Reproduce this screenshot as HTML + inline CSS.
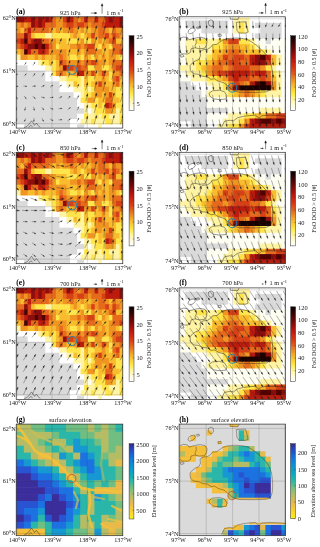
<!DOCTYPE html>
<html lang="en">
<head>
<meta charset="utf-8">
<title>FoO DOD and wind fields</title>
<style>html,body{margin:0;padding:0;background:#fff}body{width:320px;height:547px;overflow:hidden}svg{display:block}</style>
</head>
<body>
<svg width="320" height="547" viewBox="0 0 320 547" font-family="Liberation Serif, serif" fill="#1a1a1a">
<defs>
<filter id="bl" x="-5%" y="-5%" width="110%" height="110%"><feGaussianBlur stdDeviation="0.75"/></filter>
<linearGradient id="gh" x1="0" y1="0" x2="0" y2="1"><stop offset="0.000" stop-color="#080000"/><stop offset="0.042" stop-color="#1e0202"/><stop offset="0.083" stop-color="#330404"/><stop offset="0.125" stop-color="#4b0605"/><stop offset="0.167" stop-color="#630706"/><stop offset="0.208" stop-color="#7d0a07"/><stop offset="0.250" stop-color="#960d09"/><stop offset="0.292" stop-color="#ae120c"/><stop offset="0.333" stop-color="#c5180f"/><stop offset="0.375" stop-color="#d12311"/><stop offset="0.417" stop-color="#d72f13"/><stop offset="0.458" stop-color="#dc4216"/><stop offset="0.500" stop-color="#e0571a"/><stop offset="0.542" stop-color="#e66f1f"/><stop offset="0.583" stop-color="#ed8925"/><stop offset="0.625" stop-color="#f2a129"/><stop offset="0.667" stop-color="#f7b92b"/><stop offset="0.708" stop-color="#fbcd2f"/><stop offset="0.750" stop-color="#fedf35"/><stop offset="0.792" stop-color="#ffeb51"/><stop offset="0.833" stop-color="#fff184"/><stop offset="0.875" stop-color="#fff6ae"/><stop offset="0.917" stop-color="#ffface"/><stop offset="0.958" stop-color="#fffde8"/><stop offset="1.000" stop-color="#ffffff"/></linearGradient>
<linearGradient id="gp" x1="0" y1="0" x2="0" y2="1"><stop offset="0.000" stop-color="#352a87"/><stop offset="0.042" stop-color="#2c3ba7"/><stop offset="0.083" stop-color="#234cc7"/><stop offset="0.125" stop-color="#1c5cd6"/><stop offset="0.167" stop-color="#156cd8"/><stop offset="0.208" stop-color="#107bd9"/><stop offset="0.250" stop-color="#0e86d6"/><stop offset="0.292" stop-color="#0c91d3"/><stop offset="0.333" stop-color="#0a9acd"/><stop offset="0.375" stop-color="#08a4c6"/><stop offset="0.417" stop-color="#0eabbd"/><stop offset="0.458" stop-color="#1eb1b1"/><stop offset="0.500" stop-color="#2eb7a4"/><stop offset="0.542" stop-color="#4eba93"/><stop offset="0.583" stop-color="#6fbe82"/><stop offset="0.625" stop-color="#8bbe75"/><stop offset="0.667" stop-color="#a3be6c"/><stop offset="0.708" stop-color="#bbbd62"/><stop offset="0.750" stop-color="#d0bb59"/><stop offset="0.792" stop-color="#e5b950"/><stop offset="0.833" stop-color="#efc242"/><stop offset="0.875" stop-color="#f6cc33"/><stop offset="0.917" stop-color="#fad728"/><stop offset="0.958" stop-color="#f9e324"/><stop offset="1.000" stop-color="#f9ee20"/></linearGradient>
</defs>
<rect width="320" height="547" fill="#ffffff"/>
<clipPath id="c1"><rect x="16.2" y="16.8" width="106.6" height="111.3"/></clipPath>
<g clip-path="url(#c1)">
<g filter="url(#bl)"><rect x="16.2" y="16.8" width="106.6" height="111.3" fill="#fff"/><rect x="14" y="14" width="10.8" height="9.1" fill="#8c0c08"/><rect x="24.1" y="14" width="7.8" height="9.1" fill="#bc1a0e"/><rect x="31.1" y="14" width="4.2" height="9.1" fill="#8c0c08"/><rect x="34.7" y="14" width="4.2" height="9.1" fill="#bc1a0e"/><rect x="38.2" y="14" width="4.2" height="9.1" fill="#8c0c08"/><rect x="41.7" y="14" width="4.2" height="9.1" fill="#bc1a0e"/><rect x="45.3" y="14" width="4.2" height="9.1" fill="#8c0c08"/><rect x="48.8" y="14" width="4.2" height="9.1" fill="#bc1a0e"/><rect x="52.3" y="14" width="4.2" height="9.1" fill="#e66a1c"/><rect x="55.9" y="14" width="7.8" height="9.1" fill="#f09424"/><rect x="62.9" y="14" width="4.2" height="9.1" fill="#d64014"/><rect x="66.5" y="14" width="4.2" height="9.1" fill="#8c0c08"/><rect x="70" y="14" width="4.2" height="9.1" fill="#bc1a0e"/><rect x="73.5" y="14" width="4.2" height="9.1" fill="#e66a1c"/><rect x="77.1" y="14" width="4.2" height="9.1" fill="#f09424"/><rect x="80.6" y="14" width="4.2" height="9.1" fill="#e66a1c"/><rect x="84.1" y="14" width="4.2" height="9.1" fill="#bc1a0e"/><rect x="87.7" y="14" width="7.8" height="9.1" fill="#e66a1c"/><rect x="94.7" y="14" width="4.2" height="9.1" fill="#bc1a0e"/><rect x="98.3" y="14" width="7.8" height="9.1" fill="#e66a1c"/><rect x="105.3" y="14" width="4.2" height="9.1" fill="#bc1a0e"/><rect x="108.9" y="14" width="4.2" height="9.1" fill="#8c0c08"/><rect x="112.4" y="14" width="7.8" height="9.1" fill="#bc1a0e"/><rect x="119.5" y="14" width="7.2" height="9.1" fill="#8c0c08"/><rect x="14" y="22.4" width="7.2" height="6.1" fill="#f09424"/><rect x="20.5" y="22.4" width="4.2" height="6.1" fill="#e66a1c"/><rect x="24.1" y="22.4" width="4.2" height="6.1" fill="#f09424"/><rect x="27.6" y="22.4" width="4.2" height="6.1" fill="#e66a1c"/><rect x="31.1" y="22.4" width="4.2" height="6.1" fill="#8c0c08"/><rect x="34.7" y="22.4" width="4.2" height="6.1" fill="#bc1a0e"/><rect x="38.2" y="22.4" width="4.2" height="6.1" fill="#8c0c08"/><rect x="41.7" y="22.4" width="4.2" height="6.1" fill="#bc1a0e"/><rect x="45.3" y="22.4" width="11.3" height="6.1" fill="#e66a1c"/><rect x="55.9" y="22.4" width="7.8" height="6.1" fill="#f09424"/><rect x="62.9" y="22.4" width="4.2" height="6.1" fill="#e66a1c"/><rect x="66.5" y="22.4" width="7.8" height="6.1" fill="#d64014"/><rect x="73.5" y="22.4" width="4.2" height="6.1" fill="#e66a1c"/><rect x="77.1" y="22.4" width="7.8" height="6.1" fill="#d64014"/><rect x="84.1" y="22.4" width="4.2" height="6.1" fill="#e66a1c"/><rect x="87.7" y="22.4" width="4.2" height="6.1" fill="#f09424"/><rect x="91.2" y="22.4" width="11.3" height="6.1" fill="#e66a1c"/><rect x="101.8" y="22.4" width="4.2" height="6.1" fill="#d64014"/><rect x="105.3" y="22.4" width="14.8" height="6.1" fill="#bc1a0e"/><rect x="119.5" y="22.4" width="7.2" height="6.1" fill="#8c0c08"/><rect x="14" y="27.7" width="7.2" height="6.1" fill="#f09424"/><rect x="20.5" y="27.7" width="4.2" height="6.1" fill="#f9bc2e"/><rect x="24.1" y="27.7" width="4.2" height="6.1" fill="#e66a1c"/><rect x="27.6" y="27.7" width="4.2" height="6.1" fill="#bc1a0e"/><rect x="31.1" y="27.7" width="18.4" height="6.1" fill="#e66a1c"/><rect x="48.8" y="27.7" width="4.2" height="6.1" fill="#f09424"/><rect x="52.3" y="27.7" width="4.2" height="6.1" fill="#f9bc2e"/><rect x="55.9" y="27.7" width="4.2" height="6.1" fill="#f09424"/><rect x="59.4" y="27.7" width="4.2" height="6.1" fill="#f9bc2e"/><rect x="62.9" y="27.7" width="7.8" height="6.1" fill="#f09424"/><rect x="70" y="27.7" width="4.2" height="6.1" fill="#e66a1c"/><rect x="73.5" y="27.7" width="4.2" height="6.1" fill="#f09424"/><rect x="77.1" y="27.7" width="4.2" height="6.1" fill="#f9bc2e"/><rect x="80.6" y="27.7" width="4.2" height="6.1" fill="#f09424"/><rect x="84.1" y="27.7" width="7.8" height="6.1" fill="#f9bc2e"/><rect x="91.2" y="27.7" width="7.8" height="6.1" fill="#f09424"/><rect x="98.3" y="27.7" width="7.8" height="6.1" fill="#e66a1c"/><rect x="105.3" y="27.7" width="4.2" height="6.1" fill="#f09424"/><rect x="108.9" y="27.7" width="4.2" height="6.1" fill="#f9bc2e"/><rect x="112.4" y="27.7" width="4.2" height="6.1" fill="#e66a1c"/><rect x="115.9" y="27.7" width="10.8" height="6.1" fill="#f09424"/><rect x="14" y="33.1" width="10.8" height="6.1" fill="#e66a1c"/><rect x="24.1" y="33.1" width="4.2" height="6.1" fill="#8c0c08"/><rect x="27.6" y="33.1" width="4.2" height="6.1" fill="#d64014"/><rect x="31.1" y="33.1" width="4.2" height="6.1" fill="#f9bc2e"/><rect x="34.7" y="33.1" width="11.3" height="6.1" fill="#ffe44c"/><rect x="45.3" y="33.1" width="7.8" height="6.1" fill="#fff3a4"/><rect x="52.3" y="33.1" width="18.4" height="6.1" fill="#ffe44c"/><rect x="70" y="33.1" width="4.2" height="6.1" fill="#f9bc2e"/><rect x="73.5" y="33.1" width="4.2" height="6.1" fill="#f09424"/><rect x="77.1" y="33.1" width="4.2" height="6.1" fill="#f9bc2e"/><rect x="80.6" y="33.1" width="4.2" height="6.1" fill="#ffe44c"/><rect x="84.1" y="33.1" width="4.2" height="6.1" fill="#f9bc2e"/><rect x="87.7" y="33.1" width="4.2" height="6.1" fill="#f09424"/><rect x="91.2" y="33.1" width="4.2" height="6.1" fill="#d64014"/><rect x="94.7" y="33.1" width="4.2" height="6.1" fill="#f09424"/><rect x="98.3" y="33.1" width="7.8" height="6.1" fill="#e66a1c"/><rect x="105.3" y="33.1" width="4.2" height="6.1" fill="#d64014"/><rect x="108.9" y="33.1" width="4.2" height="6.1" fill="#f09424"/><rect x="112.4" y="33.1" width="4.2" height="6.1" fill="#d64014"/><rect x="115.9" y="33.1" width="4.2" height="6.1" fill="#e66a1c"/><rect x="119.5" y="33.1" width="7.2" height="6.1" fill="#f09424"/><rect x="14" y="38.5" width="7.2" height="6.1" fill="#d64014"/><rect x="20.5" y="38.5" width="4.2" height="6.1" fill="#bc1a0e"/><rect x="24.1" y="38.5" width="4.2" height="6.1" fill="#520505"/><rect x="27.6" y="38.5" width="4.2" height="6.1" fill="#d64014"/><rect x="31.1" y="38.5" width="4.2" height="6.1" fill="#bc1a0e"/><rect x="34.7" y="38.5" width="7.8" height="6.1" fill="#8c0c08"/><rect x="41.7" y="38.5" width="7.8" height="6.1" fill="#e66a1c"/><rect x="48.8" y="38.5" width="7.8" height="6.1" fill="#f09424"/><rect x="55.9" y="38.5" width="11.3" height="6.1" fill="#f9bc2e"/><rect x="66.5" y="38.5" width="11.3" height="6.1" fill="#ffe44c"/><rect x="77.1" y="38.5" width="4.2" height="6.1" fill="#f9bc2e"/><rect x="80.6" y="38.5" width="4.2" height="6.1" fill="#f09424"/><rect x="84.1" y="38.5" width="7.8" height="6.1" fill="#ffe44c"/><rect x="91.2" y="38.5" width="4.2" height="6.1" fill="#f09424"/><rect x="94.7" y="38.5" width="4.2" height="6.1" fill="#f9bc2e"/><rect x="98.3" y="38.5" width="4.2" height="6.1" fill="#f09424"/><rect x="101.8" y="38.5" width="4.2" height="6.1" fill="#f9bc2e"/><rect x="105.3" y="38.5" width="4.2" height="6.1" fill="#f09424"/><rect x="108.9" y="38.5" width="4.2" height="6.1" fill="#e66a1c"/><rect x="112.4" y="38.5" width="4.2" height="6.1" fill="#d64014"/><rect x="115.9" y="38.5" width="10.8" height="6.1" fill="#f9bc2e"/><rect x="14" y="43.8" width="7.2" height="6.1" fill="#e66a1c"/><rect x="20.5" y="43.8" width="4.2" height="6.1" fill="#d64014"/><rect x="24.1" y="43.8" width="4.2" height="6.1" fill="#bc1a0e"/><rect x="27.6" y="43.8" width="7.8" height="6.1" fill="#8c0c08"/><rect x="34.7" y="43.8" width="4.2" height="6.1" fill="#520505"/><rect x="38.2" y="43.8" width="4.2" height="6.1" fill="#8c0c08"/><rect x="41.7" y="43.8" width="4.2" height="6.1" fill="#520505"/><rect x="45.3" y="43.8" width="4.2" height="6.1" fill="#bc1a0e"/><rect x="48.8" y="43.8" width="4.2" height="6.1" fill="#e66a1c"/><rect x="52.3" y="43.8" width="4.2" height="6.1" fill="#f09424"/><rect x="55.9" y="43.8" width="4.2" height="6.1" fill="#ffe44c"/><rect x="59.4" y="43.8" width="11.3" height="6.1" fill="#f9bc2e"/><rect x="70" y="43.8" width="7.8" height="6.1" fill="#f09424"/><rect x="77.1" y="43.8" width="4.2" height="6.1" fill="#e66a1c"/><rect x="80.6" y="43.8" width="4.2" height="6.1" fill="#f09424"/><rect x="84.1" y="43.8" width="4.2" height="6.1" fill="#e66a1c"/><rect x="87.7" y="43.8" width="7.8" height="6.1" fill="#d64014"/><rect x="94.7" y="43.8" width="4.2" height="6.1" fill="#f9bc2e"/><rect x="98.3" y="43.8" width="4.2" height="6.1" fill="#ffe44c"/><rect x="101.8" y="43.8" width="4.2" height="6.1" fill="#f09424"/><rect x="105.3" y="43.8" width="4.2" height="6.1" fill="#f9bc2e"/><rect x="108.9" y="43.8" width="4.2" height="6.1" fill="#ffe44c"/><rect x="112.4" y="43.8" width="14.3" height="6.1" fill="#e66a1c"/><rect x="14" y="49.2" width="7.2" height="6.1" fill="#f9bc2e"/><rect x="20.5" y="49.2" width="4.2" height="6.1" fill="#f09424"/><rect x="24.1" y="49.2" width="4.2" height="6.1" fill="#520505"/><rect x="27.6" y="49.2" width="4.2" height="6.1" fill="#bc1a0e"/><rect x="31.1" y="49.2" width="7.8" height="6.1" fill="#e66a1c"/><rect x="38.2" y="49.2" width="7.8" height="6.1" fill="#bc1a0e"/><rect x="45.3" y="49.2" width="4.2" height="6.1" fill="#d64014"/><rect x="48.8" y="49.2" width="18.4" height="6.1" fill="#f09424"/><rect x="66.5" y="49.2" width="11.3" height="6.1" fill="#f9bc2e"/><rect x="77.1" y="49.2" width="4.2" height="6.1" fill="#f09424"/><rect x="80.6" y="49.2" width="4.2" height="6.1" fill="#f9bc2e"/><rect x="84.1" y="49.2" width="4.2" height="6.1" fill="#f09424"/><rect x="87.7" y="49.2" width="7.8" height="6.1" fill="#e66a1c"/><rect x="94.7" y="49.2" width="7.8" height="6.1" fill="#f09424"/><rect x="101.8" y="49.2" width="7.8" height="6.1" fill="#f9bc2e"/><rect x="108.9" y="49.2" width="4.2" height="6.1" fill="#f09424"/><rect x="112.4" y="49.2" width="7.8" height="6.1" fill="#e66a1c"/><rect x="119.5" y="49.2" width="7.2" height="6.1" fill="#d64014"/><rect x="14" y="54.6" width="7.2" height="6.1" fill="#fff3a4"/><rect x="20.5" y="54.6" width="7.8" height="6.1" fill="#f09424"/><rect x="27.6" y="54.6" width="7.8" height="6.1" fill="#f9bc2e"/><rect x="34.7" y="54.6" width="4.2" height="6.1" fill="#f09424"/><rect x="38.2" y="54.6" width="4.2" height="6.1" fill="#f9bc2e"/><rect x="41.7" y="54.6" width="4.2" height="6.1" fill="#f09424"/><rect x="45.3" y="54.6" width="11.3" height="6.1" fill="#f9bc2e"/><rect x="55.9" y="54.6" width="4.2" height="6.1" fill="#f09424"/><rect x="59.4" y="54.6" width="4.2" height="6.1" fill="#e66a1c"/><rect x="62.9" y="54.6" width="4.2" height="6.1" fill="#f09424"/><rect x="66.5" y="54.6" width="4.2" height="6.1" fill="#f9bc2e"/><rect x="70" y="54.6" width="7.8" height="6.1" fill="#ffe44c"/><rect x="77.1" y="54.6" width="4.2" height="6.1" fill="#f9bc2e"/><rect x="80.6" y="54.6" width="4.2" height="6.1" fill="#ffe44c"/><rect x="84.1" y="54.6" width="4.2" height="6.1" fill="#f09424"/><rect x="87.7" y="54.6" width="4.2" height="6.1" fill="#f9bc2e"/><rect x="91.2" y="54.6" width="4.2" height="6.1" fill="#ffe44c"/><rect x="94.7" y="54.6" width="4.2" height="6.1" fill="#f09424"/><rect x="98.3" y="54.6" width="4.2" height="6.1" fill="#f9bc2e"/><rect x="101.8" y="54.6" width="4.2" height="6.1" fill="#f09424"/><rect x="105.3" y="54.6" width="4.2" height="6.1" fill="#f9bc2e"/><rect x="108.9" y="54.6" width="7.8" height="6.1" fill="#f09424"/><rect x="115.9" y="54.6" width="4.2" height="6.1" fill="#f9bc2e"/><rect x="119.5" y="54.6" width="7.2" height="6.1" fill="#ffe44c"/><rect x="14" y="60" width="24.9" height="6.1" fill="#ffffff"/><rect x="38.2" y="60" width="4.2" height="6.1" fill="#fff3a4"/><rect x="41.7" y="60" width="7.8" height="6.1" fill="#ffe44c"/><rect x="48.8" y="60" width="4.2" height="6.1" fill="#f9bc2e"/><rect x="52.3" y="60" width="4.2" height="6.1" fill="#ffe44c"/><rect x="55.9" y="60" width="4.2" height="6.1" fill="#f9bc2e"/><rect x="59.4" y="60" width="4.2" height="6.1" fill="#d64014"/><rect x="62.9" y="60" width="4.2" height="6.1" fill="#e66a1c"/><rect x="66.5" y="60" width="11.3" height="6.1" fill="#f09424"/><rect x="77.1" y="60" width="4.2" height="6.1" fill="#e66a1c"/><rect x="80.6" y="60" width="4.2" height="6.1" fill="#f09424"/><rect x="84.1" y="60" width="7.8" height="6.1" fill="#e66a1c"/><rect x="91.2" y="60" width="4.2" height="6.1" fill="#d64014"/><rect x="94.7" y="60" width="4.2" height="6.1" fill="#e66a1c"/><rect x="98.3" y="60" width="7.8" height="6.1" fill="#f09424"/><rect x="105.3" y="60" width="4.2" height="6.1" fill="#f9bc2e"/><rect x="108.9" y="60" width="4.2" height="6.1" fill="#f09424"/><rect x="112.4" y="60" width="14.3" height="6.1" fill="#e66a1c"/><rect x="14" y="65.3" width="14.3" height="6.1" fill="#dadada"/><rect x="27.6" y="65.3" width="18.4" height="6.1" fill="#ffffff"/><rect x="45.3" y="65.3" width="7.8" height="6.1" fill="#fff3a4"/><rect x="52.3" y="65.3" width="4.2" height="6.1" fill="#ffe44c"/><rect x="55.9" y="65.3" width="4.2" height="6.1" fill="#f9bc2e"/><rect x="59.4" y="65.3" width="4.2" height="6.1" fill="#f09424"/><rect x="62.9" y="65.3" width="4.2" height="6.1" fill="#8c0c08"/><rect x="66.5" y="65.3" width="7.8" height="6.1" fill="#d64014"/><rect x="73.5" y="65.3" width="4.2" height="6.1" fill="#e66a1c"/><rect x="77.1" y="65.3" width="4.2" height="6.1" fill="#d64014"/><rect x="80.6" y="65.3" width="7.8" height="6.1" fill="#e66a1c"/><rect x="87.7" y="65.3" width="7.8" height="6.1" fill="#ffe44c"/><rect x="94.7" y="65.3" width="7.8" height="6.1" fill="#f09424"/><rect x="101.8" y="65.3" width="7.8" height="6.1" fill="#ffe44c"/><rect x="108.9" y="65.3" width="4.2" height="6.1" fill="#f9bc2e"/><rect x="112.4" y="65.3" width="4.2" height="6.1" fill="#e66a1c"/><rect x="115.9" y="65.3" width="10.8" height="6.1" fill="#d64014"/><rect x="14" y="70.7" width="32" height="6.1" fill="#dadada"/><rect x="45.3" y="70.7" width="7.8" height="6.1" fill="#ffffff"/><rect x="52.3" y="70.7" width="4.2" height="6.1" fill="#ffe44c"/><rect x="55.9" y="70.7" width="4.2" height="6.1" fill="#f09424"/><rect x="59.4" y="70.7" width="4.2" height="6.1" fill="#e66a1c"/><rect x="62.9" y="70.7" width="4.2" height="6.1" fill="#f09424"/><rect x="66.5" y="70.7" width="7.8" height="6.1" fill="#f9bc2e"/><rect x="73.5" y="70.7" width="4.2" height="6.1" fill="#f09424"/><rect x="77.1" y="70.7" width="7.8" height="6.1" fill="#bc1a0e"/><rect x="84.1" y="70.7" width="7.8" height="6.1" fill="#f09424"/><rect x="91.2" y="70.7" width="4.2" height="6.1" fill="#d64014"/><rect x="94.7" y="70.7" width="4.2" height="6.1" fill="#f9bc2e"/><rect x="98.3" y="70.7" width="4.2" height="6.1" fill="#f09424"/><rect x="101.8" y="70.7" width="4.2" height="6.1" fill="#d64014"/><rect x="105.3" y="70.7" width="4.2" height="6.1" fill="#f09424"/><rect x="108.9" y="70.7" width="4.2" height="6.1" fill="#ffe44c"/><rect x="112.4" y="70.7" width="7.8" height="6.1" fill="#f09424"/><rect x="119.5" y="70.7" width="7.2" height="6.1" fill="#e66a1c"/><rect x="14" y="76.1" width="32" height="6.1" fill="#dadada"/><rect x="45.3" y="76.1" width="14.8" height="6.1" fill="#ffffff"/><rect x="59.4" y="76.1" width="7.8" height="6.1" fill="#fff3a4"/><rect x="66.5" y="76.1" width="14.8" height="6.1" fill="#ffe44c"/><rect x="80.6" y="76.1" width="4.2" height="6.1" fill="#fff3a4"/><rect x="84.1" y="76.1" width="4.2" height="6.1" fill="#f9bc2e"/><rect x="87.7" y="76.1" width="7.8" height="6.1" fill="#ffe44c"/><rect x="94.7" y="76.1" width="7.8" height="6.1" fill="#f9bc2e"/><rect x="101.8" y="76.1" width="4.2" height="6.1" fill="#f09424"/><rect x="105.3" y="76.1" width="4.2" height="6.1" fill="#f9bc2e"/><rect x="108.9" y="76.1" width="4.2" height="6.1" fill="#ffe44c"/><rect x="112.4" y="76.1" width="4.2" height="6.1" fill="#e66a1c"/><rect x="115.9" y="76.1" width="4.2" height="6.1" fill="#d64014"/><rect x="119.5" y="76.1" width="7.2" height="6.1" fill="#f9bc2e"/><rect x="14" y="81.4" width="46.1" height="6.1" fill="#dadada"/><rect x="59.4" y="81.4" width="7.8" height="6.1" fill="#ffffff"/><rect x="66.5" y="81.4" width="7.8" height="6.1" fill="#fff3a4"/><rect x="73.5" y="81.4" width="4.2" height="6.1" fill="#f9bc2e"/><rect x="77.1" y="81.4" width="4.2" height="6.1" fill="#ffe44c"/><rect x="80.6" y="81.4" width="4.2" height="6.1" fill="#fff3a4"/><rect x="84.1" y="81.4" width="4.2" height="6.1" fill="#f9bc2e"/><rect x="87.7" y="81.4" width="4.2" height="6.1" fill="#ffe44c"/><rect x="91.2" y="81.4" width="4.2" height="6.1" fill="#f9bc2e"/><rect x="94.7" y="81.4" width="4.2" height="6.1" fill="#f09424"/><rect x="98.3" y="81.4" width="4.2" height="6.1" fill="#d64014"/><rect x="101.8" y="81.4" width="4.2" height="6.1" fill="#f09424"/><rect x="105.3" y="81.4" width="7.8" height="6.1" fill="#f9bc2e"/><rect x="112.4" y="81.4" width="4.2" height="6.1" fill="#f09424"/><rect x="115.9" y="81.4" width="4.2" height="6.1" fill="#e66a1c"/><rect x="119.5" y="81.4" width="7.2" height="6.1" fill="#f9bc2e"/><rect x="14" y="86.8" width="46.1" height="6.1" fill="#dadada"/><rect x="59.4" y="86.8" width="14.8" height="6.1" fill="#ffffff"/><rect x="73.5" y="86.8" width="11.3" height="6.1" fill="#fff3a4"/><rect x="84.1" y="86.8" width="4.2" height="6.1" fill="#ffe44c"/><rect x="87.7" y="86.8" width="4.2" height="6.1" fill="#fff3a4"/><rect x="91.2" y="86.8" width="4.2" height="6.1" fill="#ffe44c"/><rect x="94.7" y="86.8" width="14.8" height="6.1" fill="#f09424"/><rect x="108.9" y="86.8" width="7.8" height="6.1" fill="#f9bc2e"/><rect x="115.9" y="86.8" width="10.8" height="6.1" fill="#ffe44c"/><rect x="14" y="92.2" width="60.2" height="6.1" fill="#dadada"/><rect x="73.5" y="92.2" width="7.8" height="6.1" fill="#ffffff"/><rect x="80.6" y="92.2" width="4.2" height="6.1" fill="#fff3a4"/><rect x="84.1" y="92.2" width="7.8" height="6.1" fill="#ffe44c"/><rect x="91.2" y="92.2" width="4.2" height="6.1" fill="#f9bc2e"/><rect x="94.7" y="92.2" width="7.8" height="6.1" fill="#f09424"/><rect x="101.8" y="92.2" width="4.2" height="6.1" fill="#f9bc2e"/><rect x="105.3" y="92.2" width="4.2" height="6.1" fill="#f09424"/><rect x="108.9" y="92.2" width="4.2" height="6.1" fill="#d64014"/><rect x="112.4" y="92.2" width="4.2" height="6.1" fill="#f9bc2e"/><rect x="115.9" y="92.2" width="10.8" height="6.1" fill="#ffe44c"/><rect x="14" y="97.6" width="63.8" height="6.1" fill="#dadada"/><rect x="77.1" y="97.6" width="4.2" height="6.1" fill="#ffffff"/><rect x="80.6" y="97.6" width="7.8" height="6.1" fill="#ffe44c"/><rect x="87.7" y="97.6" width="7.8" height="6.1" fill="#f09424"/><rect x="94.7" y="97.6" width="4.2" height="6.1" fill="#ffe44c"/><rect x="98.3" y="97.6" width="7.8" height="6.1" fill="#f9bc2e"/><rect x="105.3" y="97.6" width="7.8" height="6.1" fill="#e66a1c"/><rect x="112.4" y="97.6" width="7.8" height="6.1" fill="#f9bc2e"/><rect x="119.5" y="97.6" width="7.2" height="6.1" fill="#ffe44c"/><rect x="14" y="102.9" width="63.8" height="6.1" fill="#dadada"/><rect x="77.1" y="102.9" width="7.8" height="6.1" fill="#ffffff"/><rect x="84.1" y="102.9" width="7.8" height="6.1" fill="#fff3a4"/><rect x="91.2" y="102.9" width="7.8" height="6.1" fill="#ffe44c"/><rect x="98.3" y="102.9" width="4.2" height="6.1" fill="#f9bc2e"/><rect x="101.8" y="102.9" width="4.2" height="6.1" fill="#ffe44c"/><rect x="105.3" y="102.9" width="4.2" height="6.1" fill="#bc1a0e"/><rect x="108.9" y="102.9" width="4.2" height="6.1" fill="#d64014"/><rect x="112.4" y="102.9" width="4.2" height="6.1" fill="#f09424"/><rect x="115.9" y="102.9" width="10.8" height="6.1" fill="#ffe44c"/><rect x="14" y="108.3" width="70.8" height="6.1" fill="#dadada"/><rect x="84.1" y="108.3" width="4.2" height="6.1" fill="#fff3a4"/><rect x="87.7" y="108.3" width="4.2" height="6.1" fill="#fffef2"/><rect x="91.2" y="108.3" width="4.2" height="6.1" fill="#fff3a4"/><rect x="94.7" y="108.3" width="11.3" height="6.1" fill="#ffe44c"/><rect x="105.3" y="108.3" width="7.8" height="6.1" fill="#f09424"/><rect x="112.4" y="108.3" width="4.2" height="6.1" fill="#f9bc2e"/><rect x="115.9" y="108.3" width="4.2" height="6.1" fill="#fff3a4"/><rect x="119.5" y="108.3" width="7.2" height="6.1" fill="#ffe44c"/><rect x="14" y="113.7" width="63.8" height="6.1" fill="#dadada"/><rect x="77.1" y="113.7" width="7.8" height="6.1" fill="#ffffff"/><rect x="84.1" y="113.7" width="4.2" height="6.1" fill="#ffe44c"/><rect x="87.7" y="113.7" width="7.8" height="6.1" fill="#fff3a4"/><rect x="94.7" y="113.7" width="4.2" height="6.1" fill="#ffe44c"/><rect x="98.3" y="113.7" width="4.2" height="6.1" fill="#fff3a4"/><rect x="101.8" y="113.7" width="7.8" height="6.1" fill="#ffe44c"/><rect x="108.9" y="113.7" width="11.3" height="6.1" fill="#fff3a4"/><rect x="119.5" y="113.7" width="7.2" height="6.1" fill="#ffe44c"/><rect x="14" y="119" width="56.7" height="6.1" fill="#dadada"/><rect x="70" y="119" width="11.3" height="6.1" fill="#ffffff"/><rect x="80.6" y="119" width="11.3" height="6.1" fill="#fff3a4"/><rect x="91.2" y="119" width="4.2" height="6.1" fill="#ffe44c"/><rect x="94.7" y="119" width="11.3" height="6.1" fill="#fff3a4"/><rect x="105.3" y="119" width="7.8" height="6.1" fill="#ffe44c"/><rect x="112.4" y="119" width="7.8" height="6.1" fill="#fff3a4"/><rect x="119.5" y="119" width="7.2" height="6.1" fill="#ffe44c"/><rect x="14" y="124.4" width="10.8" height="7.4" fill="#ffffff"/><rect x="24.1" y="124.4" width="46.6" height="7.4" fill="#dadada"/><rect x="70" y="124.4" width="7.8" height="7.4" fill="#ffffff"/><rect x="77.1" y="124.4" width="7.8" height="7.4" fill="#dadada"/><rect x="84.1" y="124.4" width="14.8" height="7.4" fill="#ffffff"/><rect x="98.3" y="124.4" width="4.2" height="7.4" fill="#fff3a4"/><rect x="101.8" y="124.4" width="24.9" height="7.4" fill="#ffffff"/></g>
</g>
<g stroke="#333" stroke-width="0.35" stroke-opacity="0.5"><path d="M16.8 16.8V128.1"/><path d="M52 16.8V128.1"/><path d="M87.3 16.8V128.1"/><path d="M122.4 16.8V128.1"/><path d="M16.2 18.2H122.8"/><path d="M16.2 71.2H122.8"/><path d="M16.2 123.6H122.8"/></g>
<rect x="16.2" y="16.8" width="106.6" height="111.3" fill="none" stroke="#2e2e2e" stroke-width="0.7"/>
<g fill="none" stroke="#1a1a1a" stroke-width="0.5" stroke-opacity="0.9" stroke-linejoin="round" transform="translate(16.2 16.8)">
<path d="M8 110.8L11 109.5L13.5 106.5L15.3 104L17 106.3L18.3 108.5L20.2 106.2L22 108.6L24 110.8"/>
<path d="M12.5 110.8L14.5 108.5L16.5 110"/>
</g>
<path clip-path="url(#c1)" stroke="#1c1c1c" fill="#1c1c1c" stroke-width="0.34" stroke-linejoin="miter" d="M15.5 19.9L16.6 18.8M17.3 18.1L16.8 19L16.4 18.6ZM24.2 20.2L25.4 18.7M26.2 17.8L25.7 18.9L25.2 18.5ZM32.8 20.6L34.2 18.6M35.1 17.4L34.5 18.8L33.9 18.4ZM41.6 21L43 18.5M43.9 17L43.4 18.7L42.6 18.3ZM50.4 21.4L51.8 18.4M52.7 16.6L52.3 18.6L51.3 18.2ZM59.2 21.9L60.6 18.3M61.4 16.1L61.1 18.5L60 18.1ZM68.2 22.3L69.4 18M70 15.7L69.9 18.2L68.8 17.8ZM76.9 22.7L78.2 17.6M78.8 15.3L78.8 17.8L77.6 17.5ZM85.6 23L87.1 17.3M87.7 15L87.7 17.4L86.5 17.1ZM94.2 23.4L96 16.9M96.6 14.6L96.6 17.1L95.4 16.8ZM103 23.5L104.8 16.8M105.4 14.5L105.4 16.9L104.2 16.6ZM111.8 23.5L113.6 16.8M114.2 14.5L114.2 16.9L113 16.6ZM120.5 23.5L122.4 16.8M123 14.5L122.9 16.9L121.8 16.6ZM15.5 31.1L16.6 30M17.3 29.3L16.8 30.2L16.4 29.8ZM24.2 31.4L25.4 29.9M26.2 29L25.7 30.1L25.2 29.7ZM32.8 31.8L34.2 29.8M35.1 28.6L34.5 30L33.9 29.6ZM41.6 32.2L43 29.7M43.9 28.2L43.4 29.9L42.6 29.5ZM50.4 32.6L51.8 29.6M52.7 27.8L52.3 29.8L51.3 29.4ZM59.2 33.1L60.6 29.5M61.4 27.3L61.1 29.7L60 29.3ZM68.2 33.5L69.4 29.2M70 26.9L69.9 29.4L68.8 29ZM76.9 33.9L78.2 28.8M78.8 26.5L78.8 29L77.6 28.7ZM85.6 34.2L87.1 28.5M87.7 26.2L87.7 28.6L86.5 28.3ZM94.2 34.6L96 28.1M96.6 25.8L96.6 28.3L95.4 28ZM103 34.7L104.8 28M105.4 25.7L105.4 28.1L104.2 27.8ZM111.8 34.7L113.6 28M114.2 25.7L114.2 28.1L113 27.8ZM120.5 34.7L122.4 28M123 25.7L122.9 28.1L121.8 27.8ZM15.5 42.3L16.6 41.2M17.3 40.5L16.8 41.4L16.4 41ZM24.2 42.6L25.4 41.1M26.2 40.2L25.7 41.3L25.2 40.9ZM32.8 43L34.2 41M35.1 39.8L34.5 41.2L33.9 40.8ZM41.6 43.4L43 40.9M43.9 39.4L43.4 41.1L42.6 40.7ZM50.4 43.8L51.8 40.8M52.7 39L52.3 41L51.3 40.6ZM59.2 44.3L60.6 40.7M61.4 38.5L61.1 40.9L60 40.5ZM68.2 44.7L69.4 40.4M70 38.1L69.9 40.6L68.8 40.2ZM76.9 45.1L78.2 40M78.8 37.7L78.8 40.2L77.6 39.9ZM85.6 45.4L87.1 39.7M87.7 37.4L87.7 39.8L86.5 39.5ZM94.2 45.8L96 39.3M96.6 37L96.6 39.5L95.4 39.2ZM103 45.9L104.8 39.2M105.4 36.9L105.4 39.3L104.2 39ZM111.8 45.9L113.6 39.2M114.2 36.9L114.2 39.3L113 39ZM120.5 45.9L122.4 39.2M123 36.9L122.9 39.3L121.8 39ZM15.5 53.5L16.6 52.4M17.3 51.7L16.8 52.6L16.4 52.2ZM24.2 53.8L25.4 52.3M26.2 51.4L25.7 52.5L25.2 52.1ZM32.8 54.2L34.2 52.2M35.1 51L34.5 52.4L33.9 52ZM41.6 54.6L43 52.1M43.9 50.6L43.4 52.3L42.6 51.9ZM50.4 55L51.8 52M52.7 50.2L52.3 52.2L51.3 51.8ZM59.2 55.5L60.6 51.9M61.4 49.7L61.1 52.1L60 51.7ZM68.2 55.9L69.4 51.6M70 49.3L69.9 51.8L68.8 51.4ZM76.9 56.3L78.2 51.2M78.8 48.9L78.8 51.4L77.6 51.1ZM85.6 56.6L87.1 50.9M87.7 48.6L87.7 51L86.5 50.7ZM94.2 57L96 50.5M96.6 48.2L96.6 50.7L95.4 50.4ZM103 57.1L104.8 50.4M105.4 48.1L105.4 50.5L104.2 50.2ZM111.8 57.1L113.6 50.4M114.2 48.1L114.2 50.5L113 50.2ZM120.5 57.1L122.4 50.4M123 48.1L122.9 50.5L121.8 50.2ZM15.5 64.7L16.6 63.6M17.3 62.9L16.8 63.8L16.4 63.4ZM24.2 65L25.4 63.5M26.2 62.6L25.7 63.7L25.2 63.3ZM32.8 65.4L34.2 63.4M35.1 62.2L34.5 63.6L33.9 63.2ZM41.6 65.8L43 63.3M43.9 61.8L43.4 63.5L42.6 63.1ZM50.4 66.2L51.8 63.2M52.7 61.4L52.3 63.4L51.3 63ZM59.2 66.7L60.6 63.1M61.4 60.9L61.1 63.3L60 62.9ZM68.2 67.1L69.4 62.8M70 60.5L69.9 63L68.8 62.6ZM76.9 67.5L78.2 62.4M78.8 60.1L78.8 62.6L77.6 62.3ZM85.6 67.8L87.1 62.1M87.7 59.8L87.7 62.2L86.5 61.9ZM94.2 68.2L96 61.7M96.6 59.4L96.6 61.9L95.4 61.6ZM103 68.3L104.8 61.6M105.4 59.3L105.4 61.7L104.2 61.4ZM111.8 68.3L113.6 61.6M114.2 59.3L114.2 61.7L113 61.4ZM120.5 68.3L122.4 61.6M123 59.3L122.9 61.7L121.8 61.4ZM15.3 76.1L16.7 74.7M17.5 73.9L16.9 75L16.5 74.5ZM24 76.3L25.5 74.7M26.3 73.7L25.7 74.9L25.2 74.5ZM32.9 76.5L34.2 74.6M35.1 73.5L34.5 74.8L33.9 74.4ZM41.7 76.7L43 74.6M43.8 73.3L43.3 74.8L42.7 74.4ZM50.6 76.9L51.7 74.5M52.5 73.1L52.1 74.7L51.4 74.4ZM59.5 77.1L60.5 74.5M61.1 72.9L60.9 74.6L60.1 74.3ZM68.4 77.4L69.2 74.4M69.7 72.6L69.7 74.6L68.8 74.3ZM77.1 77.7L78 74.4M78.6 72.3L78.5 74.5L77.5 74.2ZM85.6 78.8L87 73.5M87.7 71.2L87.6 73.7L86.5 73.4ZM94.2 79.4L96 72.9M96.6 70.6L96.6 73.1L95.4 72.8ZM103 79.5L104.8 72.8M105.4 70.5L105.4 72.9L104.2 72.6ZM111.8 79.5L113.6 72.8M114.2 70.5L114.2 72.9L113 72.6ZM120.5 79.5L122.4 72.8M123 70.5L122.9 72.9L121.8 72.6ZM14.6 86L16.8 86.3M18.2 86.4L16.8 86.6L16.9 85.9ZM23.4 86.1L25.6 86.2M27 86.3L25.6 86.6L25.6 85.9ZM32.2 86.5L34.4 86.1M35.7 85.9L34.4 86.5L34.3 85.8ZM41.1 86.9L43.1 86M44.4 85.5L43.3 86.4L43 85.7ZM50 87.2L51.9 86M53 85.2L52.1 86.2L51.7 85.7ZM59.1 87.5L60.6 85.9M61.5 84.9L60.8 86.1L60.3 85.6ZM68.2 87.8L69.3 85.8M69.9 84.6L69.6 86L69 85.7ZM77.2 88.2L78 85.7M78.6 84.2L78.4 85.9L77.6 85.6ZM85.7 89.9L87 84.9M87.6 82.5L87.6 85L86.4 84.7ZM94.2 90.6L96 84.1M96.6 81.8L96.6 84.3L95.4 84ZM103 90.7L104.8 84M105.4 81.7L105.4 84.1L104.2 83.8ZM111.8 90.7L113.6 84M114.2 81.7L114.2 84.1L113 83.8ZM120.5 90.7L122.4 84M123 81.7L122.9 84.1L121.8 83.8ZM15.4 95.9L16.6 97.8M17.4 98.9L16.3 97.9L16.9 97.6ZM24.1 96L25.4 97.7M26.3 98.8L25.2 98L25.7 97.5ZM32.5 96.3L34.3 97.7M35.4 98.5L34.1 97.9L34.5 97.4ZM41 96.9L43.2 97.5M44.5 97.9L43.1 97.8L43.2 97.2ZM49.7 97.6L51.9 97.4M53.3 97.2L52 97.7L51.9 97ZM58.7 98.2L60.7 97.2M61.9 96.6L60.8 97.5L60.5 96.9ZM67.9 98.8L69.4 97.1M70.2 96L69.6 97.3L69.1 96.8ZM77 99.3L78.1 96.9M78.7 95.5L78.4 97.1L77.7 96.8ZM85.7 101.1L87 96.1M87.6 93.7L87.6 96.2L86.4 95.9ZM94.2 101.8L96 95.3M96.6 93L96.6 95.5L95.4 95.2ZM103 101.9L104.8 95.2M105.4 92.9L105.4 95.3L104.2 95ZM111.8 101.9L113.6 95.2M114.2 92.9L114.2 95.3L113 95ZM120.5 101.9L122.4 95.2M123 92.9L122.9 95.3L121.8 95ZM16.9 106.9L16.3 109M15.9 110.3L15.9 108.9L16.6 109.1ZM25.6 106.8L25.1 109M24.8 110.4L24.8 108.9L25.4 109.1ZM33.7 106.8L34 109M34.2 110.4L33.7 109.1L34.4 109ZM41.7 107.2L43 108.9M43.8 110L42.7 109.2L43.3 108.7ZM49.9 107.9L51.9 108.8M53.2 109.3L51.8 109.1L52.1 108.5ZM58.5 108.8L60.7 108.5M62.1 108.4L60.8 108.9L60.7 108.2ZM67.6 109.7L69.4 108.3M70.5 107.5L69.6 108.6L69.2 108.1ZM76.9 110.5L78.1 108.2M78.8 106.7L78.4 108.3L77.7 108ZM85.7 112.3L87 107.3M87.6 104.9L87.6 107.4L86.4 107.1ZM94.2 113L96 106.5M96.6 104.2L96.6 106.7L95.4 106.4ZM103 113.1L104.8 106.4M105.4 104.1L105.4 106.5L104.2 106.2ZM111.8 113.1L113.6 106.4M114.2 104.1L114.2 106.5L113 106.2ZM120.5 113.1L122.4 106.4M123 104.1L122.9 106.5L121.8 106.2ZM17.3 118.2L16.2 120.2M15.5 121.4L15.9 120L16.5 120.3ZM25.9 118.2L25 120.2M24.4 121.4L24.7 120L25.3 120.3ZM34.1 118L33.9 120.2M33.8 121.6L33.6 120.2L34.3 120.3ZM41.9 118.2L42.9 120.2M43.6 121.4L42.6 120.3L43.2 120ZM50 118.9L51.9 120M53.1 120.7L51.7 120.3L52.1 119.7ZM58.5 119.9L60.7 119.8M62.1 119.7L60.7 120.1L60.7 119.4ZM67.6 120.8L69.4 119.6M70.6 118.8L69.6 119.8L69.2 119.3ZM76.8 121.6L78.1 119.4M78.9 118L78.5 119.5L77.8 119.2ZM85.7 123.5L87 118.5M87.6 116.1L87.6 118.6L86.4 118.3ZM94.2 124.2L96 117.7M96.6 115.4L96.6 117.9L95.4 117.6ZM103 124.3L104.8 117.6M105.4 115.3L105.4 117.7L104.2 117.4ZM111.8 124.3L113.6 117.6M114.2 115.3L114.2 117.7L113 117.4ZM120.5 124.3L122.4 117.6M123 115.3L122.9 117.7L121.8 117.4Z"/>
<circle cx="72.3" cy="69.9" r="4.5" fill="none" stroke="#1a84ba" stroke-width="1.0"/>
<text x="16.3" y="14.2" font-size="7.6" text-anchor="start" font-weight="bold" fill="#000">(a)</text>
<text x="15.8" y="20.2" font-size="6.2" text-anchor="end" >62°N</text>
<text x="15.8" y="73.2" font-size="6.2" text-anchor="end" >61°N</text>
<text x="15.8" y="125.6" font-size="6.2" text-anchor="end" >60°N</text>
<text x="17.6" y="134.1" font-size="6.2" text-anchor="middle" >140°W</text>
<text x="52.8" y="134.1" font-size="6.2" text-anchor="middle" >139°W</text>
<text x="87.9" y="134.1" font-size="6.2" text-anchor="middle" >138°W</text>
<text x="123" y="134.1" font-size="6.2" text-anchor="middle" >137°W</text>
<text x="70.3" y="14.6" font-size="6.3" text-anchor="middle" >925 hPa</text>
<path stroke="#111" fill="#111" stroke-width="0.5" d="M90.8 13.1L94.8 13.1M96.8 13.1L94.8 13.9L94.8 12.3ZM102.1 13.7L102.1 5.9M102.1 3.7L102.9 5.9L101.3 5.9Z"/>
<text x="106.2" y="14.6" font-size="6.3">1 m s<tspan dy="-2.4" font-size="4.4">-1</tspan></text>
<rect x="129.1" y="35.7" width="4.9" height="74.7" fill="url(#gh)" stroke="#2e2e2e" stroke-width="0.5"/>
<path d="M132.8 36.6H134" stroke="#2e2e2e" stroke-width="0.45"/>
<text x="136.4" y="38.7" font-size="6.4" text-anchor="start" >25</text>
<path d="M132.8 53.3H134" stroke="#2e2e2e" stroke-width="0.45"/>
<text x="136.4" y="55.4" font-size="6.4" text-anchor="start" >20</text>
<path d="M132.8 70H134" stroke="#2e2e2e" stroke-width="0.45"/>
<text x="136.4" y="72.1" font-size="6.4" text-anchor="start" >15</text>
<path d="M132.8 86.7H134" stroke="#2e2e2e" stroke-width="0.45"/>
<text x="136.4" y="88.8" font-size="6.4" text-anchor="start" >10</text>
<path d="M132.8 103.4H134" stroke="#2e2e2e" stroke-width="0.45"/>
<text x="136.4" y="105.5" font-size="6.4" text-anchor="start" >5</text>
<text transform="translate(151 73) rotate(-90)" font-size="6.1" text-anchor="middle">FoO DOD &gt; 0.5 [#]</text>
<clipPath id="c2"><rect x="179.1" y="16.8" width="106.5" height="111.3"/></clipPath>
<g clip-path="url(#c2)">
<g filter="url(#bl)"><rect x="179.1" y="16.8" width="106.5" height="111.3" fill="#fff"/><rect x="180" y="17.5" width="54.2" height="3.7" fill="#ffffff"/><rect x="233.5" y="17.5" width="16.8" height="3.7" fill="#fff3a4"/><rect x="249.6" y="17.5" width="38.1" height="3.7" fill="#ffffff"/><rect x="180" y="20.5" width="6" height="3" fill="#ffffff"/><rect x="185.3" y="20.5" width="43.5" height="3" fill="#dadada"/><rect x="228.2" y="20.5" width="6" height="3" fill="#ffffff"/><rect x="233.5" y="20.5" width="16.8" height="3" fill="#fff3a4"/><rect x="249.6" y="20.5" width="38.1" height="3" fill="#ffffff"/><rect x="180" y="22.8" width="6" height="6" fill="#ffffff"/><rect x="185.3" y="22.8" width="43.5" height="6" fill="#dadada"/><rect x="228.2" y="22.8" width="6" height="6" fill="#ffffff"/><rect x="233.5" y="22.8" width="6" height="6" fill="#fff3a4"/><rect x="238.8" y="22.8" width="6" height="6" fill="#ffe44c"/><rect x="244.2" y="22.8" width="6.1" height="6" fill="#fff3a4"/><rect x="249.6" y="22.8" width="6" height="6" fill="#ffffff"/><rect x="254.9" y="22.8" width="27.4" height="6" fill="#dadada"/><rect x="281.6" y="22.8" width="6.1" height="6" fill="#ffffff"/><rect x="180" y="28.1" width="22.1" height="6" fill="#ffffff"/><rect x="201.4" y="28.1" width="27.4" height="6" fill="#dadada"/><rect x="228.2" y="28.1" width="6" height="6" fill="#ffffff"/><rect x="233.5" y="28.1" width="6" height="6" fill="#fff3a4"/><rect x="238.8" y="28.1" width="6" height="6" fill="#ffe44c"/><rect x="244.2" y="28.1" width="6.1" height="6" fill="#fff3a4"/><rect x="249.6" y="28.1" width="11.4" height="6" fill="#ffffff"/><rect x="260.2" y="28.1" width="22.1" height="6" fill="#dadada"/><rect x="281.6" y="28.1" width="6.1" height="6" fill="#ffffff"/><rect x="180" y="33.4" width="75.6" height="6" fill="#ffffff"/><rect x="254.9" y="33.4" width="27.4" height="6" fill="#dadada"/><rect x="281.6" y="33.4" width="6.1" height="6" fill="#ffffff"/><rect x="180" y="38.8" width="6" height="6" fill="#fffef2"/><rect x="185.3" y="38.8" width="11.4" height="6" fill="#fff3a4"/><rect x="196.1" y="38.8" width="11.4" height="6" fill="#ffe44c"/><rect x="206.8" y="38.8" width="11.4" height="6" fill="#fff3a4"/><rect x="217.4" y="38.8" width="6.1" height="6" fill="#ffe44c"/><rect x="222.8" y="38.8" width="6" height="6" fill="#f09424"/><rect x="228.2" y="38.8" width="11.4" height="6" fill="#d64014"/><rect x="238.8" y="38.8" width="11.4" height="6" fill="#ffe44c"/><rect x="249.6" y="38.8" width="6" height="6" fill="#fff3a4"/><rect x="254.9" y="38.8" width="11.4" height="6" fill="#fffef2"/><rect x="265.6" y="38.8" width="6" height="6" fill="#dadada"/><rect x="270.9" y="38.8" width="16.8" height="6" fill="#fffef2"/><rect x="180" y="44.1" width="6" height="6" fill="#fffef2"/><rect x="185.3" y="44.1" width="27.4" height="6" fill="#fff3a4"/><rect x="212.1" y="44.1" width="11.4" height="6" fill="#ffe44c"/><rect x="222.8" y="44.1" width="6" height="6" fill="#f9bc2e"/><rect x="228.2" y="44.1" width="11.4" height="6" fill="#f09424"/><rect x="238.8" y="44.1" width="11.4" height="6" fill="#f9bc2e"/><rect x="249.6" y="44.1" width="6" height="6" fill="#ffe44c"/><rect x="254.9" y="44.1" width="6.1" height="6" fill="#fff3a4"/><rect x="260.2" y="44.1" width="27.4" height="6" fill="#fffef2"/><rect x="180" y="49.4" width="6" height="6" fill="#fffef2"/><rect x="185.3" y="49.4" width="27.4" height="6" fill="#fff3a4"/><rect x="212.1" y="49.4" width="11.4" height="6" fill="#f9bc2e"/><rect x="222.8" y="49.4" width="6" height="6" fill="#f09424"/><rect x="228.2" y="49.4" width="11.4" height="6" fill="#e66a1c"/><rect x="238.8" y="49.4" width="6" height="6" fill="#f09424"/><rect x="244.2" y="49.4" width="16.8" height="6" fill="#f9bc2e"/><rect x="260.2" y="49.4" width="6.1" height="6" fill="#ffe44c"/><rect x="265.6" y="49.4" width="6" height="6" fill="#fff3a4"/><rect x="270.9" y="49.4" width="16.8" height="6" fill="#fffef2"/><rect x="180" y="54.7" width="6" height="6" fill="#fffef2"/><rect x="185.3" y="54.7" width="22.1" height="6" fill="#fff3a4"/><rect x="206.8" y="54.7" width="6" height="6" fill="#ffe44c"/><rect x="212.1" y="54.7" width="6" height="6" fill="#f9bc2e"/><rect x="217.4" y="54.7" width="6.1" height="6" fill="#f09424"/><rect x="222.8" y="54.7" width="6" height="6" fill="#d64014"/><rect x="228.2" y="54.7" width="6" height="6" fill="#e66a1c"/><rect x="233.5" y="54.7" width="11.4" height="6" fill="#d64014"/><rect x="244.2" y="54.7" width="6.1" height="6" fill="#e66a1c"/><rect x="249.6" y="54.7" width="6" height="6" fill="#bc1a0e"/><rect x="254.9" y="54.7" width="6.1" height="6" fill="#8c0c08"/><rect x="260.2" y="54.7" width="6.1" height="6" fill="#520505"/><rect x="265.6" y="54.7" width="6" height="6" fill="#bc1a0e"/><rect x="270.9" y="54.7" width="6.1" height="6" fill="#f9bc2e"/><rect x="276.3" y="54.7" width="6" height="6" fill="#fff3a4"/><rect x="281.6" y="54.7" width="6.1" height="6" fill="#fffef2"/><rect x="180" y="60" width="6" height="6" fill="#fffef2"/><rect x="185.3" y="60" width="11.4" height="6" fill="#fff3a4"/><rect x="196.1" y="60" width="11.4" height="6" fill="#ffe44c"/><rect x="206.8" y="60" width="6" height="6" fill="#f9bc2e"/><rect x="212.1" y="60" width="6" height="6" fill="#f09424"/><rect x="217.4" y="60" width="11.4" height="6" fill="#e66a1c"/><rect x="228.2" y="60" width="11.4" height="6" fill="#d64014"/><rect x="238.8" y="60" width="11.4" height="6" fill="#e66a1c"/><rect x="249.6" y="60" width="6" height="6" fill="#bc1a0e"/><rect x="254.9" y="60" width="11.4" height="6" fill="#8c0c08"/><rect x="265.6" y="60" width="6" height="6" fill="#d64014"/><rect x="270.9" y="60" width="6.1" height="6" fill="#f9bc2e"/><rect x="276.3" y="60" width="6" height="6" fill="#fff3a4"/><rect x="281.6" y="60" width="6.1" height="6" fill="#fffef2"/><rect x="180" y="65.3" width="16.8" height="6" fill="#fff3a4"/><rect x="196.1" y="65.3" width="6" height="6" fill="#ffe44c"/><rect x="201.4" y="65.3" width="6" height="6" fill="#f9bc2e"/><rect x="206.8" y="65.3" width="6" height="6" fill="#f09424"/><rect x="212.1" y="65.3" width="11.4" height="6" fill="#e66a1c"/><rect x="222.8" y="65.3" width="6" height="6" fill="#f09424"/><rect x="228.2" y="65.3" width="6" height="6" fill="#e66a1c"/><rect x="233.5" y="65.3" width="16.8" height="6" fill="#d64014"/><rect x="249.6" y="65.3" width="11.4" height="6" fill="#e66a1c"/><rect x="260.2" y="65.3" width="6.1" height="6" fill="#f09424"/><rect x="265.6" y="65.3" width="6" height="6" fill="#ffe44c"/><rect x="270.9" y="65.3" width="6.1" height="6" fill="#fff3a4"/><rect x="276.3" y="65.3" width="11.4" height="6" fill="#fffef2"/><rect x="180" y="70.7" width="6" height="6" fill="#fffef2"/><rect x="185.3" y="70.7" width="16.8" height="6" fill="#fff3a4"/><rect x="201.4" y="70.7" width="6" height="6" fill="#ffe44c"/><rect x="206.8" y="70.7" width="6" height="6" fill="#f09424"/><rect x="212.1" y="70.7" width="6" height="6" fill="#e66a1c"/><rect x="217.4" y="70.7" width="11.4" height="6" fill="#d64014"/><rect x="228.2" y="70.7" width="22.1" height="6" fill="#bc1a0e"/><rect x="249.6" y="70.7" width="6" height="6" fill="#d64014"/><rect x="254.9" y="70.7" width="11.4" height="6" fill="#bc1a0e"/><rect x="265.6" y="70.7" width="6" height="6" fill="#e66a1c"/><rect x="270.9" y="70.7" width="6.1" height="6" fill="#ffe44c"/><rect x="276.3" y="70.7" width="6" height="6" fill="#fff3a4"/><rect x="281.6" y="70.7" width="6.1" height="6" fill="#fffef2"/><rect x="180" y="76" width="11.4" height="6" fill="#fffef2"/><rect x="190.7" y="76" width="16.8" height="6" fill="#fff3a4"/><rect x="206.8" y="76" width="11.4" height="6" fill="#ffe44c"/><rect x="217.4" y="76" width="6.1" height="6" fill="#f9bc2e"/><rect x="222.8" y="76" width="6" height="6" fill="#f09424"/><rect x="228.2" y="76" width="6" height="6" fill="#d64014"/><rect x="233.5" y="76" width="6" height="6" fill="#bc1a0e"/><rect x="238.8" y="76" width="11.4" height="6" fill="#d64014"/><rect x="249.6" y="76" width="11.4" height="6" fill="#e66a1c"/><rect x="260.2" y="76" width="6.1" height="6" fill="#d64014"/><rect x="265.6" y="76" width="6" height="6" fill="#e66a1c"/><rect x="270.9" y="76" width="6.1" height="6" fill="#f9bc2e"/><rect x="276.3" y="76" width="6" height="6" fill="#fff3a4"/><rect x="281.6" y="76" width="6.1" height="6" fill="#fffef2"/><rect x="180" y="81.3" width="11.4" height="4.8" fill="#dadada"/><rect x="190.7" y="81.3" width="11.4" height="4.8" fill="#ffffff"/><rect x="201.4" y="81.3" width="6" height="4.8" fill="#fffef2"/><rect x="206.8" y="81.3" width="16.8" height="4.8" fill="#fff3a4"/><rect x="222.8" y="81.3" width="6" height="4.8" fill="#ffe44c"/><rect x="228.2" y="81.3" width="6" height="4.8" fill="#f09424"/><rect x="233.5" y="81.3" width="6" height="4.8" fill="#d64014"/><rect x="238.8" y="81.3" width="6" height="4.8" fill="#e66a1c"/><rect x="244.2" y="81.3" width="6.1" height="4.8" fill="#f09424"/><rect x="249.6" y="81.3" width="6" height="4.8" fill="#bc1a0e"/><rect x="254.9" y="81.3" width="6.1" height="4.8" fill="#520505"/><rect x="260.2" y="81.3" width="6.1" height="4.8" fill="#1a0000"/><rect x="265.6" y="81.3" width="6" height="4.8" fill="#8c0c08"/><rect x="270.9" y="81.3" width="6.1" height="4.8" fill="#f09424"/><rect x="276.3" y="81.3" width="6" height="4.8" fill="#fff3a4"/><rect x="281.6" y="81.3" width="6.1" height="4.8" fill="#fffef2"/><rect x="180" y="85.4" width="16.8" height="5.8" fill="#dadada"/><rect x="196.1" y="85.4" width="11.4" height="5.8" fill="#ffffff"/><rect x="206.8" y="85.4" width="6" height="5.8" fill="#fffef2"/><rect x="212.1" y="85.4" width="11.4" height="5.8" fill="#fff3a4"/><rect x="222.8" y="85.4" width="6" height="5.8" fill="#ffe44c"/><rect x="228.2" y="85.4" width="6" height="5.8" fill="#e66a1c"/><rect x="233.5" y="85.4" width="6" height="5.8" fill="#8c0c08"/><rect x="238.8" y="85.4" width="32.8" height="5.8" fill="#1a0000"/><rect x="270.9" y="85.4" width="6.1" height="5.8" fill="#f09424"/><rect x="276.3" y="85.4" width="6" height="5.8" fill="#fff3a4"/><rect x="281.6" y="85.4" width="6.1" height="5.8" fill="#fffef2"/><rect x="180" y="90.4" width="22.1" height="7.5" fill="#dadada"/><rect x="201.4" y="90.4" width="6" height="7.5" fill="#fffef2"/><rect x="206.8" y="90.4" width="22.1" height="7.5" fill="#fff3a4"/><rect x="228.2" y="90.4" width="6" height="7.5" fill="#ffe44c"/><rect x="233.5" y="90.4" width="6" height="7.5" fill="#f9bc2e"/><rect x="238.8" y="90.4" width="6" height="7.5" fill="#f09424"/><rect x="244.2" y="90.4" width="6.1" height="7.5" fill="#e66a1c"/><rect x="249.6" y="90.4" width="6" height="7.5" fill="#f09424"/><rect x="254.9" y="90.4" width="6.1" height="7.5" fill="#f9bc2e"/><rect x="260.2" y="90.4" width="6.1" height="7.5" fill="#ffe44c"/><rect x="265.6" y="90.4" width="16.7" height="7.5" fill="#fff3a4"/><rect x="281.6" y="90.4" width="6.1" height="7.5" fill="#fffef2"/><rect x="180" y="97.2" width="27.4" height="6" fill="#dadada"/><rect x="206.8" y="97.2" width="81" height="6" fill="#fffef2"/><rect x="180" y="102.6" width="27.4" height="6" fill="#dadada"/><rect x="206.8" y="102.6" width="81" height="6" fill="#fffef2"/><rect x="180" y="107.9" width="48.9" height="6" fill="#dadada"/><rect x="228.2" y="107.9" width="32.8" height="6" fill="#fffef2"/><rect x="260.2" y="107.9" width="22.1" height="6" fill="#fff3a4"/><rect x="281.6" y="107.9" width="6.1" height="6" fill="#fffef2"/><rect x="180" y="113.2" width="27.4" height="6" fill="#dadada"/><rect x="206.8" y="113.2" width="22.1" height="6" fill="#fffef2"/><rect x="228.2" y="113.2" width="16.7" height="6" fill="#fff3a4"/><rect x="244.2" y="113.2" width="11.4" height="6" fill="#ffe44c"/><rect x="254.9" y="113.2" width="11.4" height="6" fill="#f9bc2e"/><rect x="265.6" y="113.2" width="11.4" height="6" fill="#e66a1c"/><rect x="276.3" y="113.2" width="11.4" height="6" fill="#d64014"/><rect x="180" y="118.5" width="27.4" height="3.5" fill="#dadada"/><rect x="206.8" y="118.5" width="16.8" height="3.5" fill="#fffef2"/><rect x="222.8" y="118.5" width="16.7" height="3.5" fill="#fff3a4"/><rect x="238.8" y="118.5" width="6" height="3.5" fill="#ffe44c"/><rect x="244.2" y="118.5" width="6.1" height="3.5" fill="#f09424"/><rect x="249.6" y="118.5" width="6" height="3.5" fill="#bc1a0e"/><rect x="254.9" y="118.5" width="6.1" height="3.5" fill="#8c0c08"/><rect x="260.2" y="118.5" width="11.4" height="3.5" fill="#520505"/><rect x="270.9" y="118.5" width="6.1" height="3.5" fill="#8c0c08"/><rect x="276.3" y="118.5" width="6" height="3.5" fill="#520505"/><rect x="281.6" y="118.5" width="6.1" height="3.5" fill="#8c0c08"/><rect x="180" y="121.3" width="11.4" height="3.2" fill="#ffffff"/><rect x="190.7" y="121.3" width="16.8" height="3.2" fill="#dadada"/><rect x="206.8" y="121.3" width="11.4" height="3.2" fill="#ffffff"/><rect x="217.4" y="121.3" width="6.1" height="3.2" fill="#fffef2"/><rect x="222.8" y="121.3" width="16.7" height="3.2" fill="#fff3a4"/><rect x="238.8" y="121.3" width="6" height="3.2" fill="#ffe44c"/><rect x="244.2" y="121.3" width="6.1" height="3.2" fill="#f09424"/><rect x="249.6" y="121.3" width="6" height="3.2" fill="#bc1a0e"/><rect x="254.9" y="121.3" width="6.1" height="3.2" fill="#8c0c08"/><rect x="260.2" y="121.3" width="11.4" height="3.2" fill="#520505"/><rect x="270.9" y="121.3" width="6.1" height="3.2" fill="#8c0c08"/><rect x="276.3" y="121.3" width="6" height="3.2" fill="#520505"/><rect x="281.6" y="121.3" width="6.1" height="3.2" fill="#8c0c08"/><rect x="180" y="123.8" width="11.4" height="5" fill="#ffffff"/><rect x="190.7" y="123.8" width="16.8" height="5" fill="#dadada"/><rect x="206.8" y="123.8" width="11.4" height="5" fill="#ffffff"/><rect x="217.4" y="123.8" width="11.4" height="5" fill="#fff3a4"/><rect x="228.2" y="123.8" width="11.4" height="5" fill="#ffe44c"/><rect x="238.8" y="123.8" width="6" height="5" fill="#f09424"/><rect x="244.2" y="123.8" width="6.1" height="5" fill="#d64014"/><rect x="249.6" y="123.8" width="38.1" height="5" fill="#bc1a0e"/></g>
</g>
<g stroke="#333" stroke-width="0.35" stroke-opacity="0.5"><path d="M180 16.8V128.1"/><path d="M206.2 16.8V128.1"/><path d="M232.6 16.8V128.1"/><path d="M259 16.8V128.1"/><path d="M284.6 16.8V128.1"/><path d="M179.1 18.8H285.6"/><path d="M179.1 71.9H285.6"/><path d="M179.1 125H285.6"/></g>
<rect x="179.1" y="16.8" width="106.5" height="111.3" fill="none" stroke="#2e2e2e" stroke-width="0.7"/>
<g clip-path="url(#c2)">
<g fill="none" stroke="#1a1a1a" stroke-width="0.5" stroke-opacity="0.9" stroke-linejoin="round" transform="translate(179.5 16.8)">
<path d="M43 23.5L48 21.8L55 21.2L62 21.5L68 22.8L72 25L77 28.5L82 33L86.8 38L90 43L92 49L92.8 55L93.2 61L92.8 68L91.4 72.5L87 75L76 75.6L60 75.4L54.5 74L51 71.5L47.5 68.5L44.5 66L39 64.5L35 62L31.5 62.5L28 60L23 59.5L19 57.5L14 57L11 54L10.5 49L13 46L16 44L19.5 42.5L21 39L20.5 35L23.5 33L28 32.5L31 30.5L33 28L37.5 27.5L40 25.5Z"/>
<path d="M0.5 21.5L4 20.2L8 20.8L9.5 23L13 22L17 21L21 20.6L25.5 21.5L27.5 24.5L27 28.5L25 31.5L20 32L15.5 31L11.5 32L11 35.5L8 37.2L3 37L0.5 35.5"/>
<path d="M16.5 22.5L16.8 26L15.5 29L16.2 31"/>
<path d="M29 4.2L31.5 3L33.8 4.2L34 7.5L32.5 9.6L30 9L28.8 6.5Z"/>
<path d="M9 13.5L11.5 11.5L15 11L15.8 13.5L13.5 16L10 17.2L8.6 15.8Z"/>
<path d="M17 10.5L19.5 10L20 11.5L17.8 12.2Z"/>
<path d="M38.5 17.6L41.5 17.2L41.8 19.3L38.8 19.6Z"/>
<path d="M50.5 0L51 2.4L58.5 2.6L59.5 0"/>
<path d="M56.8 5.5L66 5L67.2 9L68.6 15.2L66 16.3L59.5 16.2L57.5 13.5Z"/>
<path d="M29.5 76.5L33 74L40 73.4L45 75L47.5 79L46.5 82.2L40 82.8L34 82L30.5 79.5Z"/>
<path d="M0.5 38.2L3.5 37.8L4.6 39.6L1.5 40.4Z"/>
<path d="M42 110.5L45 104.5L50 103.5L54 104L58 101L64 99.5L70 98.8L76 98.4L79.5 101.5L82 99L90 98.4L100 98.8L107 99.5"/>
</g>
</g>
<path clip-path="url(#c2)" stroke="#1c1c1c" fill="#1c1c1c" stroke-width="0.34" stroke-linejoin="miter" d="M179.5 21L180 26M180.3 28.4L179.4 26.1L180.6 25.9ZM186.1 21L186.7 26M186.9 28.4L186.1 26.1L187.3 25.9ZM192.8 21L193.3 26M193.6 28.4L192.7 26.1L193.9 25.9ZM199.5 21L199.9 26M200.2 28.4L199.4 26.1L200.5 25.9ZM206.1 21L206.6 26M206.8 28.4L206 26.1L207.2 25.9ZM212.8 21L213.2 26M213.4 28.4L212.6 26L213.8 25.9ZM219.4 21L219.9 26M220.1 28.4L219.3 26L220.4 25.9ZM226.1 21L226.5 26M226.7 28.4L225.9 26L227.1 25.9ZM232.7 21L233.1 26M233.3 28.4L232.5 26L233.7 26ZM239.4 21L239.8 26M239.9 28.4L239.2 26L240.4 26ZM246 21L246.4 26M246.6 28.4L245.8 26L247 26ZM252.7 21L253 26M253.2 28.4L252.4 26L253.6 26ZM259.9 21.4L259.5 25.6M259.3 28L258.9 25.5L260.1 25.6ZM267.1 22.3L266 25.3M265.4 27.1L265.6 25.1L266.5 25.4ZM273.8 22.7L272.6 25.2M271.9 26.7L272.2 25L273 25.4ZM280.5 22.7L279.3 25.2M278.5 26.7L278.9 25L279.7 25.4ZM287.1 22.7L285.9 25.2M285.2 26.7L285.5 25L286.3 25.4ZM179.4 33.3L180.1 38.3M180.4 40.7L179.5 38.4L180.7 38.2ZM186.1 33.3L186.7 38.3M187 40.7L186.1 38.4L187.3 38.2ZM192.8 33.3L193.3 38.3M193.6 40.7L192.7 38.4L193.9 38.2ZM199.4 33.3L200 38.3M200.2 40.7L199.4 38.4L200.6 38.2ZM206.1 33.3L206.6 38.3M206.9 40.7L206 38.4L207.2 38.2ZM212.7 33.3L213.2 38.3M213.5 40.7L212.6 38.4L213.8 38.2ZM219.4 33.3L219.9 38.3M220.1 40.7L219.3 38.4L220.5 38.2ZM226 33.3L226.5 38.3M226.7 40.7L225.9 38.3L227.1 38.2ZM232.7 33.3L233.1 38.3M233.3 40.7L232.5 38.3L233.7 38.2ZM239.3 33.3L239.8 38.3M240 40.7L239.2 38.3L240.4 38.2ZM246 33.3L246.4 38.3M246.6 40.7L245.8 38.3L247 38.2ZM252.7 33.3L253 38.3M253.2 40.7L252.4 38.3L253.6 38.3ZM259.4 33.4L259.6 38.2M259.7 40.6L259 38.2L260.2 38.2ZM266.3 33.5L266.2 38.1M266.2 40.5L265.6 38.1L266.8 38.1ZM273 33.6L272.8 38M272.8 40.4L272.2 38L273.4 38ZM279.6 33.6L279.5 38M279.4 40.4L278.9 38L280.1 38.1ZM286.3 33.6L286.1 38M286 40.4L285.5 38L286.7 38.1ZM179.4 45.6L180.1 50.6M180.4 53L179.5 50.7L180.7 50.5ZM186.1 45.6L186.7 50.6M187 53L186.1 50.7L187.3 50.5ZM192.7 45.6L193.3 50.6M193.6 53L192.7 50.7L193.9 50.5ZM199.4 45.6L200 50.6M200.3 53L199.4 50.7L200.6 50.5ZM206 45.6L206.6 50.6M206.9 53L206 50.7L207.2 50.5ZM212.7 45.6L213.2 50.6M213.5 53L212.7 50.7L213.8 50.5ZM219.3 45.6L219.9 50.6M220.1 53L219.3 50.7L220.5 50.5ZM226 45.6L226.5 50.6M226.8 53L225.9 50.7L227.1 50.5ZM232.7 45.6L233.1 50.6M233.4 53L232.6 50.7L233.7 50.5ZM239.3 45.6L239.8 50.6M240 53L239.2 50.7L240.4 50.5ZM246 45.6L246.4 50.6M246.6 53L245.8 50.6L247 50.5ZM252.6 45.6L253.1 50.6M253.3 53L252.5 50.6L253.7 50.5ZM259.3 45.6L259.7 50.6M259.9 53L259.1 50.6L260.3 50.5ZM265.9 45.6L266.3 50.6M266.5 53L265.7 50.6L266.9 50.5ZM272.6 45.6L273 50.6M273.1 53L272.4 50.6L273.6 50.6ZM279.2 45.6L279.6 50.6M279.8 53L279 50.6L280.2 50.6ZM285.9 45.6L286.2 50.6M286.4 53L285.6 50.6L286.8 50.6ZM179.4 57.9L180.1 62.9M180.4 65.3L179.5 63L180.7 62.8ZM186 57.9L186.7 62.9M187.1 65.3L186.1 63L187.3 62.8ZM192.7 57.9L193.4 62.9M193.7 65.3L192.8 63L194 62.8ZM199.3 57.9L200 62.9M200.3 65.3L199.4 63L200.6 62.8ZM206 57.9L206.6 62.9M206.9 65.3L206 63L207.2 62.8ZM212.6 57.9L213.3 62.9M213.6 65.3L212.7 63L213.9 62.8ZM219.3 57.9L219.9 62.9M220.2 65.3L219.3 63L220.5 62.8ZM226 57.9L226.5 62.9M226.8 65.3L225.9 63L227.1 62.8ZM232.6 57.9L233.2 62.9M233.4 65.3L232.6 63L233.8 62.8ZM239.3 57.9L239.8 62.9M240.1 65.3L239.2 63L240.4 62.8ZM245.9 57.9L246.4 62.9M246.7 65.3L245.8 63L247 62.8ZM252.6 57.9L253.1 62.9M253.3 65.3L252.5 63L253.7 62.8ZM259.2 57.9L259.7 62.9M259.9 65.3L259.1 63L260.3 62.8ZM265.9 57.9L266.3 62.9M266.6 65.3L265.7 62.9L266.9 62.8ZM272.5 57.9L273 62.9M273.2 65.3L272.4 62.9L273.6 62.8ZM279.2 57.9L279.6 62.9M279.8 65.3L279 62.9L280.2 62.8ZM285.9 57.9L286.2 62.9M286.4 65.3L285.6 62.9L286.8 62.8ZM179.3 70.2L180.1 75.2M180.5 77.6L179.5 75.3L180.7 75.1ZM186 70.2L186.7 75.2M187.1 77.6L186.1 75.3L187.3 75.1ZM192.6 70.2L193.4 75.2M193.7 77.6L192.8 75.3L194 75.1ZM199.3 70.2L200 75.2M200.4 77.6L199.4 75.3L200.6 75.1ZM205.9 70.2L206.6 75.2M207 77.6L206 75.3L207.2 75.1ZM212.6 70.2L213.3 75.2M213.6 77.6L212.7 75.3L213.9 75.1ZM219.3 70.2L219.9 75.2M220.2 77.6L219.3 75.3L220.5 75.1ZM225.9 70.2L226.5 75.2M226.9 77.6L226 75.3L227.1 75.1ZM232.6 70.2L233.2 75.2M233.5 77.6L232.6 75.3L233.8 75.1ZM239.2 70.2L239.8 75.2M240.1 77.6L239.2 75.3L240.4 75.1ZM245.9 70.2L246.4 75.2M246.7 77.6L245.9 75.3L247 75.1ZM252.5 70.2L253.1 75.2M253.3 77.6L252.5 75.3L253.7 75.1ZM259.2 70.2L259.7 75.2M260 77.6L259.1 75.3L260.3 75.1ZM265.8 70.2L266.4 75.2M266.6 77.6L265.8 75.3L266.9 75.1ZM272.5 70.2L273 75.2M273.2 77.6L272.4 75.3L273.6 75.1ZM279.2 70.2L279.6 75.2M279.8 77.6L279 75.2L280.2 75.1ZM285.8 70.2L286.3 75.2M286.5 77.6L285.7 75.2L286.9 75.1ZM179.3 82.6L180.1 87.5M180.5 89.8L179.5 87.6L180.7 87.4ZM185.9 82.6L186.8 87.5M187.1 89.8L186.2 87.6L187.3 87.4ZM192.6 82.5L193.4 87.5M193.8 89.9L192.8 87.6L194 87.4ZM199.2 82.5L200 87.5M200.4 89.9L199.4 87.6L200.6 87.4ZM205.9 82.5L206.7 87.5M207 89.9L206.1 87.6L207.3 87.4ZM212.6 82.5L213.3 87.5M213.6 89.9L212.7 87.6L213.9 87.4ZM219.2 82.5L219.9 87.5M220.3 89.9L219.3 87.6L220.5 87.4ZM225.9 82.5L226.6 87.5M226.9 89.9L226 87.6L227.2 87.4ZM232.5 82.5L233.2 87.5M233.5 89.9L232.6 87.6L233.8 87.4ZM239.2 82.5L239.8 87.5M240.1 89.9L239.2 87.6L240.4 87.4ZM245.8 82.5L246.5 87.5M246.8 89.9L245.9 87.6L247.1 87.4ZM252.5 82.5L253.1 87.5M253.4 89.9L252.5 87.6L253.7 87.4ZM259.1 82.5L259.7 87.5M260 89.9L259.1 87.6L260.3 87.4ZM265.8 82.5L266.4 87.5M266.6 89.9L265.8 87.6L267 87.4ZM272.5 82.5L273 87.5M273.3 89.9L272.4 87.6L273.6 87.4ZM279.1 82.5L279.6 87.5M279.9 89.9L279 87.6L280.2 87.4ZM285.8 82.5L286.3 87.5M286.5 89.9L285.7 87.6L286.9 87.4ZM179.2 94.9L180.1 99.8M180.6 102.1L179.5 99.9L180.7 99.7ZM185.9 94.9L186.8 99.8M187.2 102.1L186.2 99.9L187.4 99.7ZM192.5 94.9L193.4 99.8M193.8 102.1L192.8 99.9L194 99.7ZM199.2 94.9L200 99.8M200.4 102.1L199.4 99.9L200.6 99.7ZM205.9 94.8L206.7 99.8M207.1 102.2L206.1 99.9L207.3 99.7ZM212.5 94.8L213.3 99.8M213.7 102.2L212.7 99.9L213.9 99.7ZM219.2 94.8L219.9 99.8M220.3 102.2L219.3 99.9L220.5 99.7ZM225.8 94.8L226.6 99.8M226.9 102.2L226 99.9L227.2 99.7ZM232.5 94.8L233.2 99.8M233.6 102.2L232.6 99.9L233.8 99.7ZM239.1 94.8L239.8 99.8M240.2 102.2L239.2 99.9L240.4 99.7ZM245.8 94.8L246.5 99.8M246.8 102.2L245.9 99.9L247.1 99.7ZM252.4 94.8L253.1 99.8M253.4 102.2L252.5 99.9L253.7 99.7ZM259.1 94.8L259.7 99.8M260.1 102.2L259.2 99.9L260.3 99.7ZM265.8 94.8L266.4 99.8M266.7 102.2L265.8 99.9L267 99.7ZM272.4 94.8L273 99.8M273.3 102.2L272.4 99.9L273.6 99.7ZM279.1 94.8L279.7 99.8M279.9 102.2L279.1 99.9L280.2 99.7ZM285.7 94.8L286.3 99.8M286.6 102.2L285.7 99.9L286.9 99.7ZM179.2 107.2L180.1 112.1M180.6 114.4L179.6 112.2L180.7 112ZM185.8 107.2L186.8 112.1M187.2 114.4L186.2 112.2L187.4 112ZM192.5 107.2L193.4 112.1M193.9 114.4L192.8 112.2L194 112ZM199.2 107.2L200.1 112.1M200.5 114.4L199.5 112.2L200.6 112ZM205.8 107.2L206.7 112.1M207.1 114.4L206.1 112.2L207.3 112ZM212.5 107.2L213.3 112.1M213.7 114.4L212.7 112.2L213.9 112ZM219.1 107.2L220 112.1M220.4 114.4L219.4 112.2L220.5 112ZM225.8 107.1L226.6 112.1M227 114.5L226 112.2L227.2 112ZM232.4 107.1L233.2 112.1M233.6 114.5L232.6 112.2L233.8 112ZM239.1 107.1L239.9 112.1M240.2 114.5L239.3 112.2L240.5 112ZM245.8 107.1L246.5 112.1M246.8 114.5L245.9 112.2L247.1 112ZM252.4 107.1L253.1 112.1M253.5 114.5L252.5 112.2L253.7 112ZM259.1 107.1L259.8 112.1M260.1 114.5L259.2 112.2L260.4 112ZM265.7 107.1L266.4 112.1M266.7 114.5L265.8 112.2L267 112ZM272.4 107.1L273 112.1M273.3 114.5L272.4 112.2L273.6 112ZM279 107.1L279.7 112.1M280 114.5L279.1 112.2L280.3 112ZM285.7 107.1L286.3 112.1M286.6 114.5L285.7 112.2L286.9 112ZM179.1 119.5L180.2 124.4M180.7 126.7L179.6 124.5L180.8 124.3ZM185.8 119.5L186.8 124.4M187.3 126.7L186.2 124.5L187.4 124.3ZM192.5 119.5L193.4 124.4M193.9 126.7L192.8 124.5L194 124.3ZM199.1 119.5L200.1 124.4M200.5 126.7L199.5 124.5L200.7 124.3ZM205.8 119.5L206.7 124.4M207.1 126.7L206.1 124.5L207.3 124.3ZM212.4 119.5L213.3 124.4M213.8 126.7L212.7 124.5L213.9 124.3ZM219.1 119.5L220 124.4M220.4 126.7L219.4 124.5L220.6 124.3ZM225.7 119.5L226.6 124.4M227 126.7L226 124.5L227.2 124.3ZM232.4 119.5L233.2 124.4M233.6 126.7L232.6 124.5L233.8 124.3ZM239.1 119.5L239.9 124.4M240.3 126.7L239.3 124.5L240.5 124.3ZM245.7 119.4L246.5 124.4M246.9 126.8L245.9 124.5L247.1 124.3ZM252.4 119.4L253.1 124.4M253.5 126.8L252.5 124.5L253.7 124.3ZM259 119.4L259.8 124.4M260.1 126.8L259.2 124.5L260.4 124.3ZM265.7 119.4L266.4 124.4M266.8 126.8L265.8 124.5L267 124.3ZM272.3 119.4L273 124.4M273.4 126.8L272.5 124.5L273.6 124.3ZM279 119.4L279.7 124.4M280 126.8L279.1 124.5L280.3 124.3ZM285.6 119.4L286.3 124.4M286.6 126.8L285.7 124.5L286.9 124.3Z"/>
<circle cx="232.3" cy="87.7" r="4.5" fill="none" stroke="#1a84ba" stroke-width="1.0"/>
<text x="179.3" y="14.2" font-size="7.6" text-anchor="start" font-weight="bold" fill="#000">(b)</text>
<text x="178.5" y="20.8" font-size="6.2" text-anchor="end" >76°N</text>
<text x="178.5" y="73.9" font-size="6.2" text-anchor="end" >75°N</text>
<text x="178.5" y="127" font-size="6.2" text-anchor="end" >74°N</text>
<text x="178.6" y="134.1" font-size="6.2" text-anchor="middle" >97°W</text>
<text x="204.9" y="134.1" font-size="6.2" text-anchor="middle" >96°W</text>
<text x="231.3" y="134.1" font-size="6.2" text-anchor="middle" >95°W</text>
<text x="257.6" y="134.1" font-size="6.2" text-anchor="middle" >94°W</text>
<text x="284" y="134.1" font-size="6.2" text-anchor="middle" >93°W</text>
<text x="232.6" y="14.3" font-size="6.3" text-anchor="middle" >925 hPa</text>
<path stroke="#111" fill="#111" stroke-width="0.5" d="M258.8 12.9L261.6 12.9M263.3 12.9L261.6 13.6L261.6 12.2ZM265.6 13.8L265.6 5.4M265.6 3.2L266.4 5.4L264.8 5.4Z"/>
<text x="269.6" y="14.3" font-size="6.3">1 m s<tspan dy="-2.4" font-size="4.4">-1</tspan></text>
<rect x="290.7" y="35.7" width="4.9" height="74.7" fill="url(#gh)" stroke="#2e2e2e" stroke-width="0.5"/>
<path d="M294.4 36.6H295.6" stroke="#2e2e2e" stroke-width="0.45"/>
<text x="298" y="38.7" font-size="6.4" text-anchor="start" >120</text>
<path d="M294.4 49.2H295.6" stroke="#2e2e2e" stroke-width="0.45"/>
<text x="298" y="51.3" font-size="6.4" text-anchor="start" >100</text>
<path d="M294.4 61.8H295.6" stroke="#2e2e2e" stroke-width="0.45"/>
<text x="298" y="63.9" font-size="6.4" text-anchor="start" >80</text>
<path d="M294.4 74.4H295.6" stroke="#2e2e2e" stroke-width="0.45"/>
<text x="298" y="76.5" font-size="6.4" text-anchor="start" >60</text>
<path d="M294.4 87H295.6" stroke="#2e2e2e" stroke-width="0.45"/>
<text x="298" y="89.1" font-size="6.4" text-anchor="start" >40</text>
<path d="M294.4 99.6H295.6" stroke="#2e2e2e" stroke-width="0.45"/>
<text x="298" y="101.7" font-size="6.4" text-anchor="start" >20</text>
<text transform="translate(316 73) rotate(-90)" font-size="6.1" text-anchor="middle">FoO DOD &gt; 0.5 [#]</text>
<clipPath id="c3"><rect x="16.2" y="152.3" width="106.6" height="111.4"/></clipPath>
<g clip-path="url(#c3)">
<g filter="url(#bl)"><rect x="16.2" y="152.3" width="106.6" height="111.4" fill="#fff"/><rect x="14" y="149.5" width="10.8" height="9.1" fill="#8c0c08"/><rect x="24.1" y="149.5" width="7.8" height="9.1" fill="#bc1a0e"/><rect x="31.1" y="149.5" width="4.2" height="9.1" fill="#8c0c08"/><rect x="34.7" y="149.5" width="4.2" height="9.1" fill="#bc1a0e"/><rect x="38.2" y="149.5" width="4.2" height="9.1" fill="#8c0c08"/><rect x="41.7" y="149.5" width="4.2" height="9.1" fill="#bc1a0e"/><rect x="45.3" y="149.5" width="4.2" height="9.1" fill="#8c0c08"/><rect x="48.8" y="149.5" width="4.2" height="9.1" fill="#bc1a0e"/><rect x="52.3" y="149.5" width="4.2" height="9.1" fill="#e66a1c"/><rect x="55.9" y="149.5" width="7.8" height="9.1" fill="#f09424"/><rect x="62.9" y="149.5" width="4.2" height="9.1" fill="#d64014"/><rect x="66.5" y="149.5" width="4.2" height="9.1" fill="#8c0c08"/><rect x="70" y="149.5" width="4.2" height="9.1" fill="#bc1a0e"/><rect x="73.5" y="149.5" width="4.2" height="9.1" fill="#e66a1c"/><rect x="77.1" y="149.5" width="4.2" height="9.1" fill="#f09424"/><rect x="80.6" y="149.5" width="4.2" height="9.1" fill="#e66a1c"/><rect x="84.1" y="149.5" width="4.2" height="9.1" fill="#bc1a0e"/><rect x="87.7" y="149.5" width="7.8" height="9.1" fill="#e66a1c"/><rect x="94.7" y="149.5" width="4.2" height="9.1" fill="#bc1a0e"/><rect x="98.3" y="149.5" width="7.8" height="9.1" fill="#e66a1c"/><rect x="105.3" y="149.5" width="4.2" height="9.1" fill="#bc1a0e"/><rect x="108.9" y="149.5" width="4.2" height="9.1" fill="#8c0c08"/><rect x="112.4" y="149.5" width="7.8" height="9.1" fill="#bc1a0e"/><rect x="119.5" y="149.5" width="7.2" height="9.1" fill="#8c0c08"/><rect x="14" y="157.9" width="7.2" height="6.1" fill="#f09424"/><rect x="20.5" y="157.9" width="4.2" height="6.1" fill="#e66a1c"/><rect x="24.1" y="157.9" width="4.2" height="6.1" fill="#f09424"/><rect x="27.6" y="157.9" width="4.2" height="6.1" fill="#e66a1c"/><rect x="31.1" y="157.9" width="4.2" height="6.1" fill="#8c0c08"/><rect x="34.7" y="157.9" width="4.2" height="6.1" fill="#bc1a0e"/><rect x="38.2" y="157.9" width="4.2" height="6.1" fill="#8c0c08"/><rect x="41.7" y="157.9" width="4.2" height="6.1" fill="#bc1a0e"/><rect x="45.3" y="157.9" width="11.3" height="6.1" fill="#e66a1c"/><rect x="55.9" y="157.9" width="7.8" height="6.1" fill="#f09424"/><rect x="62.9" y="157.9" width="4.2" height="6.1" fill="#e66a1c"/><rect x="66.5" y="157.9" width="7.8" height="6.1" fill="#d64014"/><rect x="73.5" y="157.9" width="4.2" height="6.1" fill="#e66a1c"/><rect x="77.1" y="157.9" width="7.8" height="6.1" fill="#d64014"/><rect x="84.1" y="157.9" width="4.2" height="6.1" fill="#e66a1c"/><rect x="87.7" y="157.9" width="4.2" height="6.1" fill="#f09424"/><rect x="91.2" y="157.9" width="11.3" height="6.1" fill="#e66a1c"/><rect x="101.8" y="157.9" width="4.2" height="6.1" fill="#d64014"/><rect x="105.3" y="157.9" width="14.8" height="6.1" fill="#bc1a0e"/><rect x="119.5" y="157.9" width="7.2" height="6.1" fill="#8c0c08"/><rect x="14" y="163.2" width="7.2" height="6.1" fill="#f09424"/><rect x="20.5" y="163.2" width="4.2" height="6.1" fill="#f9bc2e"/><rect x="24.1" y="163.2" width="4.2" height="6.1" fill="#e66a1c"/><rect x="27.6" y="163.2" width="4.2" height="6.1" fill="#bc1a0e"/><rect x="31.1" y="163.2" width="18.4" height="6.1" fill="#e66a1c"/><rect x="48.8" y="163.2" width="4.2" height="6.1" fill="#f09424"/><rect x="52.3" y="163.2" width="4.2" height="6.1" fill="#f9bc2e"/><rect x="55.9" y="163.2" width="4.2" height="6.1" fill="#f09424"/><rect x="59.4" y="163.2" width="4.2" height="6.1" fill="#f9bc2e"/><rect x="62.9" y="163.2" width="7.8" height="6.1" fill="#f09424"/><rect x="70" y="163.2" width="4.2" height="6.1" fill="#e66a1c"/><rect x="73.5" y="163.2" width="4.2" height="6.1" fill="#f09424"/><rect x="77.1" y="163.2" width="4.2" height="6.1" fill="#f9bc2e"/><rect x="80.6" y="163.2" width="4.2" height="6.1" fill="#f09424"/><rect x="84.1" y="163.2" width="7.8" height="6.1" fill="#f9bc2e"/><rect x="91.2" y="163.2" width="7.8" height="6.1" fill="#f09424"/><rect x="98.3" y="163.2" width="7.8" height="6.1" fill="#e66a1c"/><rect x="105.3" y="163.2" width="4.2" height="6.1" fill="#f09424"/><rect x="108.9" y="163.2" width="4.2" height="6.1" fill="#f9bc2e"/><rect x="112.4" y="163.2" width="4.2" height="6.1" fill="#e66a1c"/><rect x="115.9" y="163.2" width="10.8" height="6.1" fill="#f09424"/><rect x="14" y="168.6" width="10.8" height="6.1" fill="#e66a1c"/><rect x="24.1" y="168.6" width="4.2" height="6.1" fill="#8c0c08"/><rect x="27.6" y="168.6" width="4.2" height="6.1" fill="#d64014"/><rect x="31.1" y="168.6" width="4.2" height="6.1" fill="#f9bc2e"/><rect x="34.7" y="168.6" width="11.3" height="6.1" fill="#ffe44c"/><rect x="45.3" y="168.6" width="7.8" height="6.1" fill="#fff3a4"/><rect x="52.3" y="168.6" width="18.4" height="6.1" fill="#ffe44c"/><rect x="70" y="168.6" width="4.2" height="6.1" fill="#f9bc2e"/><rect x="73.5" y="168.6" width="4.2" height="6.1" fill="#f09424"/><rect x="77.1" y="168.6" width="4.2" height="6.1" fill="#f9bc2e"/><rect x="80.6" y="168.6" width="4.2" height="6.1" fill="#ffe44c"/><rect x="84.1" y="168.6" width="4.2" height="6.1" fill="#f9bc2e"/><rect x="87.7" y="168.6" width="4.2" height="6.1" fill="#f09424"/><rect x="91.2" y="168.6" width="4.2" height="6.1" fill="#d64014"/><rect x="94.7" y="168.6" width="4.2" height="6.1" fill="#f09424"/><rect x="98.3" y="168.6" width="7.8" height="6.1" fill="#e66a1c"/><rect x="105.3" y="168.6" width="4.2" height="6.1" fill="#d64014"/><rect x="108.9" y="168.6" width="4.2" height="6.1" fill="#f09424"/><rect x="112.4" y="168.6" width="4.2" height="6.1" fill="#d64014"/><rect x="115.9" y="168.6" width="4.2" height="6.1" fill="#e66a1c"/><rect x="119.5" y="168.6" width="7.2" height="6.1" fill="#f09424"/><rect x="14" y="174" width="7.2" height="6.1" fill="#d64014"/><rect x="20.5" y="174" width="4.2" height="6.1" fill="#bc1a0e"/><rect x="24.1" y="174" width="4.2" height="6.1" fill="#520505"/><rect x="27.6" y="174" width="4.2" height="6.1" fill="#d64014"/><rect x="31.1" y="174" width="4.2" height="6.1" fill="#bc1a0e"/><rect x="34.7" y="174" width="7.8" height="6.1" fill="#8c0c08"/><rect x="41.7" y="174" width="7.8" height="6.1" fill="#e66a1c"/><rect x="48.8" y="174" width="7.8" height="6.1" fill="#f09424"/><rect x="55.9" y="174" width="11.3" height="6.1" fill="#f9bc2e"/><rect x="66.5" y="174" width="11.3" height="6.1" fill="#ffe44c"/><rect x="77.1" y="174" width="4.2" height="6.1" fill="#f9bc2e"/><rect x="80.6" y="174" width="4.2" height="6.1" fill="#f09424"/><rect x="84.1" y="174" width="7.8" height="6.1" fill="#ffe44c"/><rect x="91.2" y="174" width="4.2" height="6.1" fill="#f09424"/><rect x="94.7" y="174" width="4.2" height="6.1" fill="#f9bc2e"/><rect x="98.3" y="174" width="4.2" height="6.1" fill="#f09424"/><rect x="101.8" y="174" width="4.2" height="6.1" fill="#f9bc2e"/><rect x="105.3" y="174" width="4.2" height="6.1" fill="#f09424"/><rect x="108.9" y="174" width="4.2" height="6.1" fill="#e66a1c"/><rect x="112.4" y="174" width="4.2" height="6.1" fill="#d64014"/><rect x="115.9" y="174" width="10.8" height="6.1" fill="#f9bc2e"/><rect x="14" y="179.4" width="7.2" height="6.1" fill="#e66a1c"/><rect x="20.5" y="179.4" width="4.2" height="6.1" fill="#d64014"/><rect x="24.1" y="179.4" width="4.2" height="6.1" fill="#bc1a0e"/><rect x="27.6" y="179.4" width="7.8" height="6.1" fill="#8c0c08"/><rect x="34.7" y="179.4" width="4.2" height="6.1" fill="#520505"/><rect x="38.2" y="179.4" width="4.2" height="6.1" fill="#8c0c08"/><rect x="41.7" y="179.4" width="4.2" height="6.1" fill="#520505"/><rect x="45.3" y="179.4" width="4.2" height="6.1" fill="#bc1a0e"/><rect x="48.8" y="179.4" width="4.2" height="6.1" fill="#e66a1c"/><rect x="52.3" y="179.4" width="4.2" height="6.1" fill="#f09424"/><rect x="55.9" y="179.4" width="4.2" height="6.1" fill="#ffe44c"/><rect x="59.4" y="179.4" width="11.3" height="6.1" fill="#f9bc2e"/><rect x="70" y="179.4" width="7.8" height="6.1" fill="#f09424"/><rect x="77.1" y="179.4" width="4.2" height="6.1" fill="#e66a1c"/><rect x="80.6" y="179.4" width="4.2" height="6.1" fill="#f09424"/><rect x="84.1" y="179.4" width="4.2" height="6.1" fill="#e66a1c"/><rect x="87.7" y="179.4" width="7.8" height="6.1" fill="#d64014"/><rect x="94.7" y="179.4" width="4.2" height="6.1" fill="#f9bc2e"/><rect x="98.3" y="179.4" width="4.2" height="6.1" fill="#ffe44c"/><rect x="101.8" y="179.4" width="4.2" height="6.1" fill="#f09424"/><rect x="105.3" y="179.4" width="4.2" height="6.1" fill="#f9bc2e"/><rect x="108.9" y="179.4" width="4.2" height="6.1" fill="#ffe44c"/><rect x="112.4" y="179.4" width="14.3" height="6.1" fill="#e66a1c"/><rect x="14" y="184.7" width="7.2" height="6.1" fill="#f9bc2e"/><rect x="20.5" y="184.7" width="4.2" height="6.1" fill="#f09424"/><rect x="24.1" y="184.7" width="4.2" height="6.1" fill="#520505"/><rect x="27.6" y="184.7" width="4.2" height="6.1" fill="#bc1a0e"/><rect x="31.1" y="184.7" width="7.8" height="6.1" fill="#e66a1c"/><rect x="38.2" y="184.7" width="7.8" height="6.1" fill="#bc1a0e"/><rect x="45.3" y="184.7" width="4.2" height="6.1" fill="#d64014"/><rect x="48.8" y="184.7" width="18.4" height="6.1" fill="#f09424"/><rect x="66.5" y="184.7" width="11.3" height="6.1" fill="#f9bc2e"/><rect x="77.1" y="184.7" width="4.2" height="6.1" fill="#f09424"/><rect x="80.6" y="184.7" width="4.2" height="6.1" fill="#f9bc2e"/><rect x="84.1" y="184.7" width="4.2" height="6.1" fill="#f09424"/><rect x="87.7" y="184.7" width="7.8" height="6.1" fill="#e66a1c"/><rect x="94.7" y="184.7" width="7.8" height="6.1" fill="#f09424"/><rect x="101.8" y="184.7" width="7.8" height="6.1" fill="#f9bc2e"/><rect x="108.9" y="184.7" width="4.2" height="6.1" fill="#f09424"/><rect x="112.4" y="184.7" width="7.8" height="6.1" fill="#e66a1c"/><rect x="119.5" y="184.7" width="7.2" height="6.1" fill="#d64014"/><rect x="14" y="190.1" width="7.2" height="6.1" fill="#fff3a4"/><rect x="20.5" y="190.1" width="7.8" height="6.1" fill="#f09424"/><rect x="27.6" y="190.1" width="7.8" height="6.1" fill="#f9bc2e"/><rect x="34.7" y="190.1" width="4.2" height="6.1" fill="#f09424"/><rect x="38.2" y="190.1" width="4.2" height="6.1" fill="#f9bc2e"/><rect x="41.7" y="190.1" width="4.2" height="6.1" fill="#f09424"/><rect x="45.3" y="190.1" width="11.3" height="6.1" fill="#f9bc2e"/><rect x="55.9" y="190.1" width="4.2" height="6.1" fill="#f09424"/><rect x="59.4" y="190.1" width="4.2" height="6.1" fill="#e66a1c"/><rect x="62.9" y="190.1" width="4.2" height="6.1" fill="#f09424"/><rect x="66.5" y="190.1" width="4.2" height="6.1" fill="#f9bc2e"/><rect x="70" y="190.1" width="7.8" height="6.1" fill="#ffe44c"/><rect x="77.1" y="190.1" width="4.2" height="6.1" fill="#f9bc2e"/><rect x="80.6" y="190.1" width="4.2" height="6.1" fill="#ffe44c"/><rect x="84.1" y="190.1" width="4.2" height="6.1" fill="#f09424"/><rect x="87.7" y="190.1" width="4.2" height="6.1" fill="#f9bc2e"/><rect x="91.2" y="190.1" width="4.2" height="6.1" fill="#ffe44c"/><rect x="94.7" y="190.1" width="4.2" height="6.1" fill="#f09424"/><rect x="98.3" y="190.1" width="4.2" height="6.1" fill="#f9bc2e"/><rect x="101.8" y="190.1" width="4.2" height="6.1" fill="#f09424"/><rect x="105.3" y="190.1" width="4.2" height="6.1" fill="#f9bc2e"/><rect x="108.9" y="190.1" width="7.8" height="6.1" fill="#f09424"/><rect x="115.9" y="190.1" width="4.2" height="6.1" fill="#f9bc2e"/><rect x="119.5" y="190.1" width="7.2" height="6.1" fill="#ffe44c"/><rect x="14" y="195.5" width="24.9" height="6.1" fill="#ffffff"/><rect x="38.2" y="195.5" width="4.2" height="6.1" fill="#fff3a4"/><rect x="41.7" y="195.5" width="7.8" height="6.1" fill="#ffe44c"/><rect x="48.8" y="195.5" width="4.2" height="6.1" fill="#f9bc2e"/><rect x="52.3" y="195.5" width="4.2" height="6.1" fill="#ffe44c"/><rect x="55.9" y="195.5" width="4.2" height="6.1" fill="#f9bc2e"/><rect x="59.4" y="195.5" width="4.2" height="6.1" fill="#d64014"/><rect x="62.9" y="195.5" width="4.2" height="6.1" fill="#e66a1c"/><rect x="66.5" y="195.5" width="11.3" height="6.1" fill="#f09424"/><rect x="77.1" y="195.5" width="4.2" height="6.1" fill="#e66a1c"/><rect x="80.6" y="195.5" width="4.2" height="6.1" fill="#f09424"/><rect x="84.1" y="195.5" width="7.8" height="6.1" fill="#e66a1c"/><rect x="91.2" y="195.5" width="4.2" height="6.1" fill="#d64014"/><rect x="94.7" y="195.5" width="4.2" height="6.1" fill="#e66a1c"/><rect x="98.3" y="195.5" width="7.8" height="6.1" fill="#f09424"/><rect x="105.3" y="195.5" width="4.2" height="6.1" fill="#f9bc2e"/><rect x="108.9" y="195.5" width="4.2" height="6.1" fill="#f09424"/><rect x="112.4" y="195.5" width="14.3" height="6.1" fill="#e66a1c"/><rect x="14" y="200.9" width="14.3" height="6.1" fill="#dadada"/><rect x="27.6" y="200.9" width="18.4" height="6.1" fill="#ffffff"/><rect x="45.3" y="200.9" width="7.8" height="6.1" fill="#fff3a4"/><rect x="52.3" y="200.9" width="4.2" height="6.1" fill="#ffe44c"/><rect x="55.9" y="200.9" width="4.2" height="6.1" fill="#f9bc2e"/><rect x="59.4" y="200.9" width="4.2" height="6.1" fill="#f09424"/><rect x="62.9" y="200.9" width="4.2" height="6.1" fill="#8c0c08"/><rect x="66.5" y="200.9" width="7.8" height="6.1" fill="#d64014"/><rect x="73.5" y="200.9" width="4.2" height="6.1" fill="#e66a1c"/><rect x="77.1" y="200.9" width="4.2" height="6.1" fill="#d64014"/><rect x="80.6" y="200.9" width="7.8" height="6.1" fill="#e66a1c"/><rect x="87.7" y="200.9" width="7.8" height="6.1" fill="#ffe44c"/><rect x="94.7" y="200.9" width="7.8" height="6.1" fill="#f09424"/><rect x="101.8" y="200.9" width="7.8" height="6.1" fill="#ffe44c"/><rect x="108.9" y="200.9" width="4.2" height="6.1" fill="#f9bc2e"/><rect x="112.4" y="200.9" width="4.2" height="6.1" fill="#e66a1c"/><rect x="115.9" y="200.9" width="10.8" height="6.1" fill="#d64014"/><rect x="14" y="206.2" width="32" height="6.1" fill="#dadada"/><rect x="45.3" y="206.2" width="7.8" height="6.1" fill="#ffffff"/><rect x="52.3" y="206.2" width="4.2" height="6.1" fill="#ffe44c"/><rect x="55.9" y="206.2" width="4.2" height="6.1" fill="#f09424"/><rect x="59.4" y="206.2" width="4.2" height="6.1" fill="#e66a1c"/><rect x="62.9" y="206.2" width="4.2" height="6.1" fill="#f09424"/><rect x="66.5" y="206.2" width="7.8" height="6.1" fill="#f9bc2e"/><rect x="73.5" y="206.2" width="4.2" height="6.1" fill="#f09424"/><rect x="77.1" y="206.2" width="7.8" height="6.1" fill="#bc1a0e"/><rect x="84.1" y="206.2" width="7.8" height="6.1" fill="#f09424"/><rect x="91.2" y="206.2" width="4.2" height="6.1" fill="#d64014"/><rect x="94.7" y="206.2" width="4.2" height="6.1" fill="#f9bc2e"/><rect x="98.3" y="206.2" width="4.2" height="6.1" fill="#f09424"/><rect x="101.8" y="206.2" width="4.2" height="6.1" fill="#d64014"/><rect x="105.3" y="206.2" width="4.2" height="6.1" fill="#f09424"/><rect x="108.9" y="206.2" width="4.2" height="6.1" fill="#ffe44c"/><rect x="112.4" y="206.2" width="7.8" height="6.1" fill="#f09424"/><rect x="119.5" y="206.2" width="7.2" height="6.1" fill="#e66a1c"/><rect x="14" y="211.6" width="32" height="6.1" fill="#dadada"/><rect x="45.3" y="211.6" width="14.8" height="6.1" fill="#ffffff"/><rect x="59.4" y="211.6" width="7.8" height="6.1" fill="#fff3a4"/><rect x="66.5" y="211.6" width="14.8" height="6.1" fill="#ffe44c"/><rect x="80.6" y="211.6" width="4.2" height="6.1" fill="#fff3a4"/><rect x="84.1" y="211.6" width="4.2" height="6.1" fill="#f9bc2e"/><rect x="87.7" y="211.6" width="7.8" height="6.1" fill="#ffe44c"/><rect x="94.7" y="211.6" width="7.8" height="6.1" fill="#f9bc2e"/><rect x="101.8" y="211.6" width="4.2" height="6.1" fill="#f09424"/><rect x="105.3" y="211.6" width="4.2" height="6.1" fill="#f9bc2e"/><rect x="108.9" y="211.6" width="4.2" height="6.1" fill="#ffe44c"/><rect x="112.4" y="211.6" width="4.2" height="6.1" fill="#e66a1c"/><rect x="115.9" y="211.6" width="4.2" height="6.1" fill="#d64014"/><rect x="119.5" y="211.6" width="7.2" height="6.1" fill="#f9bc2e"/><rect x="14" y="217" width="46.1" height="6.1" fill="#dadada"/><rect x="59.4" y="217" width="7.8" height="6.1" fill="#ffffff"/><rect x="66.5" y="217" width="7.8" height="6.1" fill="#fff3a4"/><rect x="73.5" y="217" width="4.2" height="6.1" fill="#f9bc2e"/><rect x="77.1" y="217" width="4.2" height="6.1" fill="#ffe44c"/><rect x="80.6" y="217" width="4.2" height="6.1" fill="#fff3a4"/><rect x="84.1" y="217" width="4.2" height="6.1" fill="#f9bc2e"/><rect x="87.7" y="217" width="4.2" height="6.1" fill="#ffe44c"/><rect x="91.2" y="217" width="4.2" height="6.1" fill="#f9bc2e"/><rect x="94.7" y="217" width="4.2" height="6.1" fill="#f09424"/><rect x="98.3" y="217" width="4.2" height="6.1" fill="#d64014"/><rect x="101.8" y="217" width="4.2" height="6.1" fill="#f09424"/><rect x="105.3" y="217" width="7.8" height="6.1" fill="#f9bc2e"/><rect x="112.4" y="217" width="4.2" height="6.1" fill="#f09424"/><rect x="115.9" y="217" width="4.2" height="6.1" fill="#e66a1c"/><rect x="119.5" y="217" width="7.2" height="6.1" fill="#f9bc2e"/><rect x="14" y="222.4" width="46.1" height="6.1" fill="#dadada"/><rect x="59.4" y="222.4" width="14.8" height="6.1" fill="#ffffff"/><rect x="73.5" y="222.4" width="11.3" height="6.1" fill="#fff3a4"/><rect x="84.1" y="222.4" width="4.2" height="6.1" fill="#ffe44c"/><rect x="87.7" y="222.4" width="4.2" height="6.1" fill="#fff3a4"/><rect x="91.2" y="222.4" width="4.2" height="6.1" fill="#ffe44c"/><rect x="94.7" y="222.4" width="14.8" height="6.1" fill="#f09424"/><rect x="108.9" y="222.4" width="7.8" height="6.1" fill="#f9bc2e"/><rect x="115.9" y="222.4" width="10.8" height="6.1" fill="#ffe44c"/><rect x="14" y="227.7" width="60.2" height="6.1" fill="#dadada"/><rect x="73.5" y="227.7" width="7.8" height="6.1" fill="#ffffff"/><rect x="80.6" y="227.7" width="4.2" height="6.1" fill="#fff3a4"/><rect x="84.1" y="227.7" width="7.8" height="6.1" fill="#ffe44c"/><rect x="91.2" y="227.7" width="4.2" height="6.1" fill="#f9bc2e"/><rect x="94.7" y="227.7" width="7.8" height="6.1" fill="#f09424"/><rect x="101.8" y="227.7" width="4.2" height="6.1" fill="#f9bc2e"/><rect x="105.3" y="227.7" width="4.2" height="6.1" fill="#f09424"/><rect x="108.9" y="227.7" width="4.2" height="6.1" fill="#d64014"/><rect x="112.4" y="227.7" width="4.2" height="6.1" fill="#f9bc2e"/><rect x="115.9" y="227.7" width="10.8" height="6.1" fill="#ffe44c"/><rect x="14" y="233.1" width="63.8" height="6.1" fill="#dadada"/><rect x="77.1" y="233.1" width="4.2" height="6.1" fill="#ffffff"/><rect x="80.6" y="233.1" width="7.8" height="6.1" fill="#ffe44c"/><rect x="87.7" y="233.1" width="7.8" height="6.1" fill="#f09424"/><rect x="94.7" y="233.1" width="4.2" height="6.1" fill="#ffe44c"/><rect x="98.3" y="233.1" width="7.8" height="6.1" fill="#f9bc2e"/><rect x="105.3" y="233.1" width="7.8" height="6.1" fill="#e66a1c"/><rect x="112.4" y="233.1" width="7.8" height="6.1" fill="#f9bc2e"/><rect x="119.5" y="233.1" width="7.2" height="6.1" fill="#ffe44c"/><rect x="14" y="238.5" width="63.8" height="6.1" fill="#dadada"/><rect x="77.1" y="238.5" width="7.8" height="6.1" fill="#ffffff"/><rect x="84.1" y="238.5" width="7.8" height="6.1" fill="#fff3a4"/><rect x="91.2" y="238.5" width="7.8" height="6.1" fill="#ffe44c"/><rect x="98.3" y="238.5" width="4.2" height="6.1" fill="#f9bc2e"/><rect x="101.8" y="238.5" width="4.2" height="6.1" fill="#ffe44c"/><rect x="105.3" y="238.5" width="4.2" height="6.1" fill="#bc1a0e"/><rect x="108.9" y="238.5" width="4.2" height="6.1" fill="#d64014"/><rect x="112.4" y="238.5" width="4.2" height="6.1" fill="#f09424"/><rect x="115.9" y="238.5" width="10.8" height="6.1" fill="#ffe44c"/><rect x="14" y="243.9" width="70.8" height="6.1" fill="#dadada"/><rect x="84.1" y="243.9" width="4.2" height="6.1" fill="#fff3a4"/><rect x="87.7" y="243.9" width="4.2" height="6.1" fill="#fffef2"/><rect x="91.2" y="243.9" width="4.2" height="6.1" fill="#fff3a4"/><rect x="94.7" y="243.9" width="11.3" height="6.1" fill="#ffe44c"/><rect x="105.3" y="243.9" width="7.8" height="6.1" fill="#f09424"/><rect x="112.4" y="243.9" width="4.2" height="6.1" fill="#f9bc2e"/><rect x="115.9" y="243.9" width="4.2" height="6.1" fill="#fff3a4"/><rect x="119.5" y="243.9" width="7.2" height="6.1" fill="#ffe44c"/><rect x="14" y="249.2" width="63.8" height="6.1" fill="#dadada"/><rect x="77.1" y="249.2" width="7.8" height="6.1" fill="#ffffff"/><rect x="84.1" y="249.2" width="4.2" height="6.1" fill="#ffe44c"/><rect x="87.7" y="249.2" width="7.8" height="6.1" fill="#fff3a4"/><rect x="94.7" y="249.2" width="4.2" height="6.1" fill="#ffe44c"/><rect x="98.3" y="249.2" width="4.2" height="6.1" fill="#fff3a4"/><rect x="101.8" y="249.2" width="7.8" height="6.1" fill="#ffe44c"/><rect x="108.9" y="249.2" width="11.3" height="6.1" fill="#fff3a4"/><rect x="119.5" y="249.2" width="7.2" height="6.1" fill="#ffe44c"/><rect x="14" y="254.6" width="56.7" height="6.1" fill="#dadada"/><rect x="70" y="254.6" width="11.3" height="6.1" fill="#ffffff"/><rect x="80.6" y="254.6" width="11.3" height="6.1" fill="#fff3a4"/><rect x="91.2" y="254.6" width="4.2" height="6.1" fill="#ffe44c"/><rect x="94.7" y="254.6" width="11.3" height="6.1" fill="#fff3a4"/><rect x="105.3" y="254.6" width="7.8" height="6.1" fill="#ffe44c"/><rect x="112.4" y="254.6" width="7.8" height="6.1" fill="#fff3a4"/><rect x="119.5" y="254.6" width="7.2" height="6.1" fill="#ffe44c"/><rect x="14" y="260" width="10.8" height="7.4" fill="#ffffff"/><rect x="24.1" y="260" width="46.6" height="7.4" fill="#dadada"/><rect x="70" y="260" width="7.8" height="7.4" fill="#ffffff"/><rect x="77.1" y="260" width="7.8" height="7.4" fill="#dadada"/><rect x="84.1" y="260" width="14.8" height="7.4" fill="#ffffff"/><rect x="98.3" y="260" width="4.2" height="7.4" fill="#fff3a4"/><rect x="101.8" y="260" width="24.9" height="7.4" fill="#ffffff"/></g>
</g>
<g stroke="#333" stroke-width="0.35" stroke-opacity="0.5"><path d="M16.8 152.3V263.7"/><path d="M52 152.3V263.7"/><path d="M87.3 152.3V263.7"/><path d="M122.4 152.3V263.7"/><path d="M16.2 153.7H122.8"/><path d="M16.2 206.7H122.8"/><path d="M16.2 259.1H122.8"/></g>
<rect x="16.2" y="152.3" width="106.6" height="111.4" fill="none" stroke="#2e2e2e" stroke-width="0.7"/>
<g fill="none" stroke="#1a1a1a" stroke-width="0.5" stroke-opacity="0.9" stroke-linejoin="round" transform="translate(16.2 152.3)">
<path d="M8 110.8L11 109.5L13.5 106.5L15.3 104L17 106.3L18.3 108.5L20.2 106.2L22 108.6L24 110.8"/>
<path d="M12.5 110.8L14.5 108.5L16.5 110"/>
</g>
<path clip-path="url(#c3)" stroke="#1c1c1c" fill="#1c1c1c" stroke-width="0.34" stroke-linejoin="miter" d="M13.9 152.4L17.1 155M18.9 156.6L16.7 155.5L17.4 154.6ZM22.6 152.3L25.9 155.1M27.8 156.7L25.5 155.6L26.3 154.7ZM31.3 152.3L34.8 155.2M36.6 156.7L34.4 155.7L35.2 154.7ZM39.9 152.3L43.7 155.3M45.6 156.7L43.3 155.7L44.1 154.8ZM48.2 152.8L52.7 155.1M54.9 156.2L52.5 155.6L53 154.6ZM56.5 154L61.8 154.7M64.1 155L61.7 155.3L61.8 154.1ZM65.2 155.6L70.6 154.1M72.9 153.4L70.8 154.7L70.5 153.5ZM74.7 157.1L79.2 153.4M81 151.9L79.6 153.9L78.8 152.9ZM84.6 158.2L87.5 152.9M88.6 150.8L88 153.2L87 152.6ZM94.6 158.8L95.8 152.6M96.3 150.2L96.4 152.7L95.2 152.5ZM104 159L104.3 152.4M104.4 150L104.9 152.4L103.7 152.4ZM112.8 159.1L113.1 152.3M113.1 149.9L113.7 152.3L112.5 152.3ZM121.6 159.2L121.8 152.2M121.9 149.8L122.4 152.2L121.2 152.1ZM13.9 163.6L17.1 166.2M18.9 167.8L16.7 166.7L17.4 165.8ZM22.6 163.5L25.9 166.3M27.8 167.9L25.5 166.8L26.3 165.9ZM31.3 163.5L34.8 166.4M36.6 167.9L34.4 166.9L35.2 165.9ZM39.9 163.5L43.7 166.5M45.6 167.9L43.3 166.9L44.1 166ZM48.2 164L52.7 166.3M54.9 167.4L52.5 166.8L53 165.8ZM56.5 165.2L61.8 165.9M64.1 166.2L61.7 166.5L61.8 165.3ZM65.2 166.8L70.6 165.3M72.9 164.6L70.8 165.9L70.5 164.7ZM74.7 168.3L79.2 164.6M81 163.1L79.6 165.1L78.8 164.1ZM84.6 169.4L87.5 164.1M88.6 162L88 164.4L87 163.8ZM94.6 170L95.8 163.8M96.3 161.4L96.4 163.9L95.2 163.7ZM104 170.2L104.3 163.6M104.4 161.2L104.9 163.6L103.7 163.6ZM112.8 170.3L113.1 163.5M113.1 161.1L113.7 163.5L112.5 163.5ZM121.6 170.4L121.8 163.4M121.9 161L122.4 163.4L121.2 163.3ZM13.9 174.8L17.1 177.4M18.9 179L16.7 177.9L17.4 177ZM22.6 174.7L25.9 177.5M27.8 179.1L25.5 178L26.3 177.1ZM31.3 174.7L34.8 177.6M36.6 179.1L34.4 178.1L35.2 177.1ZM39.9 174.7L43.7 177.7M45.6 179.1L43.3 178.1L44.1 177.2ZM48.2 175.2L52.7 177.5M54.9 178.6L52.5 178L53 177ZM56.5 176.4L61.8 177.1M64.1 177.4L61.7 177.7L61.8 176.5ZM65.2 178L70.6 176.5M72.9 175.8L70.8 177.1L70.5 175.9ZM74.7 179.5L79.2 175.8M81 174.3L79.6 176.3L78.8 175.3ZM84.6 180.6L87.5 175.3M88.6 173.2L88 175.6L87 175ZM94.6 181.2L95.8 175M96.3 172.6L96.4 175.1L95.2 174.9ZM104 181.4L104.3 174.8M104.4 172.4L104.9 174.8L103.7 174.8ZM112.8 181.5L113.1 174.7M113.1 172.3L113.7 174.7L112.5 174.7ZM121.6 181.6L121.8 174.6M121.9 172.2L122.4 174.6L121.2 174.5ZM13.9 186L17.1 188.6M18.9 190.2L16.7 189.1L17.4 188.2ZM22.6 186L25.9 188.7M27.8 190.2L25.6 189.2L26.3 188.3ZM31.2 185.9L34.8 188.8M36.7 190.3L34.4 189.3L35.2 188.3ZM39.9 185.9L43.7 188.8M45.6 190.3L43.4 189.3L44.1 188.4ZM48.1 186.5L52.7 188.7M54.9 189.7L52.5 189.2L53 188.1ZM56.5 187.6L61.8 188.3M64.1 188.6L61.7 188.9L61.8 187.7ZM65.2 189.2L70.6 187.7M72.9 187L70.8 188.2L70.4 187.1ZM74.7 190.7L79.2 187M81 185.5L79.6 187.5L78.8 186.5ZM84.6 191.8L87.5 186.5M88.6 184.4L88 186.8L87 186.2ZM94.6 192.4L95.8 186.2M96.3 183.8L96.4 186.3L95.2 186.1ZM104 192.6L104.3 186M104.4 183.6L104.9 186L103.7 186ZM112.8 192.7L113.1 185.9M113.1 183.5L113.7 185.9L112.5 185.9ZM121.6 192.8L121.8 185.8M121.9 183.4L122.4 185.8L121.2 185.7ZM13.4 198.1L17.2 199.6M19.4 200.5L17 200.2L17.4 199ZM22 198.1L26.1 199.6M28.3 200.5L25.9 200.2L26.3 199.1ZM30.7 198.1L35 199.7M37.2 200.5L34.8 200.3L35.2 199.1ZM39.3 198.1L43.9 199.7M46.2 200.5L43.7 200.3L44.1 199.1ZM47.8 198.7L52.8 199.5M55.2 199.9L52.8 200.1L52.9 198.9ZM56.5 199.8L61.8 199.1M64.1 198.8L61.8 199.7L61.7 198.5ZM65.5 201.1L70.5 198.6M72.7 197.5L70.8 199.1L70.2 198.1ZM75 202.3L79 198M80.7 196.3L79.5 198.5L78.6 197.6ZM84.9 203.2L87.4 197.6M88.4 195.4L87.9 197.9L86.9 197.4ZM94.7 203.6L95.8 197.4M96.2 195L96.3 197.5L95.2 197.3ZM104 203.8L104.3 197.2M104.4 194.8L104.9 197.2L103.7 197.2ZM112.8 203.9L113.1 197.1M113.1 194.7L113.7 197.1L112.5 197.1ZM121.6 204L121.8 197M121.9 194.6L122.4 197L121.2 196.9ZM13.3 210.4L17.1 210.5M19.5 210.6L17.1 211.1L17.1 209.9ZM22 210.4L25.9 210.5M28.3 210.6L25.9 211.1L26 209.9ZM30.7 210.4L34.8 210.5M37.2 210.6L34.8 211.1L34.8 209.9ZM39.4 210.5L43.7 210.5M46.1 210.5L43.7 211.1L43.7 209.9ZM48.1 211L52.6 210.3M55 210L52.7 210.9L52.5 209.8ZM57 211.8L61.4 210.1M63.6 209.2L61.6 210.6L61.2 209.5ZM66.1 212.8L70.2 209.7M72.1 208.2L70.5 210.1L69.8 209.2ZM75.5 213.8L78.8 209.1M80.2 207.2L79.3 209.5L78.3 208.8ZM85.2 214.5L87.3 208.8M88.1 206.5L87.8 209L86.7 208.6ZM94.8 214.8L95.7 208.6M96.1 206.2L96.3 208.6L95.1 208.5ZM104 215L104.3 208.4M104.4 206L104.9 208.4L103.7 208.4ZM112.8 215.1L113.1 208.3M113.1 205.9L113.7 208.3L112.5 208.3ZM121.6 215.2L121.8 208.2M121.9 205.8L122.4 208.2L121.2 208.1ZM14.2 221.6L16.9 221.7M18.6 221.8L16.9 222.1L16.9 221.3ZM22.9 221.6L25.7 221.7M27.4 221.8L25.7 222.1L25.7 221.3ZM31.7 221.6L34.5 221.7M36.2 221.8L34.5 222.1L34.5 221.3ZM40.5 221.7L43.3 221.7M45 221.7L43.3 222.1L43.3 221.3ZM49.3 222L52.1 221.6M53.7 221.4L52.1 222L52 221.2ZM58.2 222.5L60.8 221.5M62.4 220.9L61 221.9L60.6 221.1ZM66.9 223.4L69.6 221.3M71.3 220L69.9 221.7L69.3 220.9ZM75.6 224.8L78.7 220.5M80.1 218.6L79.2 220.9L78.2 220.2ZM85.2 225.7L87.3 220M88.1 217.7L87.8 220.2L86.7 219.8ZM94.8 226L95.7 219.8M96.1 217.4L96.3 219.8L95.1 219.7ZM104 226.2L104.3 219.6M104.4 217.2L104.9 219.6L103.7 219.6ZM112.8 226.3L113.1 219.5M113.1 217.1L113.7 219.5L112.5 219.5ZM121.6 226.4L121.8 219.4M121.9 217L122.4 219.4L121.2 219.3ZM14.3 232L16.9 233.1M18.5 233.8L16.7 233.5L17.1 232.7ZM23.1 232L25.7 233.1M27.2 233.8L25.5 233.5L25.8 232.7ZM31.9 232L34.5 233.1M36 233.8L34.3 233.5L34.6 232.7ZM40.7 232.1L43.2 233.1M44.8 233.7L43.1 233.5L43.4 232.7ZM49.3 232.4L52 233M53.7 233.4L52 233.4L52.1 232.6ZM58.1 233.1L60.8 232.9M62.5 232.7L60.9 233.3L60.8 232.4ZM66.6 234.1L69.7 232.6M71.6 231.7L69.9 233.1L69.5 232.1ZM75.2 235.7L78.9 231.9M80.5 230.1L79.3 232.3L78.4 231.4ZM84.9 236.7L87.4 231.2M88.4 229.1L88 231.5L86.9 231ZM94.7 237.2L95.8 231M96.2 228.6L96.4 231.1L95.2 230.9ZM104 237.4L104.3 230.8M104.4 228.4L104.9 230.8L103.7 230.8ZM112.8 237.5L113.1 230.7M113.1 228.3L113.7 230.7L112.5 230.7ZM121.6 237.6L121.8 230.6M121.9 228.2L122.4 230.6L121.2 230.5ZM14.6 242.8L16.8 244.4M18.2 245.4L16.6 244.8L17.1 244.1ZM23.3 242.8L25.6 244.4M27 245.4L25.4 244.8L25.9 244.1ZM32.1 242.8L34.4 244.4M35.8 245.4L34.2 244.8L34.6 244.1ZM40.9 242.9L43.2 244.4M44.6 245.3L43 244.8L43.4 244ZM49.4 243.3L52 244.3M53.6 244.9L51.9 244.7L52.2 243.9ZM58.1 243.9L60.8 244.1M62.5 244.3L60.8 244.6L60.9 243.7ZM66.4 245L69.7 243.9M71.7 243.2L69.9 244.4L69.5 243.4ZM75 246.7L78.9 243.1M80.7 241.5L79.3 243.6L78.5 242.7ZM84.7 247.9L87.5 242.5M88.6 240.3L88 242.7L86.9 242.2ZM94.6 248.4L95.8 242.2M96.2 239.8L96.4 242.3L95.2 242.1ZM104 248.6L104.3 242M104.4 239.6L104.9 242L103.7 242ZM112.8 248.7L113.1 241.9M113.1 239.5L113.7 241.9L112.5 241.9ZM121.6 248.8L121.8 241.8M121.9 239.4L122.4 241.8L121.2 241.7ZM14.6 254L16.8 255.6M18.2 256.6L16.6 256L17.1 255.3ZM23.3 254L25.6 255.6M27 256.6L25.4 256L25.9 255.3ZM32.1 254L34.4 255.6M35.8 256.6L34.2 256L34.6 255.3ZM40.9 254.1L43.2 255.6M44.6 256.5L43 256L43.4 255.2ZM49.4 254.5L52 255.5M53.6 256.1L51.9 255.9L52.2 255.1ZM58.1 255.1L60.8 255.3M62.5 255.5L60.8 255.8L60.9 254.9ZM66.4 256.2L69.7 255.1M71.7 254.4L69.9 255.6L69.5 254.6ZM75 257.9L78.9 254.3M80.7 252.7L79.3 254.8L78.5 253.9ZM84.7 259.1L87.5 253.7M88.6 251.5L88 253.9L86.9 253.4ZM94.6 259.6L95.8 253.4M96.2 251L96.4 253.5L95.2 253.3ZM104 259.8L104.3 253.2M104.4 250.8L104.9 253.2L103.7 253.2ZM112.8 259.9L113.1 253.1M113.1 250.7L113.7 253.1L112.5 253.1ZM121.6 260L121.8 253M121.9 250.6L122.4 253L121.2 252.9Z"/>
<circle cx="72.3" cy="205.4" r="4.5" fill="none" stroke="#1a84ba" stroke-width="1.0"/>
<text x="16.3" y="149.7" font-size="7.6" text-anchor="start" font-weight="bold" fill="#000">(c)</text>
<text x="15.8" y="155.7" font-size="6.2" text-anchor="end" >62°N</text>
<text x="15.8" y="208.7" font-size="6.2" text-anchor="end" >61°N</text>
<text x="15.8" y="261.1" font-size="6.2" text-anchor="end" >60°N</text>
<text x="17.6" y="269.7" font-size="6.2" text-anchor="middle" >140°W</text>
<text x="52.8" y="269.7" font-size="6.2" text-anchor="middle" >139°W</text>
<text x="87.9" y="269.7" font-size="6.2" text-anchor="middle" >138°W</text>
<text x="123" y="269.7" font-size="6.2" text-anchor="middle" >137°W</text>
<text x="70.3" y="150.1" font-size="6.3" text-anchor="middle" >850 hPa</text>
<path stroke="#111" fill="#111" stroke-width="0.5" d="M91.8 148.6L94.9 148.6M96.8 148.6L94.9 149.4L94.9 147.8ZM102.1 149.2L102.1 142.2M102.1 140L102.9 142.2L101.3 142.2Z"/>
<text x="106.2" y="150.1" font-size="6.3">1 m s<tspan dy="-2.4" font-size="4.4">-1</tspan></text>
<rect x="129.1" y="171.2" width="4.9" height="74.7" fill="url(#gh)" stroke="#2e2e2e" stroke-width="0.5"/>
<path d="M132.8 172.1H134" stroke="#2e2e2e" stroke-width="0.45"/>
<text x="136.4" y="174.2" font-size="6.4" text-anchor="start" >25</text>
<path d="M132.8 188.8H134" stroke="#2e2e2e" stroke-width="0.45"/>
<text x="136.4" y="190.9" font-size="6.4" text-anchor="start" >20</text>
<path d="M132.8 205.5H134" stroke="#2e2e2e" stroke-width="0.45"/>
<text x="136.4" y="207.6" font-size="6.4" text-anchor="start" >15</text>
<path d="M132.8 222.2H134" stroke="#2e2e2e" stroke-width="0.45"/>
<text x="136.4" y="224.3" font-size="6.4" text-anchor="start" >10</text>
<path d="M132.8 238.9H134" stroke="#2e2e2e" stroke-width="0.45"/>
<text x="136.4" y="241" font-size="6.4" text-anchor="start" >5</text>
<text transform="translate(151 208.6) rotate(-90)" font-size="6.1" text-anchor="middle">FoO DOD &gt; 0.5 [#]</text>
<clipPath id="c4"><rect x="179.1" y="152.3" width="106.5" height="111.4"/></clipPath>
<g clip-path="url(#c4)">
<g filter="url(#bl)"><rect x="179.1" y="152.3" width="106.5" height="111.4" fill="#fff"/><rect x="180" y="153" width="54.2" height="3.7" fill="#ffffff"/><rect x="233.5" y="153" width="16.8" height="3.7" fill="#fff3a4"/><rect x="249.6" y="153" width="38.1" height="3.7" fill="#ffffff"/><rect x="180" y="156" width="6" height="3" fill="#ffffff"/><rect x="185.3" y="156" width="43.5" height="3" fill="#dadada"/><rect x="228.2" y="156" width="6" height="3" fill="#ffffff"/><rect x="233.5" y="156" width="16.8" height="3" fill="#fff3a4"/><rect x="249.6" y="156" width="38.1" height="3" fill="#ffffff"/><rect x="180" y="158.3" width="6" height="6" fill="#ffffff"/><rect x="185.3" y="158.3" width="43.5" height="6" fill="#dadada"/><rect x="228.2" y="158.3" width="6" height="6" fill="#ffffff"/><rect x="233.5" y="158.3" width="6" height="6" fill="#fff3a4"/><rect x="238.8" y="158.3" width="6" height="6" fill="#ffe44c"/><rect x="244.2" y="158.3" width="6.1" height="6" fill="#fff3a4"/><rect x="249.6" y="158.3" width="6" height="6" fill="#ffffff"/><rect x="254.9" y="158.3" width="27.4" height="6" fill="#dadada"/><rect x="281.6" y="158.3" width="6.1" height="6" fill="#ffffff"/><rect x="180" y="163.6" width="22.1" height="6" fill="#ffffff"/><rect x="201.4" y="163.6" width="27.4" height="6" fill="#dadada"/><rect x="228.2" y="163.6" width="6" height="6" fill="#ffffff"/><rect x="233.5" y="163.6" width="6" height="6" fill="#fff3a4"/><rect x="238.8" y="163.6" width="6" height="6" fill="#ffe44c"/><rect x="244.2" y="163.6" width="6.1" height="6" fill="#fff3a4"/><rect x="249.6" y="163.6" width="11.4" height="6" fill="#ffffff"/><rect x="260.2" y="163.6" width="22.1" height="6" fill="#dadada"/><rect x="281.6" y="163.6" width="6.1" height="6" fill="#ffffff"/><rect x="180" y="169" width="75.6" height="6" fill="#ffffff"/><rect x="254.9" y="169" width="27.4" height="6" fill="#dadada"/><rect x="281.6" y="169" width="6.1" height="6" fill="#ffffff"/><rect x="180" y="174.3" width="6" height="6" fill="#fffef2"/><rect x="185.3" y="174.3" width="11.4" height="6" fill="#fff3a4"/><rect x="196.1" y="174.3" width="11.4" height="6" fill="#ffe44c"/><rect x="206.8" y="174.3" width="11.4" height="6" fill="#fff3a4"/><rect x="217.4" y="174.3" width="6.1" height="6" fill="#ffe44c"/><rect x="222.8" y="174.3" width="6" height="6" fill="#f09424"/><rect x="228.2" y="174.3" width="11.4" height="6" fill="#d64014"/><rect x="238.8" y="174.3" width="11.4" height="6" fill="#ffe44c"/><rect x="249.6" y="174.3" width="6" height="6" fill="#fff3a4"/><rect x="254.9" y="174.3" width="11.4" height="6" fill="#fffef2"/><rect x="265.6" y="174.3" width="6" height="6" fill="#dadada"/><rect x="270.9" y="174.3" width="16.8" height="6" fill="#fffef2"/><rect x="180" y="179.6" width="6" height="6" fill="#fffef2"/><rect x="185.3" y="179.6" width="27.4" height="6" fill="#fff3a4"/><rect x="212.1" y="179.6" width="11.4" height="6" fill="#ffe44c"/><rect x="222.8" y="179.6" width="6" height="6" fill="#f9bc2e"/><rect x="228.2" y="179.6" width="11.4" height="6" fill="#f09424"/><rect x="238.8" y="179.6" width="11.4" height="6" fill="#f9bc2e"/><rect x="249.6" y="179.6" width="6" height="6" fill="#ffe44c"/><rect x="254.9" y="179.6" width="6.1" height="6" fill="#fff3a4"/><rect x="260.2" y="179.6" width="27.4" height="6" fill="#fffef2"/><rect x="180" y="184.9" width="6" height="6" fill="#fffef2"/><rect x="185.3" y="184.9" width="27.4" height="6" fill="#fff3a4"/><rect x="212.1" y="184.9" width="11.4" height="6" fill="#f9bc2e"/><rect x="222.8" y="184.9" width="6" height="6" fill="#f09424"/><rect x="228.2" y="184.9" width="11.4" height="6" fill="#e66a1c"/><rect x="238.8" y="184.9" width="6" height="6" fill="#f09424"/><rect x="244.2" y="184.9" width="16.8" height="6" fill="#f9bc2e"/><rect x="260.2" y="184.9" width="6.1" height="6" fill="#ffe44c"/><rect x="265.6" y="184.9" width="6" height="6" fill="#fff3a4"/><rect x="270.9" y="184.9" width="16.8" height="6" fill="#fffef2"/><rect x="180" y="190.2" width="6" height="6" fill="#fffef2"/><rect x="185.3" y="190.2" width="22.1" height="6" fill="#fff3a4"/><rect x="206.8" y="190.2" width="6" height="6" fill="#ffe44c"/><rect x="212.1" y="190.2" width="6" height="6" fill="#f9bc2e"/><rect x="217.4" y="190.2" width="6.1" height="6" fill="#f09424"/><rect x="222.8" y="190.2" width="6" height="6" fill="#d64014"/><rect x="228.2" y="190.2" width="6" height="6" fill="#e66a1c"/><rect x="233.5" y="190.2" width="11.4" height="6" fill="#d64014"/><rect x="244.2" y="190.2" width="6.1" height="6" fill="#e66a1c"/><rect x="249.6" y="190.2" width="6" height="6" fill="#bc1a0e"/><rect x="254.9" y="190.2" width="6.1" height="6" fill="#8c0c08"/><rect x="260.2" y="190.2" width="6.1" height="6" fill="#520505"/><rect x="265.6" y="190.2" width="6" height="6" fill="#bc1a0e"/><rect x="270.9" y="190.2" width="6.1" height="6" fill="#f9bc2e"/><rect x="276.3" y="190.2" width="6" height="6" fill="#fff3a4"/><rect x="281.6" y="190.2" width="6.1" height="6" fill="#fffef2"/><rect x="180" y="195.6" width="6" height="6" fill="#fffef2"/><rect x="185.3" y="195.6" width="11.4" height="6" fill="#fff3a4"/><rect x="196.1" y="195.6" width="11.4" height="6" fill="#ffe44c"/><rect x="206.8" y="195.6" width="6" height="6" fill="#f9bc2e"/><rect x="212.1" y="195.6" width="6" height="6" fill="#f09424"/><rect x="217.4" y="195.6" width="11.4" height="6" fill="#e66a1c"/><rect x="228.2" y="195.6" width="11.4" height="6" fill="#d64014"/><rect x="238.8" y="195.6" width="11.4" height="6" fill="#e66a1c"/><rect x="249.6" y="195.6" width="6" height="6" fill="#bc1a0e"/><rect x="254.9" y="195.6" width="11.4" height="6" fill="#8c0c08"/><rect x="265.6" y="195.6" width="6" height="6" fill="#d64014"/><rect x="270.9" y="195.6" width="6.1" height="6" fill="#f9bc2e"/><rect x="276.3" y="195.6" width="6" height="6" fill="#fff3a4"/><rect x="281.6" y="195.6" width="6.1" height="6" fill="#fffef2"/><rect x="180" y="200.9" width="16.8" height="6" fill="#fff3a4"/><rect x="196.1" y="200.9" width="6" height="6" fill="#ffe44c"/><rect x="201.4" y="200.9" width="6" height="6" fill="#f9bc2e"/><rect x="206.8" y="200.9" width="6" height="6" fill="#f09424"/><rect x="212.1" y="200.9" width="11.4" height="6" fill="#e66a1c"/><rect x="222.8" y="200.9" width="6" height="6" fill="#f09424"/><rect x="228.2" y="200.9" width="6" height="6" fill="#e66a1c"/><rect x="233.5" y="200.9" width="16.8" height="6" fill="#d64014"/><rect x="249.6" y="200.9" width="11.4" height="6" fill="#e66a1c"/><rect x="260.2" y="200.9" width="6.1" height="6" fill="#f09424"/><rect x="265.6" y="200.9" width="6" height="6" fill="#ffe44c"/><rect x="270.9" y="200.9" width="6.1" height="6" fill="#fff3a4"/><rect x="276.3" y="200.9" width="11.4" height="6" fill="#fffef2"/><rect x="180" y="206.2" width="6" height="6" fill="#fffef2"/><rect x="185.3" y="206.2" width="16.8" height="6" fill="#fff3a4"/><rect x="201.4" y="206.2" width="6" height="6" fill="#ffe44c"/><rect x="206.8" y="206.2" width="6" height="6" fill="#f09424"/><rect x="212.1" y="206.2" width="6" height="6" fill="#e66a1c"/><rect x="217.4" y="206.2" width="11.4" height="6" fill="#d64014"/><rect x="228.2" y="206.2" width="22.1" height="6" fill="#bc1a0e"/><rect x="249.6" y="206.2" width="6" height="6" fill="#d64014"/><rect x="254.9" y="206.2" width="11.4" height="6" fill="#bc1a0e"/><rect x="265.6" y="206.2" width="6" height="6" fill="#e66a1c"/><rect x="270.9" y="206.2" width="6.1" height="6" fill="#ffe44c"/><rect x="276.3" y="206.2" width="6" height="6" fill="#fff3a4"/><rect x="281.6" y="206.2" width="6.1" height="6" fill="#fffef2"/><rect x="180" y="211.5" width="11.4" height="6" fill="#fffef2"/><rect x="190.7" y="211.5" width="16.8" height="6" fill="#fff3a4"/><rect x="206.8" y="211.5" width="11.4" height="6" fill="#ffe44c"/><rect x="217.4" y="211.5" width="6.1" height="6" fill="#f9bc2e"/><rect x="222.8" y="211.5" width="6" height="6" fill="#f09424"/><rect x="228.2" y="211.5" width="6" height="6" fill="#d64014"/><rect x="233.5" y="211.5" width="6" height="6" fill="#bc1a0e"/><rect x="238.8" y="211.5" width="11.4" height="6" fill="#d64014"/><rect x="249.6" y="211.5" width="11.4" height="6" fill="#e66a1c"/><rect x="260.2" y="211.5" width="6.1" height="6" fill="#d64014"/><rect x="265.6" y="211.5" width="6" height="6" fill="#e66a1c"/><rect x="270.9" y="211.5" width="6.1" height="6" fill="#f9bc2e"/><rect x="276.3" y="211.5" width="6" height="6" fill="#fff3a4"/><rect x="281.6" y="211.5" width="6.1" height="6" fill="#fffef2"/><rect x="180" y="216.9" width="11.4" height="4.8" fill="#dadada"/><rect x="190.7" y="216.9" width="11.4" height="4.8" fill="#ffffff"/><rect x="201.4" y="216.9" width="6" height="4.8" fill="#fffef2"/><rect x="206.8" y="216.9" width="16.8" height="4.8" fill="#fff3a4"/><rect x="222.8" y="216.9" width="6" height="4.8" fill="#ffe44c"/><rect x="228.2" y="216.9" width="6" height="4.8" fill="#f09424"/><rect x="233.5" y="216.9" width="6" height="4.8" fill="#d64014"/><rect x="238.8" y="216.9" width="6" height="4.8" fill="#e66a1c"/><rect x="244.2" y="216.9" width="6.1" height="4.8" fill="#f09424"/><rect x="249.6" y="216.9" width="6" height="4.8" fill="#bc1a0e"/><rect x="254.9" y="216.9" width="6.1" height="4.8" fill="#520505"/><rect x="260.2" y="216.9" width="6.1" height="4.8" fill="#1a0000"/><rect x="265.6" y="216.9" width="6" height="4.8" fill="#8c0c08"/><rect x="270.9" y="216.9" width="6.1" height="4.8" fill="#f09424"/><rect x="276.3" y="216.9" width="6" height="4.8" fill="#fff3a4"/><rect x="281.6" y="216.9" width="6.1" height="4.8" fill="#fffef2"/><rect x="180" y="220.9" width="16.8" height="5.8" fill="#dadada"/><rect x="196.1" y="220.9" width="11.4" height="5.8" fill="#ffffff"/><rect x="206.8" y="220.9" width="6" height="5.8" fill="#fffef2"/><rect x="212.1" y="220.9" width="11.4" height="5.8" fill="#fff3a4"/><rect x="222.8" y="220.9" width="6" height="5.8" fill="#ffe44c"/><rect x="228.2" y="220.9" width="6" height="5.8" fill="#e66a1c"/><rect x="233.5" y="220.9" width="6" height="5.8" fill="#8c0c08"/><rect x="238.8" y="220.9" width="32.8" height="5.8" fill="#1a0000"/><rect x="270.9" y="220.9" width="6.1" height="5.8" fill="#f09424"/><rect x="276.3" y="220.9" width="6" height="5.8" fill="#fff3a4"/><rect x="281.6" y="220.9" width="6.1" height="5.8" fill="#fffef2"/><rect x="180" y="226" width="22.1" height="7.5" fill="#dadada"/><rect x="201.4" y="226" width="6" height="7.5" fill="#fffef2"/><rect x="206.8" y="226" width="22.1" height="7.5" fill="#fff3a4"/><rect x="228.2" y="226" width="6" height="7.5" fill="#ffe44c"/><rect x="233.5" y="226" width="6" height="7.5" fill="#f9bc2e"/><rect x="238.8" y="226" width="6" height="7.5" fill="#f09424"/><rect x="244.2" y="226" width="6.1" height="7.5" fill="#e66a1c"/><rect x="249.6" y="226" width="6" height="7.5" fill="#f09424"/><rect x="254.9" y="226" width="6.1" height="7.5" fill="#f9bc2e"/><rect x="260.2" y="226" width="6.1" height="7.5" fill="#ffe44c"/><rect x="265.6" y="226" width="16.7" height="7.5" fill="#fff3a4"/><rect x="281.6" y="226" width="6.1" height="7.5" fill="#fffef2"/><rect x="180" y="232.8" width="27.4" height="6" fill="#dadada"/><rect x="206.8" y="232.8" width="81" height="6" fill="#fffef2"/><rect x="180" y="238.1" width="27.4" height="6" fill="#dadada"/><rect x="206.8" y="238.1" width="81" height="6" fill="#fffef2"/><rect x="180" y="243.5" width="48.9" height="6" fill="#dadada"/><rect x="228.2" y="243.5" width="32.8" height="6" fill="#fffef2"/><rect x="260.2" y="243.5" width="22.1" height="6" fill="#fff3a4"/><rect x="281.6" y="243.5" width="6.1" height="6" fill="#fffef2"/><rect x="180" y="248.8" width="27.4" height="6" fill="#dadada"/><rect x="206.8" y="248.8" width="22.1" height="6" fill="#fffef2"/><rect x="228.2" y="248.8" width="16.7" height="6" fill="#fff3a4"/><rect x="244.2" y="248.8" width="11.4" height="6" fill="#ffe44c"/><rect x="254.9" y="248.8" width="11.4" height="6" fill="#f9bc2e"/><rect x="265.6" y="248.8" width="11.4" height="6" fill="#e66a1c"/><rect x="276.3" y="248.8" width="11.4" height="6" fill="#d64014"/><rect x="180" y="254.1" width="27.4" height="3.5" fill="#dadada"/><rect x="206.8" y="254.1" width="16.8" height="3.5" fill="#fffef2"/><rect x="222.8" y="254.1" width="16.7" height="3.5" fill="#fff3a4"/><rect x="238.8" y="254.1" width="6" height="3.5" fill="#ffe44c"/><rect x="244.2" y="254.1" width="6.1" height="3.5" fill="#f09424"/><rect x="249.6" y="254.1" width="6" height="3.5" fill="#bc1a0e"/><rect x="254.9" y="254.1" width="6.1" height="3.5" fill="#8c0c08"/><rect x="260.2" y="254.1" width="11.4" height="3.5" fill="#520505"/><rect x="270.9" y="254.1" width="6.1" height="3.5" fill="#8c0c08"/><rect x="276.3" y="254.1" width="6" height="3.5" fill="#520505"/><rect x="281.6" y="254.1" width="6.1" height="3.5" fill="#8c0c08"/><rect x="180" y="256.9" width="11.4" height="3.2" fill="#ffffff"/><rect x="190.7" y="256.9" width="16.8" height="3.2" fill="#dadada"/><rect x="206.8" y="256.9" width="11.4" height="3.2" fill="#ffffff"/><rect x="217.4" y="256.9" width="6.1" height="3.2" fill="#fffef2"/><rect x="222.8" y="256.9" width="16.7" height="3.2" fill="#fff3a4"/><rect x="238.8" y="256.9" width="6" height="3.2" fill="#ffe44c"/><rect x="244.2" y="256.9" width="6.1" height="3.2" fill="#f09424"/><rect x="249.6" y="256.9" width="6" height="3.2" fill="#bc1a0e"/><rect x="254.9" y="256.9" width="6.1" height="3.2" fill="#8c0c08"/><rect x="260.2" y="256.9" width="11.4" height="3.2" fill="#520505"/><rect x="270.9" y="256.9" width="6.1" height="3.2" fill="#8c0c08"/><rect x="276.3" y="256.9" width="6" height="3.2" fill="#520505"/><rect x="281.6" y="256.9" width="6.1" height="3.2" fill="#8c0c08"/><rect x="180" y="259.4" width="11.4" height="5" fill="#ffffff"/><rect x="190.7" y="259.4" width="16.8" height="5" fill="#dadada"/><rect x="206.8" y="259.4" width="11.4" height="5" fill="#ffffff"/><rect x="217.4" y="259.4" width="11.4" height="5" fill="#fff3a4"/><rect x="228.2" y="259.4" width="11.4" height="5" fill="#ffe44c"/><rect x="238.8" y="259.4" width="6" height="5" fill="#f09424"/><rect x="244.2" y="259.4" width="6.1" height="5" fill="#d64014"/><rect x="249.6" y="259.4" width="38.1" height="5" fill="#bc1a0e"/></g>
</g>
<g stroke="#333" stroke-width="0.35" stroke-opacity="0.5"><path d="M180 152.3V263.7"/><path d="M206.2 152.3V263.7"/><path d="M232.6 152.3V263.7"/><path d="M259 152.3V263.7"/><path d="M284.6 152.3V263.7"/><path d="M179.1 154.3H285.6"/><path d="M179.1 207.4H285.6"/><path d="M179.1 260.5H285.6"/></g>
<rect x="179.1" y="152.3" width="106.5" height="111.4" fill="none" stroke="#2e2e2e" stroke-width="0.7"/>
<g clip-path="url(#c4)">
<g fill="none" stroke="#1a1a1a" stroke-width="0.5" stroke-opacity="0.9" stroke-linejoin="round" transform="translate(179.5 152.3)">
<path d="M43 23.5L48 21.8L55 21.2L62 21.5L68 22.8L72 25L77 28.5L82 33L86.8 38L90 43L92 49L92.8 55L93.2 61L92.8 68L91.4 72.5L87 75L76 75.6L60 75.4L54.5 74L51 71.5L47.5 68.5L44.5 66L39 64.5L35 62L31.5 62.5L28 60L23 59.5L19 57.5L14 57L11 54L10.5 49L13 46L16 44L19.5 42.5L21 39L20.5 35L23.5 33L28 32.5L31 30.5L33 28L37.5 27.5L40 25.5Z"/>
<path d="M0.5 21.5L4 20.2L8 20.8L9.5 23L13 22L17 21L21 20.6L25.5 21.5L27.5 24.5L27 28.5L25 31.5L20 32L15.5 31L11.5 32L11 35.5L8 37.2L3 37L0.5 35.5"/>
<path d="M16.5 22.5L16.8 26L15.5 29L16.2 31"/>
<path d="M29 4.2L31.5 3L33.8 4.2L34 7.5L32.5 9.6L30 9L28.8 6.5Z"/>
<path d="M9 13.5L11.5 11.5L15 11L15.8 13.5L13.5 16L10 17.2L8.6 15.8Z"/>
<path d="M17 10.5L19.5 10L20 11.5L17.8 12.2Z"/>
<path d="M38.5 17.6L41.5 17.2L41.8 19.3L38.8 19.6Z"/>
<path d="M50.5 0L51 2.4L58.5 2.6L59.5 0"/>
<path d="M56.8 5.5L66 5L67.2 9L68.6 15.2L66 16.3L59.5 16.2L57.5 13.5Z"/>
<path d="M29.5 76.5L33 74L40 73.4L45 75L47.5 79L46.5 82.2L40 82.8L34 82L30.5 79.5Z"/>
<path d="M0.5 38.2L3.5 37.8L4.6 39.6L1.5 40.4Z"/>
<path d="M42 110.5L45 104.5L50 103.5L54 104L58 101L64 99.5L70 98.8L76 98.4L79.5 101.5L82 99L90 98.4L100 98.8L107 99.5"/>
</g>
</g>
<path clip-path="url(#c4)" stroke="#1c1c1c" fill="#1c1c1c" stroke-width="0.34" stroke-linejoin="miter" d="M178.2 155.7L180.7 162.5M181.6 164.7L180.2 162.7L181.3 162.2ZM184.9 155.7L187.4 162.5M188.2 164.7L186.8 162.7L187.9 162.2ZM191.6 155.7L194 162.5M194.8 164.7L193.4 162.7L194.6 162.3ZM198.2 155.7L200.6 162.5M201.4 164.7L200.1 162.7L201.2 162.3ZM204.9 155.7L207.3 162.5M208 164.7L206.7 162.7L207.8 162.3ZM211.5 155.7L213.9 162.5M214.7 164.7L213.3 162.7L214.4 162.3ZM218.2 155.7L220.5 162.5M221.3 164.7L219.9 162.7L221.1 162.3ZM224.9 155.6L227.1 162.5M227.9 164.8L226.6 162.7L227.7 162.3ZM231.5 155.6L233.8 162.5M234.5 164.8L233.2 162.7L234.3 162.3ZM238.2 155.6L240.4 162.5M241.1 164.8L239.8 162.7L241 162.3ZM244.8 155.6L247 162.5M247.8 164.8L246.5 162.7L247.6 162.3ZM251.5 155.6L253.7 162.5M254.4 164.8L253.1 162.7L254.2 162.3ZM258.2 155.6L260.3 162.5M261 164.8L259.7 162.7L260.9 162.3ZM264.8 155.6L266.9 162.5M267.6 164.8L266.3 162.7L267.5 162.3ZM271.5 155.6L273.6 162.5M274.2 164.8L273 162.7L274.1 162.3ZM278.1 155.6L280.2 162.5M280.9 164.8L279.6 162.7L280.8 162.3ZM284.8 155.6L286.8 162.5M287.5 164.8L286.2 162.7L287.4 162.3ZM178.2 168L180.7 174.7M181.6 177L180.2 175L181.3 174.5ZM184.9 168L187.4 174.7M188.2 177L186.8 175L187.9 174.5ZM191.5 168L194 174.8M194.8 177L193.4 175L194.6 174.5ZM198.2 168L200.6 174.8M201.5 177L200.1 175L201.2 174.6ZM204.8 168L207.3 174.8M208.1 177L206.7 175L207.8 174.6ZM211.5 168L213.9 174.8M214.7 177L213.3 175L214.5 174.6ZM218.2 168L220.5 174.8M221.3 177L220 175L221.1 174.6ZM224.8 168L227.2 174.8M227.9 177L226.6 175L227.7 174.6ZM231.5 168L233.8 174.8M234.6 177L233.2 175L234.4 174.6ZM238.1 167.9L240.4 174.8M241.2 177.1L239.9 175L241 174.6ZM244.8 167.9L247 174.8M247.8 177.1L246.5 175L247.6 174.6ZM251.5 167.9L253.7 174.8M254.4 177.1L253.1 175L254.3 174.6ZM258.1 167.9L260.3 174.8M261 177.1L259.7 175L260.9 174.6ZM264.8 167.9L266.9 174.8M267.7 177.1L266.4 175L267.5 174.6ZM271.4 167.9L273.6 174.8M274.3 177.1L273 175L274.1 174.6ZM278.1 167.9L280.2 174.8M280.9 177.1L279.6 175L280.8 174.6ZM284.8 167.9L286.8 174.8M287.5 177.1L286.3 175L287.4 174.6ZM178.2 180.3L180.8 187M181.6 189.3L180.2 187.3L181.3 186.8ZM184.8 180.3L187.4 187M188.3 189.3L186.8 187.3L188 186.8ZM191.5 180.3L194 187M194.9 189.3L193.5 187.3L194.6 186.8ZM198.1 180.3L200.7 187M201.5 189.3L200.1 187.3L201.2 186.8ZM204.8 180.3L207.3 187.1M208.1 189.3L206.7 187.3L207.8 186.8ZM211.5 180.3L213.9 187.1M214.7 189.3L213.4 187.3L214.5 186.9ZM218.1 180.3L220.5 187.1M221.4 189.3L220 187.3L221.1 186.9ZM224.8 180.3L227.2 187.1M228 189.3L226.6 187.3L227.7 186.9ZM231.4 180.3L233.8 187.1M234.6 189.3L233.2 187.3L234.4 186.9ZM238.1 180.3L240.4 187.1M241.2 189.3L239.9 187.3L241 186.9ZM244.8 180.3L247.1 187.1M247.8 189.3L246.5 187.3L247.6 186.9ZM251.4 180.2L253.7 187.1M254.5 189.4L253.1 187.3L254.3 186.9ZM258.1 180.2L260.3 187.1M261.1 189.4L259.8 187.3L260.9 186.9ZM264.7 180.2L267 187.1M267.7 189.4L266.4 187.3L267.5 186.9ZM271.4 180.2L273.6 187.1M274.3 189.4L273 187.3L274.2 186.9ZM278.1 180.2L280.2 187.1M280.9 189.4L279.6 187.3L280.8 186.9ZM284.7 180.2L286.8 187.1M287.6 189.4L286.3 187.3L287.4 186.9ZM178.1 192.6L180.8 199.3M181.7 201.6L180.2 199.6L181.3 199.1ZM184.8 192.6L187.4 199.3M188.3 201.6L186.9 199.6L188 199.1ZM191.5 192.6L194 199.3M194.9 201.6L193.5 199.6L194.6 199.1ZM198.1 192.6L200.7 199.3M201.5 201.6L200.1 199.6L201.2 199.1ZM204.8 192.6L207.3 199.3M208.1 201.6L206.7 199.6L207.9 199.1ZM211.4 192.6L213.9 199.4M214.8 201.6L213.4 199.6L214.5 199.1ZM218.1 192.6L220.6 199.4M221.4 201.6L220 199.6L221.1 199.1ZM224.8 192.6L227.2 199.4M228 201.6L226.6 199.6L227.8 199.2ZM231.4 192.6L233.8 199.4M234.6 201.6L233.3 199.6L234.4 199.2ZM238.1 192.6L240.5 199.4M241.2 201.6L239.9 199.6L241 199.2ZM244.7 192.6L247.1 199.4M247.9 201.6L246.5 199.6L247.7 199.2ZM251.4 192.6L253.7 199.4M254.5 201.6L253.1 199.6L254.3 199.2ZM258.1 192.6L260.3 199.4M261.1 201.6L259.8 199.6L260.9 199.2ZM264.7 192.5L267 199.4M267.7 201.7L266.4 199.6L267.5 199.2ZM271.4 192.5L273.6 199.4M274.4 201.7L273 199.6L274.2 199.2ZM278 192.5L280.2 199.4M281 201.7L279.7 199.6L280.8 199.2ZM284.7 192.5L286.9 199.4M287.6 201.7L286.3 199.6L287.4 199.2ZM178.1 205L180.8 211.6M181.7 213.8L180.2 211.8L181.4 211.4ZM184.8 204.9L187.4 211.6M188.3 213.9L186.9 211.9L188 211.4ZM191.4 204.9L194.1 211.6M194.9 213.9L193.5 211.9L194.6 211.4ZM198.1 204.9L200.7 211.6M201.6 213.9L200.1 211.9L201.2 211.4ZM204.7 204.9L207.3 211.6M208.2 213.9L206.8 211.9L207.9 211.4ZM211.4 204.9L214 211.6M214.8 213.9L213.4 211.9L214.5 211.4ZM218.1 204.9L220.6 211.6M221.4 213.9L220 211.9L221.1 211.4ZM224.7 204.9L227.2 211.7M228 213.9L226.6 211.9L227.8 211.4ZM231.4 204.9L233.8 211.7M234.7 213.9L233.3 211.9L234.4 211.4ZM238 204.9L240.5 211.7M241.3 213.9L239.9 211.9L241 211.5ZM244.7 204.9L247.1 211.7M247.9 213.9L246.5 211.9L247.7 211.5ZM251.4 204.9L253.7 211.7M254.5 213.9L253.2 211.9L254.3 211.5ZM258 204.9L260.4 211.7M261.1 213.9L259.8 211.9L260.9 211.5ZM264.7 204.9L267 211.7M267.8 213.9L266.4 211.9L267.6 211.5ZM271.3 204.8L273.6 211.7M274.4 214L273.1 211.9L274.2 211.5ZM278 204.8L280.3 211.7M281 214L279.7 211.9L280.8 211.5ZM284.7 204.8L286.9 211.7M287.6 214L286.3 211.9L287.5 211.5ZM178.1 217.3L180.8 223.9M181.7 226.1L180.3 224.1L181.4 223.7ZM184.7 217.3L187.4 223.9M188.4 226.1L186.9 224.1L188 223.7ZM191.4 217.2L194.1 223.9M195 226.2L193.5 224.2L194.6 223.7ZM198 217.2L200.7 223.9M201.6 226.2L200.2 224.2L201.3 223.7ZM204.7 217.2L207.3 223.9M208.2 226.2L206.8 224.2L207.9 223.7ZM211.4 217.2L214 223.9M214.8 226.2L213.4 224.2L214.5 223.7ZM218 217.2L220.6 223.9M221.5 226.2L220 224.2L221.2 223.7ZM224.7 217.2L227.2 223.9M228.1 226.2L226.7 224.2L227.8 223.7ZM231.3 217.2L233.9 223.9M234.7 226.2L233.3 224.2L234.4 223.7ZM238 217.2L240.5 224M241.3 226.2L239.9 224.2L241.1 223.7ZM244.7 217.2L247.1 224M247.9 226.2L246.6 224.2L247.7 223.8ZM251.3 217.2L253.7 224M254.6 226.2L253.2 224.2L254.3 223.8ZM258 217.2L260.4 224M261.2 226.2L259.8 224.2L260.9 223.8ZM264.6 217.2L267 224M267.8 226.2L266.4 224.2L267.6 223.8ZM271.3 217.2L273.6 224M274.4 226.2L273.1 224.2L274.2 223.8ZM278 217.2L280.3 224M281 226.2L279.7 224.2L280.8 223.8ZM284.6 217.1L286.9 224M287.7 226.3L286.3 224.2L287.5 223.8ZM178 229.6L180.8 236.2M181.8 238.4L180.3 236.4L181.4 236ZM184.7 229.6L187.5 236.2M188.4 238.4L186.9 236.4L188 236ZM191.4 229.6L194.1 236.2M195 238.4L193.5 236.4L194.6 236ZM198 229.6L200.7 236.2M201.6 238.4L200.2 236.4L201.3 236ZM204.7 229.5L207.4 236.2M208.3 238.5L206.8 236.5L207.9 236ZM211.3 229.5L214 236.2M214.9 238.5L213.4 236.5L214.5 236ZM218 229.5L220.6 236.2M221.5 238.5L220.1 236.5L221.2 236ZM224.6 229.5L227.2 236.2M228.1 238.5L226.7 236.5L227.8 236ZM231.3 229.5L233.9 236.2M234.7 238.5L233.3 236.5L234.4 236ZM238 229.5L240.5 236.2M241.4 238.5L239.9 236.5L241.1 236ZM244.6 229.5L247.1 236.2M248 238.5L246.6 236.5L247.7 236ZM251.3 229.5L253.8 236.3M254.6 238.5L253.2 236.5L254.3 236ZM257.9 229.5L260.4 236.3M261.2 238.5L259.8 236.5L261 236.1ZM264.6 229.5L267 236.3M267.8 238.5L266.5 236.5L267.6 236.1ZM271.3 229.5L273.7 236.3M274.5 238.5L273.1 236.5L274.2 236.1ZM277.9 229.5L280.3 236.3M281.1 238.5L279.7 236.5L280.9 236.1ZM284.6 229.5L286.9 236.3M287.7 238.5L286.4 236.5L287.5 236.1ZM178 241.9L180.9 248.5M181.8 250.7L180.3 248.7L181.4 248.3ZM184.7 241.9L187.5 248.5M188.4 250.7L186.9 248.7L188 248.3ZM191.3 241.9L194.1 248.5M195 250.7L193.6 248.7L194.7 248.3ZM198 241.9L200.7 248.5M201.7 250.7L200.2 248.7L201.3 248.3ZM204.6 241.9L207.4 248.5M208.3 250.7L206.8 248.7L207.9 248.3ZM211.3 241.9L214 248.5M214.9 250.7L213.4 248.7L214.6 248.3ZM218 241.8L220.6 248.5M221.5 250.8L220.1 248.8L221.2 248.3ZM224.6 241.8L227.3 248.5M228.1 250.8L226.7 248.8L227.8 248.3ZM231.3 241.8L233.9 248.5M234.8 250.8L233.3 248.8L234.5 248.3ZM237.9 241.8L240.5 248.5M241.4 250.8L240 248.8L241.1 248.3ZM244.6 241.8L247.2 248.5M248 250.8L246.6 248.8L247.7 248.3ZM251.3 241.8L253.8 248.5M254.6 250.8L253.2 248.8L254.3 248.3ZM257.9 241.8L260.4 248.6M261.2 250.8L259.9 248.8L261 248.3ZM264.6 241.8L267 248.6M267.9 250.8L266.5 248.8L267.6 248.3ZM271.2 241.8L273.7 248.6M274.5 250.8L273.1 248.8L274.2 248.4ZM277.9 241.8L280.3 248.6M281.1 250.8L279.7 248.8L280.9 248.4ZM284.5 241.8L286.9 248.6M287.7 250.8L286.4 248.8L287.5 248.4ZM178 254.2L180.9 260.8M181.8 263L180.3 261L181.4 260.6ZM184.6 254.2L187.5 260.8M188.5 263L186.9 261L188 260.6ZM191.3 254.2L194.1 260.8M195.1 263L193.6 261L194.7 260.6ZM197.9 254.2L200.8 260.8M201.7 263L200.2 261L201.3 260.6ZM204.6 254.2L207.4 260.8M208.3 263L206.8 261L207.9 260.6ZM211.3 254.2L214 260.8M214.9 263L213.5 261L214.6 260.6ZM217.9 254.2L220.7 260.8M221.6 263L220.1 261L221.2 260.6ZM224.6 254.2L227.3 260.8M228.2 263L226.7 261L227.8 260.6ZM231.2 254.1L233.9 260.8M234.8 263.1L233.4 261.1L234.5 260.6ZM237.9 254.1L240.5 260.8M241.4 263.1L240 261.1L241.1 260.6ZM244.6 254.1L247.2 260.8M248 263.1L246.6 261.1L247.7 260.6ZM251.2 254.1L253.8 260.8M254.7 263.1L253.2 261.1L254.4 260.6ZM257.9 254.1L260.4 260.8M261.3 263.1L259.9 261.1L261 260.6ZM264.5 254.1L267.1 260.8M267.9 263.1L266.5 261.1L267.6 260.6ZM271.2 254.1L273.7 260.9M274.5 263.1L273.1 261.1L274.3 260.6ZM277.9 254.1L280.3 260.9M281.1 263.1L279.8 261.1L280.9 260.6ZM284.5 254.1L287 260.9M287.8 263.1L286.4 261.1L287.5 260.7Z"/>
<circle cx="232.3" cy="223.2" r="4.5" fill="none" stroke="#1a84ba" stroke-width="1.0"/>
<text x="179.3" y="149.7" font-size="7.6" text-anchor="start" font-weight="bold" fill="#000">(d)</text>
<text x="178.5" y="156.3" font-size="6.2" text-anchor="end" >76°N</text>
<text x="178.5" y="209.4" font-size="6.2" text-anchor="end" >75°N</text>
<text x="178.5" y="262.5" font-size="6.2" text-anchor="end" >74°N</text>
<text x="178.6" y="269.7" font-size="6.2" text-anchor="middle" >97°W</text>
<text x="204.9" y="269.7" font-size="6.2" text-anchor="middle" >96°W</text>
<text x="231.3" y="269.7" font-size="6.2" text-anchor="middle" >95°W</text>
<text x="257.6" y="269.7" font-size="6.2" text-anchor="middle" >94°W</text>
<text x="284" y="269.7" font-size="6.2" text-anchor="middle" >93°W</text>
<text x="232.6" y="149.8" font-size="6.3" text-anchor="middle" >850 hPa</text>
<path stroke="#111" fill="#111" stroke-width="0.5" d="M260.3 148.4L262.2 148.4M263.3 148.4L262.2 148.9L262.2 147.9ZM265.6 149.3L265.6 143M265.6 140.8L266.4 143L264.8 143Z"/>
<text x="269.6" y="149.8" font-size="6.3">1 m s<tspan dy="-2.4" font-size="4.4">-1</tspan></text>
<rect x="290.7" y="171.2" width="4.9" height="74.7" fill="url(#gh)" stroke="#2e2e2e" stroke-width="0.5"/>
<path d="M294.4 172.1H295.6" stroke="#2e2e2e" stroke-width="0.45"/>
<text x="298" y="174.2" font-size="6.4" text-anchor="start" >120</text>
<path d="M294.4 184.7H295.6" stroke="#2e2e2e" stroke-width="0.45"/>
<text x="298" y="186.8" font-size="6.4" text-anchor="start" >100</text>
<path d="M294.4 197.3H295.6" stroke="#2e2e2e" stroke-width="0.45"/>
<text x="298" y="199.4" font-size="6.4" text-anchor="start" >80</text>
<path d="M294.4 209.9H295.6" stroke="#2e2e2e" stroke-width="0.45"/>
<text x="298" y="212" font-size="6.4" text-anchor="start" >60</text>
<path d="M294.4 222.5H295.6" stroke="#2e2e2e" stroke-width="0.45"/>
<text x="298" y="224.6" font-size="6.4" text-anchor="start" >40</text>
<path d="M294.4 235.1H295.6" stroke="#2e2e2e" stroke-width="0.45"/>
<text x="298" y="237.2" font-size="6.4" text-anchor="start" >20</text>
<text transform="translate(316 208.6) rotate(-90)" font-size="6.1" text-anchor="middle">FoO DOD &gt; 0.5 [#]</text>
<clipPath id="c5"><rect x="16.2" y="287.9" width="106.6" height="111.5"/></clipPath>
<g clip-path="url(#c5)">
<g filter="url(#bl)"><rect x="16.2" y="287.9" width="106.6" height="111.5" fill="#fff"/><rect x="14" y="285.1" width="10.8" height="9.1" fill="#8c0c08"/><rect x="24.1" y="285.1" width="7.8" height="9.1" fill="#bc1a0e"/><rect x="31.1" y="285.1" width="4.2" height="9.1" fill="#8c0c08"/><rect x="34.7" y="285.1" width="4.2" height="9.1" fill="#bc1a0e"/><rect x="38.2" y="285.1" width="4.2" height="9.1" fill="#8c0c08"/><rect x="41.7" y="285.1" width="4.2" height="9.1" fill="#bc1a0e"/><rect x="45.3" y="285.1" width="4.2" height="9.1" fill="#8c0c08"/><rect x="48.8" y="285.1" width="4.2" height="9.1" fill="#bc1a0e"/><rect x="52.3" y="285.1" width="4.2" height="9.1" fill="#e66a1c"/><rect x="55.9" y="285.1" width="7.8" height="9.1" fill="#f09424"/><rect x="62.9" y="285.1" width="4.2" height="9.1" fill="#d64014"/><rect x="66.5" y="285.1" width="4.2" height="9.1" fill="#8c0c08"/><rect x="70" y="285.1" width="4.2" height="9.1" fill="#bc1a0e"/><rect x="73.5" y="285.1" width="4.2" height="9.1" fill="#e66a1c"/><rect x="77.1" y="285.1" width="4.2" height="9.1" fill="#f09424"/><rect x="80.6" y="285.1" width="4.2" height="9.1" fill="#e66a1c"/><rect x="84.1" y="285.1" width="4.2" height="9.1" fill="#bc1a0e"/><rect x="87.7" y="285.1" width="7.8" height="9.1" fill="#e66a1c"/><rect x="94.7" y="285.1" width="4.2" height="9.1" fill="#bc1a0e"/><rect x="98.3" y="285.1" width="7.8" height="9.1" fill="#e66a1c"/><rect x="105.3" y="285.1" width="4.2" height="9.1" fill="#bc1a0e"/><rect x="108.9" y="285.1" width="4.2" height="9.1" fill="#8c0c08"/><rect x="112.4" y="285.1" width="7.8" height="9.1" fill="#bc1a0e"/><rect x="119.5" y="285.1" width="7.2" height="9.1" fill="#8c0c08"/><rect x="14" y="293.5" width="7.2" height="6.1" fill="#f09424"/><rect x="20.5" y="293.5" width="4.2" height="6.1" fill="#e66a1c"/><rect x="24.1" y="293.5" width="4.2" height="6.1" fill="#f09424"/><rect x="27.6" y="293.5" width="4.2" height="6.1" fill="#e66a1c"/><rect x="31.1" y="293.5" width="4.2" height="6.1" fill="#8c0c08"/><rect x="34.7" y="293.5" width="4.2" height="6.1" fill="#bc1a0e"/><rect x="38.2" y="293.5" width="4.2" height="6.1" fill="#8c0c08"/><rect x="41.7" y="293.5" width="4.2" height="6.1" fill="#bc1a0e"/><rect x="45.3" y="293.5" width="11.3" height="6.1" fill="#e66a1c"/><rect x="55.9" y="293.5" width="7.8" height="6.1" fill="#f09424"/><rect x="62.9" y="293.5" width="4.2" height="6.1" fill="#e66a1c"/><rect x="66.5" y="293.5" width="7.8" height="6.1" fill="#d64014"/><rect x="73.5" y="293.5" width="4.2" height="6.1" fill="#e66a1c"/><rect x="77.1" y="293.5" width="7.8" height="6.1" fill="#d64014"/><rect x="84.1" y="293.5" width="4.2" height="6.1" fill="#e66a1c"/><rect x="87.7" y="293.5" width="4.2" height="6.1" fill="#f09424"/><rect x="91.2" y="293.5" width="11.3" height="6.1" fill="#e66a1c"/><rect x="101.8" y="293.5" width="4.2" height="6.1" fill="#d64014"/><rect x="105.3" y="293.5" width="14.8" height="6.1" fill="#bc1a0e"/><rect x="119.5" y="293.5" width="7.2" height="6.1" fill="#8c0c08"/><rect x="14" y="298.9" width="7.2" height="6.1" fill="#f09424"/><rect x="20.5" y="298.9" width="4.2" height="6.1" fill="#f9bc2e"/><rect x="24.1" y="298.9" width="4.2" height="6.1" fill="#e66a1c"/><rect x="27.6" y="298.9" width="4.2" height="6.1" fill="#bc1a0e"/><rect x="31.1" y="298.9" width="18.4" height="6.1" fill="#e66a1c"/><rect x="48.8" y="298.9" width="4.2" height="6.1" fill="#f09424"/><rect x="52.3" y="298.9" width="4.2" height="6.1" fill="#f9bc2e"/><rect x="55.9" y="298.9" width="4.2" height="6.1" fill="#f09424"/><rect x="59.4" y="298.9" width="4.2" height="6.1" fill="#f9bc2e"/><rect x="62.9" y="298.9" width="7.8" height="6.1" fill="#f09424"/><rect x="70" y="298.9" width="4.2" height="6.1" fill="#e66a1c"/><rect x="73.5" y="298.9" width="4.2" height="6.1" fill="#f09424"/><rect x="77.1" y="298.9" width="4.2" height="6.1" fill="#f9bc2e"/><rect x="80.6" y="298.9" width="4.2" height="6.1" fill="#f09424"/><rect x="84.1" y="298.9" width="7.8" height="6.1" fill="#f9bc2e"/><rect x="91.2" y="298.9" width="7.8" height="6.1" fill="#f09424"/><rect x="98.3" y="298.9" width="7.8" height="6.1" fill="#e66a1c"/><rect x="105.3" y="298.9" width="4.2" height="6.1" fill="#f09424"/><rect x="108.9" y="298.9" width="4.2" height="6.1" fill="#f9bc2e"/><rect x="112.4" y="298.9" width="4.2" height="6.1" fill="#e66a1c"/><rect x="115.9" y="298.9" width="10.8" height="6.1" fill="#f09424"/><rect x="14" y="304.2" width="10.8" height="6.1" fill="#e66a1c"/><rect x="24.1" y="304.2" width="4.2" height="6.1" fill="#8c0c08"/><rect x="27.6" y="304.2" width="4.2" height="6.1" fill="#d64014"/><rect x="31.1" y="304.2" width="4.2" height="6.1" fill="#f9bc2e"/><rect x="34.7" y="304.2" width="11.3" height="6.1" fill="#ffe44c"/><rect x="45.3" y="304.2" width="7.8" height="6.1" fill="#fff3a4"/><rect x="52.3" y="304.2" width="18.4" height="6.1" fill="#ffe44c"/><rect x="70" y="304.2" width="4.2" height="6.1" fill="#f9bc2e"/><rect x="73.5" y="304.2" width="4.2" height="6.1" fill="#f09424"/><rect x="77.1" y="304.2" width="4.2" height="6.1" fill="#f9bc2e"/><rect x="80.6" y="304.2" width="4.2" height="6.1" fill="#ffe44c"/><rect x="84.1" y="304.2" width="4.2" height="6.1" fill="#f9bc2e"/><rect x="87.7" y="304.2" width="4.2" height="6.1" fill="#f09424"/><rect x="91.2" y="304.2" width="4.2" height="6.1" fill="#d64014"/><rect x="94.7" y="304.2" width="4.2" height="6.1" fill="#f09424"/><rect x="98.3" y="304.2" width="7.8" height="6.1" fill="#e66a1c"/><rect x="105.3" y="304.2" width="4.2" height="6.1" fill="#d64014"/><rect x="108.9" y="304.2" width="4.2" height="6.1" fill="#f09424"/><rect x="112.4" y="304.2" width="4.2" height="6.1" fill="#d64014"/><rect x="115.9" y="304.2" width="4.2" height="6.1" fill="#e66a1c"/><rect x="119.5" y="304.2" width="7.2" height="6.1" fill="#f09424"/><rect x="14" y="309.6" width="7.2" height="6.1" fill="#d64014"/><rect x="20.5" y="309.6" width="4.2" height="6.1" fill="#bc1a0e"/><rect x="24.1" y="309.6" width="4.2" height="6.1" fill="#520505"/><rect x="27.6" y="309.6" width="4.2" height="6.1" fill="#d64014"/><rect x="31.1" y="309.6" width="4.2" height="6.1" fill="#bc1a0e"/><rect x="34.7" y="309.6" width="7.8" height="6.1" fill="#8c0c08"/><rect x="41.7" y="309.6" width="7.8" height="6.1" fill="#e66a1c"/><rect x="48.8" y="309.6" width="7.8" height="6.1" fill="#f09424"/><rect x="55.9" y="309.6" width="11.3" height="6.1" fill="#f9bc2e"/><rect x="66.5" y="309.6" width="11.3" height="6.1" fill="#ffe44c"/><rect x="77.1" y="309.6" width="4.2" height="6.1" fill="#f9bc2e"/><rect x="80.6" y="309.6" width="4.2" height="6.1" fill="#f09424"/><rect x="84.1" y="309.6" width="7.8" height="6.1" fill="#ffe44c"/><rect x="91.2" y="309.6" width="4.2" height="6.1" fill="#f09424"/><rect x="94.7" y="309.6" width="4.2" height="6.1" fill="#f9bc2e"/><rect x="98.3" y="309.6" width="4.2" height="6.1" fill="#f09424"/><rect x="101.8" y="309.6" width="4.2" height="6.1" fill="#f9bc2e"/><rect x="105.3" y="309.6" width="4.2" height="6.1" fill="#f09424"/><rect x="108.9" y="309.6" width="4.2" height="6.1" fill="#e66a1c"/><rect x="112.4" y="309.6" width="4.2" height="6.1" fill="#d64014"/><rect x="115.9" y="309.6" width="10.8" height="6.1" fill="#f9bc2e"/><rect x="14" y="315" width="7.2" height="6.1" fill="#e66a1c"/><rect x="20.5" y="315" width="4.2" height="6.1" fill="#d64014"/><rect x="24.1" y="315" width="4.2" height="6.1" fill="#bc1a0e"/><rect x="27.6" y="315" width="7.8" height="6.1" fill="#8c0c08"/><rect x="34.7" y="315" width="4.2" height="6.1" fill="#520505"/><rect x="38.2" y="315" width="4.2" height="6.1" fill="#8c0c08"/><rect x="41.7" y="315" width="4.2" height="6.1" fill="#520505"/><rect x="45.3" y="315" width="4.2" height="6.1" fill="#bc1a0e"/><rect x="48.8" y="315" width="4.2" height="6.1" fill="#e66a1c"/><rect x="52.3" y="315" width="4.2" height="6.1" fill="#f09424"/><rect x="55.9" y="315" width="4.2" height="6.1" fill="#ffe44c"/><rect x="59.4" y="315" width="11.3" height="6.1" fill="#f9bc2e"/><rect x="70" y="315" width="7.8" height="6.1" fill="#f09424"/><rect x="77.1" y="315" width="4.2" height="6.1" fill="#e66a1c"/><rect x="80.6" y="315" width="4.2" height="6.1" fill="#f09424"/><rect x="84.1" y="315" width="4.2" height="6.1" fill="#e66a1c"/><rect x="87.7" y="315" width="7.8" height="6.1" fill="#d64014"/><rect x="94.7" y="315" width="4.2" height="6.1" fill="#f9bc2e"/><rect x="98.3" y="315" width="4.2" height="6.1" fill="#ffe44c"/><rect x="101.8" y="315" width="4.2" height="6.1" fill="#f09424"/><rect x="105.3" y="315" width="4.2" height="6.1" fill="#f9bc2e"/><rect x="108.9" y="315" width="4.2" height="6.1" fill="#ffe44c"/><rect x="112.4" y="315" width="14.3" height="6.1" fill="#e66a1c"/><rect x="14" y="320.4" width="7.2" height="6.1" fill="#f9bc2e"/><rect x="20.5" y="320.4" width="4.2" height="6.1" fill="#f09424"/><rect x="24.1" y="320.4" width="4.2" height="6.1" fill="#520505"/><rect x="27.6" y="320.4" width="4.2" height="6.1" fill="#bc1a0e"/><rect x="31.1" y="320.4" width="7.8" height="6.1" fill="#e66a1c"/><rect x="38.2" y="320.4" width="7.8" height="6.1" fill="#bc1a0e"/><rect x="45.3" y="320.4" width="4.2" height="6.1" fill="#d64014"/><rect x="48.8" y="320.4" width="18.4" height="6.1" fill="#f09424"/><rect x="66.5" y="320.4" width="11.3" height="6.1" fill="#f9bc2e"/><rect x="77.1" y="320.4" width="4.2" height="6.1" fill="#f09424"/><rect x="80.6" y="320.4" width="4.2" height="6.1" fill="#f9bc2e"/><rect x="84.1" y="320.4" width="4.2" height="6.1" fill="#f09424"/><rect x="87.7" y="320.4" width="7.8" height="6.1" fill="#e66a1c"/><rect x="94.7" y="320.4" width="7.8" height="6.1" fill="#f09424"/><rect x="101.8" y="320.4" width="7.8" height="6.1" fill="#f9bc2e"/><rect x="108.9" y="320.4" width="4.2" height="6.1" fill="#f09424"/><rect x="112.4" y="320.4" width="7.8" height="6.1" fill="#e66a1c"/><rect x="119.5" y="320.4" width="7.2" height="6.1" fill="#d64014"/><rect x="14" y="325.8" width="7.2" height="6.1" fill="#fff3a4"/><rect x="20.5" y="325.8" width="7.8" height="6.1" fill="#f09424"/><rect x="27.6" y="325.8" width="7.8" height="6.1" fill="#f9bc2e"/><rect x="34.7" y="325.8" width="4.2" height="6.1" fill="#f09424"/><rect x="38.2" y="325.8" width="4.2" height="6.1" fill="#f9bc2e"/><rect x="41.7" y="325.8" width="4.2" height="6.1" fill="#f09424"/><rect x="45.3" y="325.8" width="11.3" height="6.1" fill="#f9bc2e"/><rect x="55.9" y="325.8" width="4.2" height="6.1" fill="#f09424"/><rect x="59.4" y="325.8" width="4.2" height="6.1" fill="#e66a1c"/><rect x="62.9" y="325.8" width="4.2" height="6.1" fill="#f09424"/><rect x="66.5" y="325.8" width="4.2" height="6.1" fill="#f9bc2e"/><rect x="70" y="325.8" width="7.8" height="6.1" fill="#ffe44c"/><rect x="77.1" y="325.8" width="4.2" height="6.1" fill="#f9bc2e"/><rect x="80.6" y="325.8" width="4.2" height="6.1" fill="#ffe44c"/><rect x="84.1" y="325.8" width="4.2" height="6.1" fill="#f09424"/><rect x="87.7" y="325.8" width="4.2" height="6.1" fill="#f9bc2e"/><rect x="91.2" y="325.8" width="4.2" height="6.1" fill="#ffe44c"/><rect x="94.7" y="325.8" width="4.2" height="6.1" fill="#f09424"/><rect x="98.3" y="325.8" width="4.2" height="6.1" fill="#f9bc2e"/><rect x="101.8" y="325.8" width="4.2" height="6.1" fill="#f09424"/><rect x="105.3" y="325.8" width="4.2" height="6.1" fill="#f9bc2e"/><rect x="108.9" y="325.8" width="7.8" height="6.1" fill="#f09424"/><rect x="115.9" y="325.8" width="4.2" height="6.1" fill="#f9bc2e"/><rect x="119.5" y="325.8" width="7.2" height="6.1" fill="#ffe44c"/><rect x="14" y="331.1" width="24.9" height="6.1" fill="#ffffff"/><rect x="38.2" y="331.1" width="4.2" height="6.1" fill="#fff3a4"/><rect x="41.7" y="331.1" width="7.8" height="6.1" fill="#ffe44c"/><rect x="48.8" y="331.1" width="4.2" height="6.1" fill="#f9bc2e"/><rect x="52.3" y="331.1" width="4.2" height="6.1" fill="#ffe44c"/><rect x="55.9" y="331.1" width="4.2" height="6.1" fill="#f9bc2e"/><rect x="59.4" y="331.1" width="4.2" height="6.1" fill="#d64014"/><rect x="62.9" y="331.1" width="4.2" height="6.1" fill="#e66a1c"/><rect x="66.5" y="331.1" width="11.3" height="6.1" fill="#f09424"/><rect x="77.1" y="331.1" width="4.2" height="6.1" fill="#e66a1c"/><rect x="80.6" y="331.1" width="4.2" height="6.1" fill="#f09424"/><rect x="84.1" y="331.1" width="7.8" height="6.1" fill="#e66a1c"/><rect x="91.2" y="331.1" width="4.2" height="6.1" fill="#d64014"/><rect x="94.7" y="331.1" width="4.2" height="6.1" fill="#e66a1c"/><rect x="98.3" y="331.1" width="7.8" height="6.1" fill="#f09424"/><rect x="105.3" y="331.1" width="4.2" height="6.1" fill="#f9bc2e"/><rect x="108.9" y="331.1" width="4.2" height="6.1" fill="#f09424"/><rect x="112.4" y="331.1" width="14.3" height="6.1" fill="#e66a1c"/><rect x="14" y="336.5" width="14.3" height="6.1" fill="#dadada"/><rect x="27.6" y="336.5" width="18.4" height="6.1" fill="#ffffff"/><rect x="45.3" y="336.5" width="7.8" height="6.1" fill="#fff3a4"/><rect x="52.3" y="336.5" width="4.2" height="6.1" fill="#ffe44c"/><rect x="55.9" y="336.5" width="4.2" height="6.1" fill="#f9bc2e"/><rect x="59.4" y="336.5" width="4.2" height="6.1" fill="#f09424"/><rect x="62.9" y="336.5" width="4.2" height="6.1" fill="#8c0c08"/><rect x="66.5" y="336.5" width="7.8" height="6.1" fill="#d64014"/><rect x="73.5" y="336.5" width="4.2" height="6.1" fill="#e66a1c"/><rect x="77.1" y="336.5" width="4.2" height="6.1" fill="#d64014"/><rect x="80.6" y="336.5" width="7.8" height="6.1" fill="#e66a1c"/><rect x="87.7" y="336.5" width="7.8" height="6.1" fill="#ffe44c"/><rect x="94.7" y="336.5" width="7.8" height="6.1" fill="#f09424"/><rect x="101.8" y="336.5" width="7.8" height="6.1" fill="#ffe44c"/><rect x="108.9" y="336.5" width="4.2" height="6.1" fill="#f9bc2e"/><rect x="112.4" y="336.5" width="4.2" height="6.1" fill="#e66a1c"/><rect x="115.9" y="336.5" width="10.8" height="6.1" fill="#d64014"/><rect x="14" y="341.9" width="32" height="6.1" fill="#dadada"/><rect x="45.3" y="341.9" width="7.8" height="6.1" fill="#ffffff"/><rect x="52.3" y="341.9" width="4.2" height="6.1" fill="#ffe44c"/><rect x="55.9" y="341.9" width="4.2" height="6.1" fill="#f09424"/><rect x="59.4" y="341.9" width="4.2" height="6.1" fill="#e66a1c"/><rect x="62.9" y="341.9" width="4.2" height="6.1" fill="#f09424"/><rect x="66.5" y="341.9" width="7.8" height="6.1" fill="#f9bc2e"/><rect x="73.5" y="341.9" width="4.2" height="6.1" fill="#f09424"/><rect x="77.1" y="341.9" width="7.8" height="6.1" fill="#bc1a0e"/><rect x="84.1" y="341.9" width="7.8" height="6.1" fill="#f09424"/><rect x="91.2" y="341.9" width="4.2" height="6.1" fill="#d64014"/><rect x="94.7" y="341.9" width="4.2" height="6.1" fill="#f9bc2e"/><rect x="98.3" y="341.9" width="4.2" height="6.1" fill="#f09424"/><rect x="101.8" y="341.9" width="4.2" height="6.1" fill="#d64014"/><rect x="105.3" y="341.9" width="4.2" height="6.1" fill="#f09424"/><rect x="108.9" y="341.9" width="4.2" height="6.1" fill="#ffe44c"/><rect x="112.4" y="341.9" width="7.8" height="6.1" fill="#f09424"/><rect x="119.5" y="341.9" width="7.2" height="6.1" fill="#e66a1c"/><rect x="14" y="347.3" width="32" height="6.1" fill="#dadada"/><rect x="45.3" y="347.3" width="14.8" height="6.1" fill="#ffffff"/><rect x="59.4" y="347.3" width="7.8" height="6.1" fill="#fff3a4"/><rect x="66.5" y="347.3" width="14.8" height="6.1" fill="#ffe44c"/><rect x="80.6" y="347.3" width="4.2" height="6.1" fill="#fff3a4"/><rect x="84.1" y="347.3" width="4.2" height="6.1" fill="#f9bc2e"/><rect x="87.7" y="347.3" width="7.8" height="6.1" fill="#ffe44c"/><rect x="94.7" y="347.3" width="7.8" height="6.1" fill="#f9bc2e"/><rect x="101.8" y="347.3" width="4.2" height="6.1" fill="#f09424"/><rect x="105.3" y="347.3" width="4.2" height="6.1" fill="#f9bc2e"/><rect x="108.9" y="347.3" width="4.2" height="6.1" fill="#ffe44c"/><rect x="112.4" y="347.3" width="4.2" height="6.1" fill="#e66a1c"/><rect x="115.9" y="347.3" width="4.2" height="6.1" fill="#d64014"/><rect x="119.5" y="347.3" width="7.2" height="6.1" fill="#f9bc2e"/><rect x="14" y="352.7" width="46.1" height="6.1" fill="#dadada"/><rect x="59.4" y="352.7" width="7.8" height="6.1" fill="#ffffff"/><rect x="66.5" y="352.7" width="7.8" height="6.1" fill="#fff3a4"/><rect x="73.5" y="352.7" width="4.2" height="6.1" fill="#f9bc2e"/><rect x="77.1" y="352.7" width="4.2" height="6.1" fill="#ffe44c"/><rect x="80.6" y="352.7" width="4.2" height="6.1" fill="#fff3a4"/><rect x="84.1" y="352.7" width="4.2" height="6.1" fill="#f9bc2e"/><rect x="87.7" y="352.7" width="4.2" height="6.1" fill="#ffe44c"/><rect x="91.2" y="352.7" width="4.2" height="6.1" fill="#f9bc2e"/><rect x="94.7" y="352.7" width="4.2" height="6.1" fill="#f09424"/><rect x="98.3" y="352.7" width="4.2" height="6.1" fill="#d64014"/><rect x="101.8" y="352.7" width="4.2" height="6.1" fill="#f09424"/><rect x="105.3" y="352.7" width="7.8" height="6.1" fill="#f9bc2e"/><rect x="112.4" y="352.7" width="4.2" height="6.1" fill="#f09424"/><rect x="115.9" y="352.7" width="4.2" height="6.1" fill="#e66a1c"/><rect x="119.5" y="352.7" width="7.2" height="6.1" fill="#f9bc2e"/><rect x="14" y="358" width="46.1" height="6.1" fill="#dadada"/><rect x="59.4" y="358" width="14.8" height="6.1" fill="#ffffff"/><rect x="73.5" y="358" width="11.3" height="6.1" fill="#fff3a4"/><rect x="84.1" y="358" width="4.2" height="6.1" fill="#ffe44c"/><rect x="87.7" y="358" width="4.2" height="6.1" fill="#fff3a4"/><rect x="91.2" y="358" width="4.2" height="6.1" fill="#ffe44c"/><rect x="94.7" y="358" width="14.8" height="6.1" fill="#f09424"/><rect x="108.9" y="358" width="7.8" height="6.1" fill="#f9bc2e"/><rect x="115.9" y="358" width="10.8" height="6.1" fill="#ffe44c"/><rect x="14" y="363.4" width="60.2" height="6.1" fill="#dadada"/><rect x="73.5" y="363.4" width="7.8" height="6.1" fill="#ffffff"/><rect x="80.6" y="363.4" width="4.2" height="6.1" fill="#fff3a4"/><rect x="84.1" y="363.4" width="7.8" height="6.1" fill="#ffe44c"/><rect x="91.2" y="363.4" width="4.2" height="6.1" fill="#f9bc2e"/><rect x="94.7" y="363.4" width="7.8" height="6.1" fill="#f09424"/><rect x="101.8" y="363.4" width="4.2" height="6.1" fill="#f9bc2e"/><rect x="105.3" y="363.4" width="4.2" height="6.1" fill="#f09424"/><rect x="108.9" y="363.4" width="4.2" height="6.1" fill="#d64014"/><rect x="112.4" y="363.4" width="4.2" height="6.1" fill="#f9bc2e"/><rect x="115.9" y="363.4" width="10.8" height="6.1" fill="#ffe44c"/><rect x="14" y="368.8" width="63.8" height="6.1" fill="#dadada"/><rect x="77.1" y="368.8" width="4.2" height="6.1" fill="#ffffff"/><rect x="80.6" y="368.8" width="7.8" height="6.1" fill="#ffe44c"/><rect x="87.7" y="368.8" width="7.8" height="6.1" fill="#f09424"/><rect x="94.7" y="368.8" width="4.2" height="6.1" fill="#ffe44c"/><rect x="98.3" y="368.8" width="7.8" height="6.1" fill="#f9bc2e"/><rect x="105.3" y="368.8" width="7.8" height="6.1" fill="#e66a1c"/><rect x="112.4" y="368.8" width="7.8" height="6.1" fill="#f9bc2e"/><rect x="119.5" y="368.8" width="7.2" height="6.1" fill="#ffe44c"/><rect x="14" y="374.2" width="63.8" height="6.1" fill="#dadada"/><rect x="77.1" y="374.2" width="7.8" height="6.1" fill="#ffffff"/><rect x="84.1" y="374.2" width="7.8" height="6.1" fill="#fff3a4"/><rect x="91.2" y="374.2" width="7.8" height="6.1" fill="#ffe44c"/><rect x="98.3" y="374.2" width="4.2" height="6.1" fill="#f9bc2e"/><rect x="101.8" y="374.2" width="4.2" height="6.1" fill="#ffe44c"/><rect x="105.3" y="374.2" width="4.2" height="6.1" fill="#bc1a0e"/><rect x="108.9" y="374.2" width="4.2" height="6.1" fill="#d64014"/><rect x="112.4" y="374.2" width="4.2" height="6.1" fill="#f09424"/><rect x="115.9" y="374.2" width="10.8" height="6.1" fill="#ffe44c"/><rect x="14" y="379.6" width="70.8" height="6.1" fill="#dadada"/><rect x="84.1" y="379.6" width="4.2" height="6.1" fill="#fff3a4"/><rect x="87.7" y="379.6" width="4.2" height="6.1" fill="#fffef2"/><rect x="91.2" y="379.6" width="4.2" height="6.1" fill="#fff3a4"/><rect x="94.7" y="379.6" width="11.3" height="6.1" fill="#ffe44c"/><rect x="105.3" y="379.6" width="7.8" height="6.1" fill="#f09424"/><rect x="112.4" y="379.6" width="4.2" height="6.1" fill="#f9bc2e"/><rect x="115.9" y="379.6" width="4.2" height="6.1" fill="#fff3a4"/><rect x="119.5" y="379.6" width="7.2" height="6.1" fill="#ffe44c"/><rect x="14" y="384.9" width="63.8" height="6.1" fill="#dadada"/><rect x="77.1" y="384.9" width="7.8" height="6.1" fill="#ffffff"/><rect x="84.1" y="384.9" width="4.2" height="6.1" fill="#ffe44c"/><rect x="87.7" y="384.9" width="7.8" height="6.1" fill="#fff3a4"/><rect x="94.7" y="384.9" width="4.2" height="6.1" fill="#ffe44c"/><rect x="98.3" y="384.9" width="4.2" height="6.1" fill="#fff3a4"/><rect x="101.8" y="384.9" width="7.8" height="6.1" fill="#ffe44c"/><rect x="108.9" y="384.9" width="11.3" height="6.1" fill="#fff3a4"/><rect x="119.5" y="384.9" width="7.2" height="6.1" fill="#ffe44c"/><rect x="14" y="390.3" width="56.7" height="6.1" fill="#dadada"/><rect x="70" y="390.3" width="11.3" height="6.1" fill="#ffffff"/><rect x="80.6" y="390.3" width="11.3" height="6.1" fill="#fff3a4"/><rect x="91.2" y="390.3" width="4.2" height="6.1" fill="#ffe44c"/><rect x="94.7" y="390.3" width="11.3" height="6.1" fill="#fff3a4"/><rect x="105.3" y="390.3" width="7.8" height="6.1" fill="#ffe44c"/><rect x="112.4" y="390.3" width="7.8" height="6.1" fill="#fff3a4"/><rect x="119.5" y="390.3" width="7.2" height="6.1" fill="#ffe44c"/><rect x="14" y="395.7" width="10.8" height="7.4" fill="#ffffff"/><rect x="24.1" y="395.7" width="46.6" height="7.4" fill="#dadada"/><rect x="70" y="395.7" width="7.8" height="7.4" fill="#ffffff"/><rect x="77.1" y="395.7" width="7.8" height="7.4" fill="#dadada"/><rect x="84.1" y="395.7" width="14.8" height="7.4" fill="#ffffff"/><rect x="98.3" y="395.7" width="4.2" height="7.4" fill="#fff3a4"/><rect x="101.8" y="395.7" width="24.9" height="7.4" fill="#ffffff"/></g>
</g>
<g stroke="#333" stroke-width="0.35" stroke-opacity="0.5"><path d="M16.8 287.9V399.4"/><path d="M52 287.9V399.4"/><path d="M87.3 287.9V399.4"/><path d="M122.4 287.9V399.4"/><path d="M16.2 289.3H122.8"/><path d="M16.2 342.3H122.8"/><path d="M16.2 394.7H122.8"/></g>
<rect x="16.2" y="287.9" width="106.6" height="111.5" fill="none" stroke="#2e2e2e" stroke-width="0.7"/>
<g fill="none" stroke="#1a1a1a" stroke-width="0.5" stroke-opacity="0.9" stroke-linejoin="round" transform="translate(16.2 287.9)">
<path d="M8 110.8L11 109.5L13.5 106.5L15.3 104L17 106.3L18.3 108.5L20.2 106.2L22 108.6L24 110.8"/>
<path d="M12.5 110.8L14.5 108.5L16.5 110"/>
</g>
<path clip-path="url(#c5)" stroke="#1c1c1c" fill="#1c1c1c" stroke-width="0.34" stroke-linejoin="miter" d="M14.7 291.7L16.8 289.7M18.1 288.5L17.1 290L16.5 289.4ZM23.5 291.7L25.6 289.7M26.9 288.5L25.9 290L25.3 289.4ZM32.2 291.7L34.4 289.7M35.7 288.5L34.7 290L34.1 289.4ZM41 291.7L43.2 289.7M44.5 288.5L43.5 290L42.9 289.4ZM49.8 291.7L51.9 289.7M53.2 288.5L52.2 290L51.6 289.4ZM58.6 291.7L60.7 289.7M62 288.5L61 290L60.4 289.4ZM67.4 291.7L69.5 289.7M70.8 288.5L69.8 290L69.2 289.4ZM76.1 291.7L78.3 289.7M79.6 288.5L78.6 290L78 289.4ZM84.9 291.7L87.1 289.7M88.4 288.5L87.4 290L86.8 289.4ZM93.7 291.7L95.8 289.7M97.1 288.5L96.1 290L95.5 289.4ZM102.5 291.7L104.6 289.7M105.9 288.5L104.9 290L104.3 289.4ZM111.3 291.7L113.4 289.7M114.7 288.5L113.7 290L113.1 289.4ZM120 291.7L122.2 289.7M123.5 288.5L122.5 290L121.9 289.4ZM14.6 303.1L16.8 300.9M18.2 299.5L17.2 301.2L16.5 300.5ZM23.4 303.1L25.6 300.9M27 299.5L25.9 301.2L25.3 300.5ZM32.2 303.1L34.4 300.9M35.7 299.5L34.7 301.2L34 300.5ZM41 303.1L43.2 300.9M44.5 299.5L43.5 301.2L42.8 300.5ZM49.7 303.1L51.9 300.9M53.3 299.5L52.3 301.2L51.6 300.5ZM58.5 303.1L60.7 300.9M62.1 299.5L61.1 301.2L60.4 300.5ZM67.3 303.1L69.5 300.9M70.9 299.5L69.8 301.2L69.2 300.5ZM76.1 303.1L78.3 300.9M79.6 299.5L78.6 301.2L77.9 300.5ZM84.9 303.1L87.1 300.9M88.4 299.5L87.4 301.2L86.7 300.5ZM93.6 303.1L95.8 300.9M97.2 299.5L96.2 301.2L95.5 300.5ZM102.4 303.1L104.6 300.9M106 299.5L105 301.2L104.3 300.5ZM111.2 303.1L113.4 300.9M114.8 299.5L113.7 301.2L113.1 300.5ZM120 303.1L122.2 300.9M123.5 299.5L122.5 301.2L121.8 300.5ZM14.6 314.5L16.8 312M18.2 310.5L17.2 312.4L16.5 311.7ZM23.4 314.5L25.6 312M27 310.5L26 312.4L25.2 311.7ZM32.1 314.5L34.4 312M35.8 310.5L34.8 312.4L34 311.7ZM40.9 314.5L43.2 312M44.6 310.5L43.6 312.4L42.8 311.7ZM49.7 314.5L52 312M53.3 310.5L52.3 312.4L51.6 311.7ZM58.5 314.5L60.7 312M62.1 310.5L61.1 312.4L60.4 311.7ZM67.3 314.5L69.5 312M70.9 310.5L69.9 312.4L69.1 311.7ZM76 314.5L78.3 312M79.7 310.5L78.7 312.4L77.9 311.7ZM84.8 314.5L87.1 312M88.5 310.5L87.5 312.4L86.7 311.7ZM93.6 314.5L95.9 312M97.2 310.5L96.2 312.4L95.5 311.7ZM102.4 314.5L104.6 312M106 310.5L105 312.4L104.3 311.7ZM111.2 314.5L113.4 312M114.8 310.5L113.8 312.4L113 311.7ZM119.9 314.5L122.2 312M123.6 310.5L122.6 312.4L121.8 311.7ZM14.5 325.9L16.8 323.2M18.3 321.5L17.3 323.5L16.4 322.8ZM23.3 325.9L25.6 323.2M27 321.5L26.1 323.5L25.2 322.8ZM32.1 325.9L34.4 323.2M35.8 321.5L34.8 323.5L34 322.8ZM40.9 325.9L43.2 323.2M44.6 321.5L43.6 323.5L42.8 322.8ZM49.7 325.9L52 323.2M53.4 321.5L52.4 323.5L51.5 322.8ZM58.4 325.9L60.7 323.2M62.2 321.5L61.2 323.5L60.3 322.8ZM67.2 325.9L69.5 323.2M70.9 321.5L70 323.5L69.1 322.8ZM76 325.9L78.3 323.2M79.7 321.5L78.7 323.5L77.9 322.8ZM84.8 325.9L87.1 323.2M88.5 321.5L87.5 323.5L86.7 322.8ZM93.6 325.9L95.9 323.2M97.3 321.5L96.3 323.5L95.4 322.8ZM102.3 325.9L104.6 323.2M106.1 321.5L105.1 323.5L104.2 322.8ZM111.1 325.9L113.4 323.2M114.8 321.5L113.9 323.5L113 322.8ZM119.9 325.9L122.2 323.2M123.6 321.5L122.6 323.5L121.8 322.8ZM14.5 337.4L16.8 334.3M18.3 332.4L17.3 334.7L16.4 334ZM23.3 337.4L25.6 334.3M27 332.4L26.1 334.7L25.2 334ZM32.1 337.4L34.4 334.3M35.8 332.4L34.9 334.7L33.9 334ZM40.9 337.4L43.2 334.3M44.6 332.4L43.7 334.7L42.7 334ZM49.7 337.4L52 334.3M53.4 332.4L52.4 334.7L51.5 334ZM58.4 337.4L60.7 334.3M62.2 332.4L61.2 334.7L60.3 334ZM67.2 337.4L69.5 334.3M70.9 332.4L70 334.7L69.1 334ZM76 337.4L78.3 334.3M79.7 332.4L78.8 334.7L77.8 334ZM84.8 337.4L87.1 334.3M88.5 332.4L87.6 334.7L86.6 334ZM93.6 337.4L95.9 334.3M97.3 332.4L96.3 334.7L95.4 334ZM102.3 337.4L104.6 334.3M106.1 332.4L105.1 334.7L104.2 334ZM111.1 337.4L113.4 334.3M114.8 332.4L113.9 334.7L113 334ZM119.9 337.4L122.2 334.3M123.6 332.4L122.7 334.7L121.7 334ZM14.5 348.8L16.9 345.4M18.3 343.4L17.4 345.7L16.4 345ZM23.3 348.8L25.7 345.4M27 343.4L26.2 345.7L25.2 345ZM32.1 348.8L34.5 345.4M35.8 343.4L35 345.7L34 345ZM40.9 348.8L43.2 345.4M44.6 343.4L43.7 345.7L42.7 345ZM49.7 348.8L52 345.4M53.4 343.4L52.5 345.7L51.5 345ZM58.4 348.8L60.8 345.4M62.2 343.4L61.3 345.7L60.3 345ZM67.2 348.8L69.6 345.4M70.9 343.4L70.1 345.7L69.1 345ZM76 348.8L78.4 345.4M79.7 343.4L78.9 345.7L77.9 345ZM84.8 348.8L87.1 345.4M88.5 343.4L87.6 345.7L86.6 345ZM93.6 348.8L95.9 345.4M97.3 343.4L96.4 345.7L95.4 345ZM102.3 348.8L104.7 345.4M106.1 343.4L105.2 345.7L104.2 345ZM111.1 348.8L113.5 345.4M114.8 343.4L114 345.7L113 345ZM119.9 348.8L122.3 345.4M123.6 343.4L122.8 345.7L121.8 345ZM14.6 360.3L17 356.4M18.2 354.3L17.5 356.7L16.5 356.1ZM23.3 360.3L25.8 356.4M27 354.3L26.3 356.7L25.2 356.1ZM32.1 360.3L34.5 356.4M35.8 354.3L35 356.7L34 356.1ZM40.9 360.3L43.3 356.4M44.6 354.3L43.8 356.7L42.8 356.1ZM49.7 360.3L52.1 356.4M53.4 354.3L52.6 356.7L51.6 356.1ZM58.5 360.3L60.9 356.4M62.1 354.3L61.4 356.7L60.4 356.1ZM67.2 360.3L69.7 356.4M70.9 354.3L70.2 356.7L69.1 356.1ZM76 360.3L78.4 356.4M79.7 354.3L78.9 356.7L77.9 356.1ZM84.8 360.3L87.2 356.4M88.5 354.3L87.7 356.7L86.7 356.1ZM93.6 360.3L96 356.4M97.3 354.3L96.5 356.7L95.5 356.1ZM102.4 360.3L104.8 356.4M106 354.3L105.3 356.7L104.3 356.1ZM111.1 360.3L113.6 356.4M114.8 354.3L114.1 356.7L113 356.1ZM119.9 360.3L122.3 356.4M123.6 354.3L122.8 356.7L121.8 356.1ZM14.6 371.7L17 367.4M18.2 365.3L17.5 367.7L16.5 367.1ZM23.4 371.7L25.8 367.4M27 365.3L26.3 367.7L25.3 367.1ZM32.2 371.7L34.6 367.4M35.8 365.3L35.1 367.7L34.1 367.1ZM40.9 371.7L43.4 367.4M44.5 365.3L43.9 367.7L42.8 367.1ZM49.7 371.7L52.1 367.4M53.3 365.3L52.7 367.7L51.6 367.1ZM58.5 371.7L60.9 367.4M62.1 365.3L61.4 367.7L60.4 367.1ZM67.3 371.7L69.7 367.4M70.9 365.3L70.2 367.7L69.2 367.1ZM76.1 371.7L78.5 367.4M79.7 365.3L79 367.7L78 367.1ZM84.8 371.7L87.3 367.4M88.4 365.3L87.8 367.7L86.7 367.1ZM93.6 371.7L96 367.4M97.2 365.3L96.6 367.7L95.5 367.1ZM102.4 371.7L104.8 367.4M106 365.3L105.3 367.7L104.3 367.1ZM111.2 371.7L113.6 367.4M114.8 365.3L114.1 367.7L113.1 367.1ZM120 371.7L122.4 367.4M123.6 365.3L122.9 367.7L121.9 367.1ZM14.7 383.2L17.1 378.4M18.1 376.2L17.6 378.7L16.5 378.1ZM23.5 383.2L25.8 378.4M26.9 376.2L26.4 378.7L25.3 378.1ZM32.2 383.2L34.6 378.4M35.7 376.2L35.2 378.7L34.1 378.1ZM41 383.2L43.4 378.4M44.5 376.2L43.9 378.7L42.9 378.1ZM49.8 383.2L52.2 378.4M53.2 376.2L52.7 378.7L51.6 378.1ZM58.6 383.2L61 378.4M62 376.2L61.5 378.7L60.4 378.1ZM67.4 383.2L69.7 378.4M70.8 376.2L70.3 378.7L69.2 378.1ZM76.1 383.2L78.5 378.4M79.6 376.2L79.1 378.7L78 378.1ZM84.9 383.2L87.3 378.4M88.4 376.2L87.8 378.7L86.8 378.1ZM93.7 383.2L96.1 378.4M97.1 376.2L96.6 378.7L95.5 378.1ZM102.5 383.2L104.9 378.4M105.9 376.2L105.4 378.7L104.3 378.1ZM111.3 383.2L113.6 378.4M114.7 376.2L114.2 378.7L113.1 378.1ZM120 383.2L122.4 378.4M123.5 376.2L123 378.7L121.9 378.1ZM14.8 394.6L17.1 389.4M18 387.2L17.6 389.6L16.5 389.1ZM23.5 394.6L25.9 389.4M26.8 387.2L26.4 389.6L25.3 389.1ZM32.3 394.6L34.6 389.4M35.6 387.2L35.2 389.6L34.1 389.1ZM41.1 394.6L43.4 389.4M44.4 387.2L44 389.6L42.9 389.1ZM49.9 394.6L52.2 389.4M53.2 387.2L52.7 389.6L51.6 389.1ZM58.7 394.6L61 389.4M61.9 387.2L61.5 389.6L60.4 389.1ZM67.4 394.6L69.8 389.4M70.7 387.2L70.3 389.6L69.2 389.1ZM76.2 394.6L78.5 389.4M79.5 387.2L79.1 389.6L78 389.1ZM85 394.6L87.3 389.4M88.3 387.2L87.9 389.6L86.8 389.1ZM93.8 394.6L96.1 389.4M97.1 387.2L96.6 389.6L95.5 389.1ZM102.6 394.6L104.9 389.4M105.8 387.2L105.4 389.6L104.3 389.1ZM111.3 394.6L113.7 389.4M114.6 387.2L114.2 389.6L113.1 389.1ZM120.1 394.6L122.4 389.4M123.4 387.2L123 389.6L121.9 389.1Z"/>
<circle cx="72.3" cy="341" r="4.5" fill="none" stroke="#1a84ba" stroke-width="1.0"/>
<text x="16.3" y="285.3" font-size="7.6" text-anchor="start" font-weight="bold" fill="#000">(e)</text>
<text x="15.8" y="291.3" font-size="6.2" text-anchor="end" >62°N</text>
<text x="15.8" y="344.3" font-size="6.2" text-anchor="end" >61°N</text>
<text x="15.8" y="396.7" font-size="6.2" text-anchor="end" >60°N</text>
<text x="17.6" y="405.4" font-size="6.2" text-anchor="middle" >140°W</text>
<text x="52.8" y="405.4" font-size="6.2" text-anchor="middle" >139°W</text>
<text x="87.9" y="405.4" font-size="6.2" text-anchor="middle" >138°W</text>
<text x="123" y="405.4" font-size="6.2" text-anchor="middle" >137°W</text>
<text x="70.3" y="285.7" font-size="6.3" text-anchor="middle" >700 hPa</text>
<path stroke="#111" fill="#111" stroke-width="0.5" d="M93.6 284.2L95.6 284.2M96.8 284.2L95.6 284.7L95.6 283.7ZM102.1 284.8L102.1 281.3M102.1 279.2L102.9 281.3L101.3 281.3Z"/>
<text x="106.2" y="285.7" font-size="6.3">1 m s<tspan dy="-2.4" font-size="4.4">-1</tspan></text>
<rect x="129.1" y="306.8" width="4.9" height="74.7" fill="url(#gh)" stroke="#2e2e2e" stroke-width="0.5"/>
<path d="M132.8 307.7H134" stroke="#2e2e2e" stroke-width="0.45"/>
<text x="136.4" y="309.8" font-size="6.4" text-anchor="start" >25</text>
<path d="M132.8 324.4H134" stroke="#2e2e2e" stroke-width="0.45"/>
<text x="136.4" y="326.5" font-size="6.4" text-anchor="start" >20</text>
<path d="M132.8 341.1H134" stroke="#2e2e2e" stroke-width="0.45"/>
<text x="136.4" y="343.2" font-size="6.4" text-anchor="start" >15</text>
<path d="M132.8 357.8H134" stroke="#2e2e2e" stroke-width="0.45"/>
<text x="136.4" y="359.9" font-size="6.4" text-anchor="start" >10</text>
<path d="M132.8 374.5H134" stroke="#2e2e2e" stroke-width="0.45"/>
<text x="136.4" y="376.6" font-size="6.4" text-anchor="start" >5</text>
<text transform="translate(151 344.1) rotate(-90)" font-size="6.1" text-anchor="middle">FoO DOD &gt; 0.5 [#]</text>
<clipPath id="c6"><rect x="179.1" y="287.9" width="106.5" height="111.5"/></clipPath>
<g clip-path="url(#c6)">
<g filter="url(#bl)"><rect x="179.1" y="287.9" width="106.5" height="111.5" fill="#fff"/><rect x="180" y="288.6" width="54.2" height="3.7" fill="#ffffff"/><rect x="233.5" y="288.6" width="16.8" height="3.7" fill="#fff3a4"/><rect x="249.6" y="288.6" width="38.1" height="3.7" fill="#ffffff"/><rect x="180" y="291.6" width="6" height="3" fill="#ffffff"/><rect x="185.3" y="291.6" width="43.5" height="3" fill="#dadada"/><rect x="228.2" y="291.6" width="6" height="3" fill="#ffffff"/><rect x="233.5" y="291.6" width="16.8" height="3" fill="#fff3a4"/><rect x="249.6" y="291.6" width="38.1" height="3" fill="#ffffff"/><rect x="180" y="293.9" width="6" height="6" fill="#ffffff"/><rect x="185.3" y="293.9" width="43.5" height="6" fill="#dadada"/><rect x="228.2" y="293.9" width="6" height="6" fill="#ffffff"/><rect x="233.5" y="293.9" width="6" height="6" fill="#fff3a4"/><rect x="238.8" y="293.9" width="6" height="6" fill="#ffe44c"/><rect x="244.2" y="293.9" width="6.1" height="6" fill="#fff3a4"/><rect x="249.6" y="293.9" width="6" height="6" fill="#ffffff"/><rect x="254.9" y="293.9" width="27.4" height="6" fill="#dadada"/><rect x="281.6" y="293.9" width="6.1" height="6" fill="#ffffff"/><rect x="180" y="299.3" width="22.1" height="6" fill="#ffffff"/><rect x="201.4" y="299.3" width="27.4" height="6" fill="#dadada"/><rect x="228.2" y="299.3" width="6" height="6" fill="#ffffff"/><rect x="233.5" y="299.3" width="6" height="6" fill="#fff3a4"/><rect x="238.8" y="299.3" width="6" height="6" fill="#ffe44c"/><rect x="244.2" y="299.3" width="6.1" height="6" fill="#fff3a4"/><rect x="249.6" y="299.3" width="11.4" height="6" fill="#ffffff"/><rect x="260.2" y="299.3" width="22.1" height="6" fill="#dadada"/><rect x="281.6" y="299.3" width="6.1" height="6" fill="#ffffff"/><rect x="180" y="304.6" width="75.6" height="6" fill="#ffffff"/><rect x="254.9" y="304.6" width="27.4" height="6" fill="#dadada"/><rect x="281.6" y="304.6" width="6.1" height="6" fill="#ffffff"/><rect x="180" y="309.9" width="6" height="6" fill="#fffef2"/><rect x="185.3" y="309.9" width="11.4" height="6" fill="#fff3a4"/><rect x="196.1" y="309.9" width="11.4" height="6" fill="#ffe44c"/><rect x="206.8" y="309.9" width="11.4" height="6" fill="#fff3a4"/><rect x="217.4" y="309.9" width="6.1" height="6" fill="#ffe44c"/><rect x="222.8" y="309.9" width="6" height="6" fill="#f09424"/><rect x="228.2" y="309.9" width="11.4" height="6" fill="#d64014"/><rect x="238.8" y="309.9" width="11.4" height="6" fill="#ffe44c"/><rect x="249.6" y="309.9" width="6" height="6" fill="#fff3a4"/><rect x="254.9" y="309.9" width="11.4" height="6" fill="#fffef2"/><rect x="265.6" y="309.9" width="6" height="6" fill="#dadada"/><rect x="270.9" y="309.9" width="16.8" height="6" fill="#fffef2"/><rect x="180" y="315.2" width="6" height="6" fill="#fffef2"/><rect x="185.3" y="315.2" width="27.4" height="6" fill="#fff3a4"/><rect x="212.1" y="315.2" width="11.4" height="6" fill="#ffe44c"/><rect x="222.8" y="315.2" width="6" height="6" fill="#f9bc2e"/><rect x="228.2" y="315.2" width="11.4" height="6" fill="#f09424"/><rect x="238.8" y="315.2" width="11.4" height="6" fill="#f9bc2e"/><rect x="249.6" y="315.2" width="6" height="6" fill="#ffe44c"/><rect x="254.9" y="315.2" width="6.1" height="6" fill="#fff3a4"/><rect x="260.2" y="315.2" width="27.4" height="6" fill="#fffef2"/><rect x="180" y="320.6" width="6" height="6" fill="#fffef2"/><rect x="185.3" y="320.6" width="27.4" height="6" fill="#fff3a4"/><rect x="212.1" y="320.6" width="11.4" height="6" fill="#f9bc2e"/><rect x="222.8" y="320.6" width="6" height="6" fill="#f09424"/><rect x="228.2" y="320.6" width="11.4" height="6" fill="#e66a1c"/><rect x="238.8" y="320.6" width="6" height="6" fill="#f09424"/><rect x="244.2" y="320.6" width="16.8" height="6" fill="#f9bc2e"/><rect x="260.2" y="320.6" width="6.1" height="6" fill="#ffe44c"/><rect x="265.6" y="320.6" width="6" height="6" fill="#fff3a4"/><rect x="270.9" y="320.6" width="16.8" height="6" fill="#fffef2"/><rect x="180" y="325.9" width="6" height="6" fill="#fffef2"/><rect x="185.3" y="325.9" width="22.1" height="6" fill="#fff3a4"/><rect x="206.8" y="325.9" width="6" height="6" fill="#ffe44c"/><rect x="212.1" y="325.9" width="6" height="6" fill="#f9bc2e"/><rect x="217.4" y="325.9" width="6.1" height="6" fill="#f09424"/><rect x="222.8" y="325.9" width="6" height="6" fill="#d64014"/><rect x="228.2" y="325.9" width="6" height="6" fill="#e66a1c"/><rect x="233.5" y="325.9" width="11.4" height="6" fill="#d64014"/><rect x="244.2" y="325.9" width="6.1" height="6" fill="#e66a1c"/><rect x="249.6" y="325.9" width="6" height="6" fill="#bc1a0e"/><rect x="254.9" y="325.9" width="6.1" height="6" fill="#8c0c08"/><rect x="260.2" y="325.9" width="6.1" height="6" fill="#520505"/><rect x="265.6" y="325.9" width="6" height="6" fill="#bc1a0e"/><rect x="270.9" y="325.9" width="6.1" height="6" fill="#f9bc2e"/><rect x="276.3" y="325.9" width="6" height="6" fill="#fff3a4"/><rect x="281.6" y="325.9" width="6.1" height="6" fill="#fffef2"/><rect x="180" y="331.2" width="6" height="6" fill="#fffef2"/><rect x="185.3" y="331.2" width="11.4" height="6" fill="#fff3a4"/><rect x="196.1" y="331.2" width="11.4" height="6" fill="#ffe44c"/><rect x="206.8" y="331.2" width="6" height="6" fill="#f9bc2e"/><rect x="212.1" y="331.2" width="6" height="6" fill="#f09424"/><rect x="217.4" y="331.2" width="11.4" height="6" fill="#e66a1c"/><rect x="228.2" y="331.2" width="11.4" height="6" fill="#d64014"/><rect x="238.8" y="331.2" width="11.4" height="6" fill="#e66a1c"/><rect x="249.6" y="331.2" width="6" height="6" fill="#bc1a0e"/><rect x="254.9" y="331.2" width="11.4" height="6" fill="#8c0c08"/><rect x="265.6" y="331.2" width="6" height="6" fill="#d64014"/><rect x="270.9" y="331.2" width="6.1" height="6" fill="#f9bc2e"/><rect x="276.3" y="331.2" width="6" height="6" fill="#fff3a4"/><rect x="281.6" y="331.2" width="6.1" height="6" fill="#fffef2"/><rect x="180" y="336.5" width="16.8" height="6" fill="#fff3a4"/><rect x="196.1" y="336.5" width="6" height="6" fill="#ffe44c"/><rect x="201.4" y="336.5" width="6" height="6" fill="#f9bc2e"/><rect x="206.8" y="336.5" width="6" height="6" fill="#f09424"/><rect x="212.1" y="336.5" width="11.4" height="6" fill="#e66a1c"/><rect x="222.8" y="336.5" width="6" height="6" fill="#f09424"/><rect x="228.2" y="336.5" width="6" height="6" fill="#e66a1c"/><rect x="233.5" y="336.5" width="16.8" height="6" fill="#d64014"/><rect x="249.6" y="336.5" width="11.4" height="6" fill="#e66a1c"/><rect x="260.2" y="336.5" width="6.1" height="6" fill="#f09424"/><rect x="265.6" y="336.5" width="6" height="6" fill="#ffe44c"/><rect x="270.9" y="336.5" width="6.1" height="6" fill="#fff3a4"/><rect x="276.3" y="336.5" width="11.4" height="6" fill="#fffef2"/><rect x="180" y="341.9" width="6" height="6" fill="#fffef2"/><rect x="185.3" y="341.9" width="16.8" height="6" fill="#fff3a4"/><rect x="201.4" y="341.9" width="6" height="6" fill="#ffe44c"/><rect x="206.8" y="341.9" width="6" height="6" fill="#f09424"/><rect x="212.1" y="341.9" width="6" height="6" fill="#e66a1c"/><rect x="217.4" y="341.9" width="11.4" height="6" fill="#d64014"/><rect x="228.2" y="341.9" width="22.1" height="6" fill="#bc1a0e"/><rect x="249.6" y="341.9" width="6" height="6" fill="#d64014"/><rect x="254.9" y="341.9" width="11.4" height="6" fill="#bc1a0e"/><rect x="265.6" y="341.9" width="6" height="6" fill="#e66a1c"/><rect x="270.9" y="341.9" width="6.1" height="6" fill="#ffe44c"/><rect x="276.3" y="341.9" width="6" height="6" fill="#fff3a4"/><rect x="281.6" y="341.9" width="6.1" height="6" fill="#fffef2"/><rect x="180" y="347.2" width="11.4" height="6" fill="#fffef2"/><rect x="190.7" y="347.2" width="16.8" height="6" fill="#fff3a4"/><rect x="206.8" y="347.2" width="11.4" height="6" fill="#ffe44c"/><rect x="217.4" y="347.2" width="6.1" height="6" fill="#f9bc2e"/><rect x="222.8" y="347.2" width="6" height="6" fill="#f09424"/><rect x="228.2" y="347.2" width="6" height="6" fill="#d64014"/><rect x="233.5" y="347.2" width="6" height="6" fill="#bc1a0e"/><rect x="238.8" y="347.2" width="11.4" height="6" fill="#d64014"/><rect x="249.6" y="347.2" width="11.4" height="6" fill="#e66a1c"/><rect x="260.2" y="347.2" width="6.1" height="6" fill="#d64014"/><rect x="265.6" y="347.2" width="6" height="6" fill="#e66a1c"/><rect x="270.9" y="347.2" width="6.1" height="6" fill="#f9bc2e"/><rect x="276.3" y="347.2" width="6" height="6" fill="#fff3a4"/><rect x="281.6" y="347.2" width="6.1" height="6" fill="#fffef2"/><rect x="180" y="352.5" width="11.4" height="4.8" fill="#dadada"/><rect x="190.7" y="352.5" width="11.4" height="4.8" fill="#ffffff"/><rect x="201.4" y="352.5" width="6" height="4.8" fill="#fffef2"/><rect x="206.8" y="352.5" width="16.8" height="4.8" fill="#fff3a4"/><rect x="222.8" y="352.5" width="6" height="4.8" fill="#ffe44c"/><rect x="228.2" y="352.5" width="6" height="4.8" fill="#f09424"/><rect x="233.5" y="352.5" width="6" height="4.8" fill="#d64014"/><rect x="238.8" y="352.5" width="6" height="4.8" fill="#e66a1c"/><rect x="244.2" y="352.5" width="6.1" height="4.8" fill="#f09424"/><rect x="249.6" y="352.5" width="6" height="4.8" fill="#bc1a0e"/><rect x="254.9" y="352.5" width="6.1" height="4.8" fill="#520505"/><rect x="260.2" y="352.5" width="6.1" height="4.8" fill="#1a0000"/><rect x="265.6" y="352.5" width="6" height="4.8" fill="#8c0c08"/><rect x="270.9" y="352.5" width="6.1" height="4.8" fill="#f09424"/><rect x="276.3" y="352.5" width="6" height="4.8" fill="#fff3a4"/><rect x="281.6" y="352.5" width="6.1" height="4.8" fill="#fffef2"/><rect x="180" y="356.6" width="16.8" height="5.8" fill="#dadada"/><rect x="196.1" y="356.6" width="11.4" height="5.8" fill="#ffffff"/><rect x="206.8" y="356.6" width="6" height="5.8" fill="#fffef2"/><rect x="212.1" y="356.6" width="11.4" height="5.8" fill="#fff3a4"/><rect x="222.8" y="356.6" width="6" height="5.8" fill="#ffe44c"/><rect x="228.2" y="356.6" width="6" height="5.8" fill="#e66a1c"/><rect x="233.5" y="356.6" width="6" height="5.8" fill="#8c0c08"/><rect x="238.8" y="356.6" width="32.8" height="5.8" fill="#1a0000"/><rect x="270.9" y="356.6" width="6.1" height="5.8" fill="#f09424"/><rect x="276.3" y="356.6" width="6" height="5.8" fill="#fff3a4"/><rect x="281.6" y="356.6" width="6.1" height="5.8" fill="#fffef2"/><rect x="180" y="361.7" width="22.1" height="7.5" fill="#dadada"/><rect x="201.4" y="361.7" width="6" height="7.5" fill="#fffef2"/><rect x="206.8" y="361.7" width="22.1" height="7.5" fill="#fff3a4"/><rect x="228.2" y="361.7" width="6" height="7.5" fill="#ffe44c"/><rect x="233.5" y="361.7" width="6" height="7.5" fill="#f9bc2e"/><rect x="238.8" y="361.7" width="6" height="7.5" fill="#f09424"/><rect x="244.2" y="361.7" width="6.1" height="7.5" fill="#e66a1c"/><rect x="249.6" y="361.7" width="6" height="7.5" fill="#f09424"/><rect x="254.9" y="361.7" width="6.1" height="7.5" fill="#f9bc2e"/><rect x="260.2" y="361.7" width="6.1" height="7.5" fill="#ffe44c"/><rect x="265.6" y="361.7" width="16.7" height="7.5" fill="#fff3a4"/><rect x="281.6" y="361.7" width="6.1" height="7.5" fill="#fffef2"/><rect x="180" y="368.5" width="27.4" height="6" fill="#dadada"/><rect x="206.8" y="368.5" width="81" height="6" fill="#fffef2"/><rect x="180" y="373.8" width="27.4" height="6" fill="#dadada"/><rect x="206.8" y="373.8" width="81" height="6" fill="#fffef2"/><rect x="180" y="379.1" width="48.9" height="6" fill="#dadada"/><rect x="228.2" y="379.1" width="32.8" height="6" fill="#fffef2"/><rect x="260.2" y="379.1" width="22.1" height="6" fill="#fff3a4"/><rect x="281.6" y="379.1" width="6.1" height="6" fill="#fffef2"/><rect x="180" y="384.5" width="27.4" height="6" fill="#dadada"/><rect x="206.8" y="384.5" width="22.1" height="6" fill="#fffef2"/><rect x="228.2" y="384.5" width="16.7" height="6" fill="#fff3a4"/><rect x="244.2" y="384.5" width="11.4" height="6" fill="#ffe44c"/><rect x="254.9" y="384.5" width="11.4" height="6" fill="#f9bc2e"/><rect x="265.6" y="384.5" width="11.4" height="6" fill="#e66a1c"/><rect x="276.3" y="384.5" width="11.4" height="6" fill="#d64014"/><rect x="180" y="389.8" width="27.4" height="3.5" fill="#dadada"/><rect x="206.8" y="389.8" width="16.8" height="3.5" fill="#fffef2"/><rect x="222.8" y="389.8" width="16.7" height="3.5" fill="#fff3a4"/><rect x="238.8" y="389.8" width="6" height="3.5" fill="#ffe44c"/><rect x="244.2" y="389.8" width="6.1" height="3.5" fill="#f09424"/><rect x="249.6" y="389.8" width="6" height="3.5" fill="#bc1a0e"/><rect x="254.9" y="389.8" width="6.1" height="3.5" fill="#8c0c08"/><rect x="260.2" y="389.8" width="11.4" height="3.5" fill="#520505"/><rect x="270.9" y="389.8" width="6.1" height="3.5" fill="#8c0c08"/><rect x="276.3" y="389.8" width="6" height="3.5" fill="#520505"/><rect x="281.6" y="389.8" width="6.1" height="3.5" fill="#8c0c08"/><rect x="180" y="392.6" width="11.4" height="3.2" fill="#ffffff"/><rect x="190.7" y="392.6" width="16.8" height="3.2" fill="#dadada"/><rect x="206.8" y="392.6" width="11.4" height="3.2" fill="#ffffff"/><rect x="217.4" y="392.6" width="6.1" height="3.2" fill="#fffef2"/><rect x="222.8" y="392.6" width="16.7" height="3.2" fill="#fff3a4"/><rect x="238.8" y="392.6" width="6" height="3.2" fill="#ffe44c"/><rect x="244.2" y="392.6" width="6.1" height="3.2" fill="#f09424"/><rect x="249.6" y="392.6" width="6" height="3.2" fill="#bc1a0e"/><rect x="254.9" y="392.6" width="6.1" height="3.2" fill="#8c0c08"/><rect x="260.2" y="392.6" width="11.4" height="3.2" fill="#520505"/><rect x="270.9" y="392.6" width="6.1" height="3.2" fill="#8c0c08"/><rect x="276.3" y="392.6" width="6" height="3.2" fill="#520505"/><rect x="281.6" y="392.6" width="6.1" height="3.2" fill="#8c0c08"/><rect x="180" y="395.1" width="11.4" height="5" fill="#ffffff"/><rect x="190.7" y="395.1" width="16.8" height="5" fill="#dadada"/><rect x="206.8" y="395.1" width="11.4" height="5" fill="#ffffff"/><rect x="217.4" y="395.1" width="11.4" height="5" fill="#fff3a4"/><rect x="228.2" y="395.1" width="11.4" height="5" fill="#ffe44c"/><rect x="238.8" y="395.1" width="6" height="5" fill="#f09424"/><rect x="244.2" y="395.1" width="6.1" height="5" fill="#d64014"/><rect x="249.6" y="395.1" width="38.1" height="5" fill="#bc1a0e"/></g>
</g>
<g stroke="#333" stroke-width="0.35" stroke-opacity="0.5"><path d="M180 287.9V399.4"/><path d="M206.2 287.9V399.4"/><path d="M232.6 287.9V399.4"/><path d="M259 287.9V399.4"/><path d="M284.6 287.9V399.4"/><path d="M179.1 289.9H285.6"/><path d="M179.1 343H285.6"/><path d="M179.1 396.1H285.6"/></g>
<rect x="179.1" y="287.9" width="106.5" height="111.5" fill="none" stroke="#2e2e2e" stroke-width="0.7"/>
<g clip-path="url(#c6)">
<g fill="none" stroke="#1a1a1a" stroke-width="0.5" stroke-opacity="0.9" stroke-linejoin="round" transform="translate(179.5 287.9)">
<path d="M43 23.5L48 21.8L55 21.2L62 21.5L68 22.8L72 25L77 28.5L82 33L86.8 38L90 43L92 49L92.8 55L93.2 61L92.8 68L91.4 72.5L87 75L76 75.6L60 75.4L54.5 74L51 71.5L47.5 68.5L44.5 66L39 64.5L35 62L31.5 62.5L28 60L23 59.5L19 57.5L14 57L11 54L10.5 49L13 46L16 44L19.5 42.5L21 39L20.5 35L23.5 33L28 32.5L31 30.5L33 28L37.5 27.5L40 25.5Z"/>
<path d="M0.5 21.5L4 20.2L8 20.8L9.5 23L13 22L17 21L21 20.6L25.5 21.5L27.5 24.5L27 28.5L25 31.5L20 32L15.5 31L11.5 32L11 35.5L8 37.2L3 37L0.5 35.5"/>
<path d="M16.5 22.5L16.8 26L15.5 29L16.2 31"/>
<path d="M29 4.2L31.5 3L33.8 4.2L34 7.5L32.5 9.6L30 9L28.8 6.5Z"/>
<path d="M9 13.5L11.5 11.5L15 11L15.8 13.5L13.5 16L10 17.2L8.6 15.8Z"/>
<path d="M17 10.5L19.5 10L20 11.5L17.8 12.2Z"/>
<path d="M38.5 17.6L41.5 17.2L41.8 19.3L38.8 19.6Z"/>
<path d="M50.5 0L51 2.4L58.5 2.6L59.5 0"/>
<path d="M56.8 5.5L66 5L67.2 9L68.6 15.2L66 16.3L59.5 16.2L57.5 13.5Z"/>
<path d="M29.5 76.5L33 74L40 73.4L45 75L47.5 79L46.5 82.2L40 82.8L34 82L30.5 79.5Z"/>
<path d="M0.5 38.2L3.5 37.8L4.6 39.6L1.5 40.4Z"/>
<path d="M42 110.5L45 104.5L50 103.5L54 104L58 101L64 99.5L70 98.8L76 98.4L79.5 101.5L82 99L90 98.4L100 98.8L107 99.5"/>
</g>
</g>
<path clip-path="url(#c6)" stroke="#1c1c1c" fill="#1c1c1c" stroke-width="0.34" stroke-linejoin="miter" d="M176.4 291.4L181.9 298.4M183.4 300.2L181.4 298.7L182.4 298ZM183.1 291.3L188.5 298.4M190 300.3L188 298.7L189 298ZM189.8 291.3L195.1 298.4M196.6 300.3L194.7 298.7L195.6 298ZM196.4 291.3L201.8 298.4M203.2 300.3L201.3 298.7L202.2 298ZM203.1 291.3L208.4 298.4M209.8 300.3L207.9 298.8L208.9 298ZM209.8 291.2L215 298.4M216.4 300.4L214.5 298.8L215.5 298.1ZM216.5 291.2L221.6 298.4M223 300.4L221.1 298.8L222.1 298.1ZM223.1 291.2L228.3 298.4M229.6 300.4L227.8 298.8L228.7 298.1ZM229.8 291.2L234.9 298.5M236.2 300.4L234.4 298.8L235.4 298.1ZM236.5 291.2L241.5 298.5M242.9 300.4L241 298.8L242 298.1ZM243.1 291.1L248.1 298.5M249.5 300.5L247.6 298.8L248.6 298.1ZM249.8 291.1L254.7 298.5M256.1 300.5L254.2 298.8L255.2 298.2ZM256.5 291.1L261.4 298.5M262.7 300.5L260.9 298.8L261.9 298.2ZM263.1 291.1L268 298.5M269.3 300.5L267.5 298.8L268.5 298.2ZM269.8 291.1L274.6 298.5M275.9 300.5L274.1 298.8L275.1 298.2ZM276.5 291L281.2 298.5M282.5 300.6L280.7 298.9L281.7 298.2ZM283.2 291L287.9 298.5M289.1 300.6L287.3 298.9L288.4 298.2ZM176.4 303.6L181.9 310.7M183.4 312.6L181.5 311.1L182.4 310.3ZM183.1 303.6L188.5 310.7M190 312.6L188.1 311.1L189 310.3ZM189.7 303.6L195.2 310.7M196.6 312.6L194.7 311.1L195.6 310.4ZM196.4 303.5L201.8 310.7M203.2 312.7L201.3 311.1L202.3 310.4ZM203.1 303.5L208.4 310.7M209.8 312.7L207.9 311.1L208.9 310.4ZM209.7 303.5L215 310.8M216.5 312.7L214.6 311.1L215.5 310.4ZM216.4 303.5L221.7 310.8M223.1 312.7L221.2 311.1L222.1 310.4ZM223.1 303.5L228.3 310.8M229.7 312.7L227.8 311.1L228.8 310.4ZM229.8 303.4L234.9 310.8M236.3 312.8L234.4 311.1L235.4 310.5ZM236.4 303.4L241.5 310.8M242.9 312.8L241 311.1L242 310.5ZM243.1 303.4L248.2 310.8M249.5 312.8L247.7 311.2L248.6 310.5ZM249.8 303.4L254.8 310.8M256.1 312.8L254.3 311.2L255.3 310.5ZM256.4 303.4L261.4 310.8M262.7 312.8L260.9 311.2L261.9 310.5ZM263.1 303.3L268 310.9M269.3 312.9L267.5 311.2L268.5 310.5ZM269.8 303.3L274.6 310.9M275.9 312.9L274.1 311.2L275.1 310.5ZM276.5 303.3L281.3 310.9M282.5 312.9L280.8 311.2L281.8 310.6ZM283.1 303.3L287.9 310.9M289.2 312.9L287.4 311.2L288.4 310.6ZM176.4 315.9L182 323M183.4 324.9L181.5 323.4L182.4 322.7ZM183 315.8L188.6 323.1M190 325L188.1 323.4L189.1 322.7ZM189.7 315.8L195.2 323.1M196.7 325L194.7 323.4L195.7 322.7ZM196.4 315.8L201.8 323.1M203.3 325L201.3 323.4L202.3 322.7ZM203 315.8L208.4 323.1M209.9 325L208 323.4L208.9 322.7ZM209.7 315.8L215.1 323.1M216.5 325L214.6 323.5L215.6 322.8ZM216.4 315.7L221.7 323.1M223.1 325.1L221.2 323.5L222.2 322.8ZM223.1 315.7L228.3 323.1M229.7 325.1L227.8 323.5L228.8 322.8ZM229.7 315.7L234.9 323.1M236.3 325.1L234.4 323.5L235.4 322.8ZM236.4 315.7L241.6 323.2M242.9 325.1L241.1 323.5L242.1 322.8ZM243.1 315.6L248.2 323.2M249.5 325.2L247.7 323.5L248.7 322.8ZM249.7 315.6L254.8 323.2M256.1 325.2L254.3 323.5L255.3 322.8ZM256.4 315.6L261.4 323.2M262.7 325.2L260.9 323.5L261.9 322.9ZM263.1 315.6L268 323.2M269.4 325.2L267.5 323.5L268.5 322.9ZM269.8 315.6L274.7 323.2M276 325.2L274.2 323.5L275.2 322.9ZM276.4 315.5L281.3 323.2M282.6 325.3L280.8 323.5L281.8 322.9ZM283.1 315.5L287.9 323.2M289.2 325.3L287.4 323.6L288.4 322.9ZM176.3 328.1L182 335.4M183.5 337.3L181.5 335.8L182.5 335ZM183 328.1L188.6 335.4M190.1 337.3L188.1 335.8L189.1 335ZM189.7 328.1L195.2 335.4M196.7 337.3L194.8 335.8L195.7 335ZM196.3 328.1L201.9 335.4M203.3 337.3L201.4 335.8L202.3 335.1ZM203 328L208.5 335.4M209.9 337.4L208 335.8L209 335.1ZM209.7 328L215.1 335.4M216.5 337.4L214.6 335.8L215.6 335.1ZM216.4 328L221.7 335.5M223.1 337.4L221.2 335.8L222.2 335.1ZM223 328L228.3 335.5M229.7 337.4L227.9 335.8L228.8 335.1ZM229.7 327.9L235 335.5M236.3 337.5L234.5 335.8L235.5 335.1ZM236.4 327.9L241.6 335.5M243 337.5L241.1 335.8L242.1 335.2ZM243 327.9L248.2 335.5M249.6 337.5L247.7 335.8L248.7 335.2ZM249.7 327.9L254.8 335.5M256.2 337.5L254.3 335.9L255.3 335.2ZM256.4 327.9L261.5 335.5M262.8 337.5L261 335.9L262 335.2ZM263.1 327.8L268.1 335.5M269.4 337.6L267.6 335.9L268.6 335.2ZM269.7 327.8L274.7 335.6M276 337.6L274.2 335.9L275.2 335.2ZM276.4 327.8L281.3 335.6M282.6 337.6L280.8 335.9L281.8 335.3ZM283.1 327.8L287.9 335.6M289.2 337.6L287.4 335.9L288.5 335.3ZM176.3 340.4L182 347.7M183.5 349.6L181.6 348.1L182.5 347.4ZM183 340.4L188.6 347.7M190.1 349.6L188.2 348.1L189.1 347.4ZM189.6 340.3L195.3 347.8M196.7 349.7L194.8 348.1L195.7 347.4ZM196.3 340.3L201.9 347.8M203.3 349.7L201.4 348.1L202.4 347.4ZM203 340.3L208.5 347.8M209.9 349.7L208 348.1L209 347.4ZM209.7 340.3L215.1 347.8M216.5 349.7L214.7 348.1L215.6 347.4ZM216.3 340.2L221.8 347.8M223.2 349.8L221.3 348.2L222.2 347.5ZM223 340.2L228.4 347.8M229.8 349.8L227.9 348.2L228.9 347.5ZM229.7 340.2L235 347.8M236.4 349.8L234.5 348.2L235.5 347.5ZM236.3 340.2L241.6 347.8M243 349.8L241.1 348.2L242.1 347.5ZM243 340.2L248.2 347.9M249.6 349.8L247.7 348.2L248.7 347.5ZM249.7 340.1L254.9 347.9M256.2 349.9L254.4 348.2L255.4 347.5ZM256.4 340.1L261.5 347.9M262.8 349.9L261 348.2L262 347.6ZM263 340.1L268.1 347.9M269.4 349.9L267.6 348.2L268.6 347.6ZM269.7 340.1L274.7 347.9M276 349.9L274.2 348.2L275.2 347.6ZM276.4 340.1L281.3 347.9M282.6 349.9L280.8 348.2L281.9 347.6ZM283 340L288 347.9M289.2 350L287.5 348.2L288.5 347.6ZM176.3 352.6L182.1 360.1M183.5 362L181.6 360.4L182.5 359.7ZM182.9 352.6L188.7 360.1M190.1 362L188.2 360.4L189.2 359.7ZM189.6 352.6L195.3 360.1M196.8 362L194.8 360.5L195.8 359.7ZM196.3 352.6L201.9 360.1M203.4 362L201.4 360.5L202.4 359.8ZM202.9 352.5L208.5 360.1M210 362.1L208.1 360.5L209 359.8ZM209.6 352.5L215.2 360.1M216.6 362.1L214.7 360.5L215.7 359.8ZM216.3 352.5L221.8 360.2M223.2 362.1L221.3 360.5L222.3 359.8ZM223 352.5L228.4 360.2M229.8 362.1L227.9 360.5L228.9 359.8ZM229.6 352.5L235 360.2M236.4 362.1L234.5 360.5L235.5 359.8ZM236.3 352.4L241.7 360.2M243 362.2L241.2 360.5L242.1 359.9ZM243 352.4L248.3 360.2M249.6 362.2L247.8 360.5L248.8 359.9ZM249.6 352.4L254.9 360.2M256.2 362.2L254.4 360.6L255.4 359.9ZM256.3 352.4L261.5 360.2M262.8 362.2L261 360.6L262 359.9ZM263 352.3L268.1 360.2M269.4 362.3L267.6 360.6L268.6 359.9ZM269.7 352.3L274.8 360.3M276.1 362.3L274.3 360.6L275.3 359.9ZM276.3 352.3L281.4 360.3M282.7 362.3L280.9 360.6L281.9 359.9ZM283 352.3L288 360.3M289.3 362.3L287.5 360.6L288.5 360ZM176.2 364.9L182.1 372.4M183.6 374.3L181.6 372.8L182.6 372ZM182.9 364.9L188.7 372.4M190.2 374.3L188.2 372.8L189.2 372.1ZM189.6 364.8L195.3 372.4M196.8 374.4L194.9 372.8L195.8 372.1ZM196.2 364.8L202 372.5M203.4 374.4L201.5 372.8L202.4 372.1ZM202.9 364.8L208.6 372.5M210 374.4L208.1 372.8L209.1 372.1ZM209.6 364.8L215.2 372.5M216.6 374.4L214.7 372.8L215.7 372.1ZM216.3 364.8L221.8 372.5M223.2 374.4L221.3 372.8L222.3 372.1ZM222.9 364.7L228.4 372.5M229.8 374.5L228 372.9L228.9 372.2ZM229.6 364.7L235.1 372.5M236.4 374.5L234.6 372.9L235.6 372.2ZM236.3 364.7L241.7 372.5M243 374.5L241.2 372.9L242.2 372.2ZM242.9 364.7L248.3 372.5M249.7 374.5L247.8 372.9L248.8 372.2ZM249.6 364.6L254.9 372.6M256.3 374.6L254.4 372.9L255.4 372.2ZM256.3 364.6L261.5 372.6M262.9 374.6L261 372.9L262 372.2ZM263 364.6L268.2 372.6M269.5 374.6L267.7 372.9L268.7 372.3ZM269.6 364.6L274.8 372.6M276.1 374.6L274.3 372.9L275.3 372.3ZM276.3 364.6L281.4 372.6M282.7 374.6L280.9 372.9L281.9 372.3ZM283 364.5L288 372.6M289.3 374.7L287.5 372.9L288.5 372.3ZM176.2 377.2L182.1 384.8M183.6 386.6L181.7 385.1L182.6 384.4ZM182.9 377.1L188.7 384.8M190.2 386.7L188.3 385.1L189.2 384.4ZM189.5 377.1L195.4 384.8M196.8 386.7L194.9 385.1L195.8 384.4ZM196.2 377.1L202 384.8M203.4 386.7L201.5 385.2L202.5 384.4ZM202.9 377.1L208.6 384.8M210 386.7L208.1 385.2L209.1 384.5ZM209.6 377L215.2 384.8M216.6 386.8L214.7 385.2L215.7 384.5ZM216.2 377L221.9 384.8M223.3 386.8L221.4 385.2L222.3 384.5ZM222.9 377L228.5 384.9M229.9 386.8L228 385.2L229 384.5ZM229.6 377L235.1 384.9M236.5 386.8L234.6 385.2L235.6 384.5ZM236.2 376.9L241.7 384.9M243.1 386.9L241.2 385.2L242.2 384.5ZM242.9 376.9L248.3 384.9M249.7 386.9L247.8 385.2L248.8 384.6ZM249.6 376.9L255 384.9M256.3 386.9L254.5 385.2L255.5 384.6ZM256.3 376.9L261.6 384.9M262.9 386.9L261.1 385.3L262.1 384.6ZM262.9 376.9L268.2 384.9M269.5 386.9L267.7 385.3L268.7 384.6ZM269.6 376.8L274.8 384.9M276.1 387L274.3 385.3L275.3 384.6ZM276.3 376.8L281.4 385M282.7 387L280.9 385.3L281.9 384.6ZM282.9 376.8L288.1 385M289.3 387L287.6 385.3L288.6 384.7ZM176.2 389.4L182.2 397.1M183.6 399L181.7 397.5L182.6 396.7ZM182.8 389.4L188.8 397.1M190.2 399L188.3 397.5L189.3 396.7ZM189.5 389.4L195.4 397.1M196.9 399L194.9 397.5L195.9 396.8ZM196.2 389.3L202 397.1M203.5 399.1L201.5 397.5L202.5 396.8ZM202.8 389.3L208.6 397.2M210.1 399.1L208.2 397.5L209.1 396.8ZM209.5 389.3L215.3 397.2M216.7 399.1L214.8 397.5L215.8 396.8ZM216.2 389.3L221.9 397.2M223.3 399.1L221.4 397.5L222.4 396.8ZM222.9 389.2L228.5 397.2M229.9 399.2L228 397.5L229 396.9ZM229.5 389.2L235.1 397.2M236.5 399.2L234.6 397.6L235.6 396.9ZM236.2 389.2L241.7 397.2M243.1 399.2L241.3 397.6L242.2 396.9ZM242.9 389.2L248.4 397.2M249.7 399.2L247.9 397.6L248.9 396.9ZM249.6 389.2L255 397.3M256.3 399.2L254.5 397.6L255.5 396.9ZM256.2 389.1L261.6 397.3M262.9 399.3L261.1 397.6L262.1 396.9ZM262.9 389.1L268.2 397.3M269.5 399.3L267.7 397.6L268.7 397ZM269.6 389.1L274.8 397.3M276.1 399.3L274.3 397.6L275.4 397ZM276.2 389.1L281.5 397.3M282.8 399.3L281 397.6L282 397ZM282.9 389L288.1 397.3M289.4 399.4L287.6 397.6L288.6 397Z"/>
<circle cx="232.3" cy="358.8" r="4.5" fill="none" stroke="#1a84ba" stroke-width="1.0"/>
<text x="179.3" y="285.3" font-size="7.6" text-anchor="start" font-weight="bold" fill="#000">(f)</text>
<text x="178.5" y="291.9" font-size="6.2" text-anchor="end" >76°N</text>
<text x="178.5" y="345" font-size="6.2" text-anchor="end" >75°N</text>
<text x="178.5" y="398.1" font-size="6.2" text-anchor="end" >74°N</text>
<text x="178.6" y="405.4" font-size="6.2" text-anchor="middle" >97°W</text>
<text x="204.9" y="405.4" font-size="6.2" text-anchor="middle" >96°W</text>
<text x="231.3" y="405.4" font-size="6.2" text-anchor="middle" >95°W</text>
<text x="257.6" y="405.4" font-size="6.2" text-anchor="middle" >94°W</text>
<text x="284" y="405.4" font-size="6.2" text-anchor="middle" >93°W</text>
<text x="232.6" y="285.4" font-size="6.3" text-anchor="middle" >700 hPa</text>
<path stroke="#111" fill="#111" stroke-width="0.5" d="M261.7 284L262.7 284M263.3 284L262.7 284.2L262.7 283.8ZM265.6 284.9L265.6 282.3M265.6 280.7L266.2 282.3L265 282.3Z"/>
<text x="269.6" y="285.4" font-size="6.3">1 m s<tspan dy="-2.4" font-size="4.4">-1</tspan></text>
<rect x="290.7" y="306.8" width="4.9" height="74.7" fill="url(#gh)" stroke="#2e2e2e" stroke-width="0.5"/>
<path d="M294.4 307.7H295.6" stroke="#2e2e2e" stroke-width="0.45"/>
<text x="298" y="309.8" font-size="6.4" text-anchor="start" >120</text>
<path d="M294.4 320.3H295.6" stroke="#2e2e2e" stroke-width="0.45"/>
<text x="298" y="322.4" font-size="6.4" text-anchor="start" >100</text>
<path d="M294.4 332.9H295.6" stroke="#2e2e2e" stroke-width="0.45"/>
<text x="298" y="335" font-size="6.4" text-anchor="start" >80</text>
<path d="M294.4 345.5H295.6" stroke="#2e2e2e" stroke-width="0.45"/>
<text x="298" y="347.6" font-size="6.4" text-anchor="start" >60</text>
<path d="M294.4 358.1H295.6" stroke="#2e2e2e" stroke-width="0.45"/>
<text x="298" y="360.2" font-size="6.4" text-anchor="start" >40</text>
<path d="M294.4 370.7H295.6" stroke="#2e2e2e" stroke-width="0.45"/>
<text x="298" y="372.8" font-size="6.4" text-anchor="start" >20</text>
<text transform="translate(316 344.1) rotate(-90)" font-size="6.1" text-anchor="middle">FoO DOD &gt; 0.5 [#]</text>
<clipPath id="c7"><rect x="16.2" y="424.1" width="106.6" height="111.6"/></clipPath>
<g clip-path="url(#c7)">
<g filter="url(#bl)"><rect x="13.7" y="422" width="17.8" height="10.6" fill="#b4bd66"/><rect x="30.8" y="422" width="14.8" height="10.6" fill="#6fbe82"/><rect x="44.9" y="422" width="21.9" height="10.6" fill="#2bb6a8"/><rect x="66.1" y="422" width="21.9" height="10.6" fill="#6fbe82"/><rect x="87.3" y="422" width="7.8" height="10.6" fill="#b4bd66"/><rect x="94.4" y="422" width="7.8" height="10.6" fill="#6fbe82"/><rect x="101.4" y="422" width="7.8" height="10.6" fill="#b4bd66"/><rect x="108.5" y="422" width="7.8" height="10.6" fill="#6fbe82"/><rect x="115.5" y="422" width="10.8" height="10.6" fill="#2bb6a8"/><rect x="13.7" y="431.9" width="10.8" height="7.6" fill="#6fbe82"/><rect x="23.8" y="431.9" width="28.9" height="7.6" fill="#b4bd66"/><rect x="52" y="431.9" width="7.8" height="7.6" fill="#6fbe82"/><rect x="59.1" y="431.9" width="21.9" height="7.6" fill="#2bb6a8"/><rect x="80.2" y="431.9" width="14.8" height="7.6" fill="#6fbe82"/><rect x="94.4" y="431.9" width="14.8" height="7.6" fill="#b4bd66"/><rect x="108.5" y="431.9" width="17.8" height="7.6" fill="#6fbe82"/><rect x="13.7" y="438.8" width="24.9" height="7.6" fill="#b4bd66"/><rect x="37.9" y="438.8" width="7.8" height="7.6" fill="#6fbe82"/><rect x="44.9" y="438.8" width="7.8" height="7.6" fill="#2bb6a8"/><rect x="52" y="438.8" width="14.8" height="7.6" fill="#b4bd66"/><rect x="66.1" y="438.8" width="7.8" height="7.6" fill="#2bb6a8"/><rect x="73.2" y="438.8" width="7.8" height="7.6" fill="#1499d2"/><rect x="80.2" y="438.8" width="14.8" height="7.6" fill="#2bb6a8"/><rect x="94.4" y="438.8" width="7.8" height="7.6" fill="#6fbe82"/><rect x="101.4" y="438.8" width="7.8" height="7.6" fill="#b4bd66"/><rect x="108.5" y="438.8" width="17.8" height="7.6" fill="#6fbe82"/><rect x="13.7" y="445.7" width="10.8" height="7.6" fill="#2bb6a8"/><rect x="23.8" y="445.7" width="21.9" height="7.6" fill="#b4bd66"/><rect x="44.9" y="445.7" width="7.8" height="7.6" fill="#6fbe82"/><rect x="52" y="445.7" width="7.8" height="7.6" fill="#2bb6a8"/><rect x="59.1" y="445.7" width="7.8" height="7.6" fill="#6fbe82"/><rect x="66.1" y="445.7" width="7.8" height="7.6" fill="#b4bd66"/><rect x="73.2" y="445.7" width="14.8" height="7.6" fill="#1499d2"/><rect x="87.3" y="445.7" width="14.8" height="7.6" fill="#2bb6a8"/><rect x="101.4" y="445.7" width="7.8" height="7.6" fill="#b4bd66"/><rect x="108.5" y="445.7" width="7.8" height="7.6" fill="#6fbe82"/><rect x="115.5" y="445.7" width="10.8" height="7.6" fill="#b4bd66"/><rect x="13.7" y="452.6" width="17.8" height="7.6" fill="#2bb6a8"/><rect x="30.8" y="452.6" width="7.8" height="7.6" fill="#b4bd66"/><rect x="37.9" y="452.6" width="14.8" height="7.6" fill="#e8ba4a"/><rect x="52" y="452.6" width="7.8" height="7.6" fill="#b4bd66"/><rect x="59.1" y="452.6" width="7.8" height="7.6" fill="#1499d2"/><rect x="66.1" y="452.6" width="7.8" height="7.6" fill="#2bb6a8"/><rect x="73.2" y="452.6" width="7.8" height="7.6" fill="#b4bd66"/><rect x="80.2" y="452.6" width="7.8" height="7.6" fill="#1c72e0"/><rect x="87.3" y="452.6" width="7.8" height="7.6" fill="#1499d2"/><rect x="94.4" y="452.6" width="7.8" height="7.6" fill="#2bb6a8"/><rect x="101.4" y="452.6" width="7.8" height="7.6" fill="#6fbe82"/><rect x="108.5" y="452.6" width="17.8" height="7.6" fill="#b4bd66"/><rect x="13.7" y="459.5" width="10.8" height="7.6" fill="#1c72e0"/><rect x="23.8" y="459.5" width="7.8" height="7.6" fill="#1499d2"/><rect x="30.8" y="459.5" width="7.8" height="7.6" fill="#2bb6a8"/><rect x="37.9" y="459.5" width="7.8" height="7.6" fill="#6fbe82"/><rect x="44.9" y="459.5" width="7.8" height="7.6" fill="#b4bd66"/><rect x="52" y="459.5" width="7.8" height="7.6" fill="#e8ba4a"/><rect x="59.1" y="459.5" width="7.8" height="7.6" fill="#b4bd66"/><rect x="66.1" y="459.5" width="7.8" height="7.6" fill="#2bb6a8"/><rect x="73.2" y="459.5" width="7.8" height="7.6" fill="#1499d2"/><rect x="80.2" y="459.5" width="14.8" height="7.6" fill="#1c72e0"/><rect x="94.4" y="459.5" width="14.8" height="7.6" fill="#2bb6a8"/><rect x="108.5" y="459.5" width="7.8" height="7.6" fill="#b4bd66"/><rect x="115.5" y="459.5" width="10.8" height="7.6" fill="#e8ba4a"/><rect x="13.7" y="466.4" width="17.8" height="7.6" fill="#2a52d2"/><rect x="30.8" y="466.4" width="7.8" height="7.6" fill="#1c72e0"/><rect x="37.9" y="466.4" width="14.8" height="7.6" fill="#1499d2"/><rect x="52" y="466.4" width="7.8" height="7.6" fill="#2bb6a8"/><rect x="59.1" y="466.4" width="7.8" height="7.6" fill="#e8ba4a"/><rect x="66.1" y="466.4" width="7.8" height="7.6" fill="#b4bd66"/><rect x="73.2" y="466.4" width="7.8" height="7.6" fill="#2bb6a8"/><rect x="80.2" y="466.4" width="7.8" height="7.6" fill="#1499d2"/><rect x="87.3" y="466.4" width="7.8" height="7.6" fill="#1c72e0"/><rect x="94.4" y="466.4" width="7.8" height="7.6" fill="#1499d2"/><rect x="101.4" y="466.4" width="14.8" height="7.6" fill="#2bb6a8"/><rect x="115.5" y="466.4" width="10.8" height="7.6" fill="#6fbe82"/><rect x="13.7" y="473.3" width="17.8" height="7.6" fill="#3a2e9c"/><rect x="30.8" y="473.3" width="7.8" height="7.6" fill="#2a52d2"/><rect x="37.9" y="473.3" width="14.8" height="7.6" fill="#1c72e0"/><rect x="52" y="473.3" width="7.8" height="7.6" fill="#1499d2"/><rect x="59.1" y="473.3" width="7.8" height="7.6" fill="#2bb6a8"/><rect x="66.1" y="473.3" width="7.8" height="7.6" fill="#e8ba4a"/><rect x="73.2" y="473.3" width="7.8" height="7.6" fill="#b4bd66"/><rect x="80.2" y="473.3" width="7.8" height="7.6" fill="#2bb6a8"/><rect x="87.3" y="473.3" width="14.8" height="7.6" fill="#1499d2"/><rect x="101.4" y="473.3" width="14.8" height="7.6" fill="#2bb6a8"/><rect x="115.5" y="473.3" width="10.8" height="7.6" fill="#6fbe82"/><rect x="13.7" y="480.2" width="24.9" height="7.6" fill="#3a2e9c"/><rect x="37.9" y="480.2" width="14.8" height="7.6" fill="#2a52d2"/><rect x="52" y="480.2" width="7.8" height="7.6" fill="#1c72e0"/><rect x="59.1" y="480.2" width="7.8" height="7.6" fill="#1499d2"/><rect x="66.1" y="480.2" width="7.8" height="7.6" fill="#2bb6a8"/><rect x="73.2" y="480.2" width="7.8" height="7.6" fill="#b4bd66"/><rect x="80.2" y="480.2" width="7.8" height="7.6" fill="#6fbe82"/><rect x="87.3" y="480.2" width="7.8" height="7.6" fill="#2bb6a8"/><rect x="94.4" y="480.2" width="7.8" height="7.6" fill="#6fbe82"/><rect x="101.4" y="480.2" width="7.8" height="7.6" fill="#2bb6a8"/><rect x="108.5" y="480.2" width="7.8" height="7.6" fill="#6fbe82"/><rect x="115.5" y="480.2" width="10.8" height="7.6" fill="#e8ba4a"/><rect x="13.7" y="487.2" width="31.9" height="7.6" fill="#3a2e9c"/><rect x="44.9" y="487.2" width="14.8" height="7.6" fill="#2a52d2"/><rect x="59.1" y="487.2" width="14.8" height="7.6" fill="#1c72e0"/><rect x="73.2" y="487.2" width="7.8" height="7.6" fill="#2bb6a8"/><rect x="80.2" y="487.2" width="7.8" height="7.6" fill="#b4bd66"/><rect x="87.3" y="487.2" width="7.8" height="7.6" fill="#2bb6a8"/><rect x="94.4" y="487.2" width="31.9" height="7.6" fill="#e8ba4a"/><rect x="13.7" y="494.1" width="24.9" height="7.6" fill="#3a2e9c"/><rect x="37.9" y="494.1" width="7.8" height="7.6" fill="#2a52d2"/><rect x="44.9" y="494.1" width="7.8" height="7.6" fill="#1c72e0"/><rect x="52" y="494.1" width="7.8" height="7.6" fill="#3a2e9c"/><rect x="59.1" y="494.1" width="7.8" height="7.6" fill="#2a52d2"/><rect x="66.1" y="494.1" width="7.8" height="7.6" fill="#1c72e0"/><rect x="73.2" y="494.1" width="7.8" height="7.6" fill="#1499d2"/><rect x="80.2" y="494.1" width="7.8" height="7.6" fill="#2bb6a8"/><rect x="87.3" y="494.1" width="7.8" height="7.6" fill="#b4bd66"/><rect x="94.4" y="494.1" width="7.8" height="7.6" fill="#1499d2"/><rect x="101.4" y="494.1" width="7.8" height="7.6" fill="#2bb6a8"/><rect x="108.5" y="494.1" width="7.8" height="7.6" fill="#6fbe82"/><rect x="115.5" y="494.1" width="10.8" height="7.6" fill="#b4bd66"/><rect x="13.7" y="501" width="24.9" height="7.6" fill="#2a52d2"/><rect x="37.9" y="501" width="7.8" height="7.6" fill="#1c72e0"/><rect x="44.9" y="501" width="21.9" height="7.6" fill="#3a2e9c"/><rect x="66.1" y="501" width="7.8" height="7.6" fill="#2a52d2"/><rect x="73.2" y="501" width="7.8" height="7.6" fill="#1c72e0"/><rect x="80.2" y="501" width="7.8" height="7.6" fill="#2bb6a8"/><rect x="87.3" y="501" width="7.8" height="7.6" fill="#b4bd66"/><rect x="94.4" y="501" width="21.9" height="7.6" fill="#2bb6a8"/><rect x="115.5" y="501" width="10.8" height="7.6" fill="#6fbe82"/><rect x="13.7" y="507.9" width="10.8" height="7.6" fill="#2a52d2"/><rect x="23.8" y="507.9" width="14.8" height="7.6" fill="#1c72e0"/><rect x="37.9" y="507.9" width="7.8" height="7.6" fill="#1499d2"/><rect x="44.9" y="507.9" width="21.9" height="7.6" fill="#3a2e9c"/><rect x="66.1" y="507.9" width="7.8" height="7.6" fill="#1c72e0"/><rect x="73.2" y="507.9" width="7.8" height="7.6" fill="#1499d2"/><rect x="80.2" y="507.9" width="7.8" height="7.6" fill="#2bb6a8"/><rect x="87.3" y="507.9" width="7.8" height="7.6" fill="#b4bd66"/><rect x="94.4" y="507.9" width="21.9" height="7.6" fill="#2bb6a8"/><rect x="115.5" y="507.9" width="10.8" height="7.6" fill="#b4bd66"/><rect x="13.7" y="514.8" width="10.8" height="7.6" fill="#3a2e9c"/><rect x="23.8" y="514.8" width="7.8" height="7.6" fill="#2a52d2"/><rect x="30.8" y="514.8" width="7.8" height="7.6" fill="#1c72e0"/><rect x="37.9" y="514.8" width="7.8" height="7.6" fill="#2bb6a8"/><rect x="44.9" y="514.8" width="7.8" height="7.6" fill="#2a52d2"/><rect x="52" y="514.8" width="7.8" height="7.6" fill="#3a2e9c"/><rect x="59.1" y="514.8" width="7.8" height="7.6" fill="#2a52d2"/><rect x="66.1" y="514.8" width="7.8" height="7.6" fill="#1c72e0"/><rect x="73.2" y="514.8" width="7.8" height="7.6" fill="#2bb6a8"/><rect x="80.2" y="514.8" width="7.8" height="7.6" fill="#b4bd66"/><rect x="87.3" y="514.8" width="14.8" height="7.6" fill="#2bb6a8"/><rect x="101.4" y="514.8" width="7.8" height="7.6" fill="#b4bd66"/><rect x="108.5" y="514.8" width="7.8" height="7.6" fill="#6fbe82"/><rect x="115.5" y="514.8" width="10.8" height="7.6" fill="#b4bd66"/><rect x="13.7" y="521.7" width="10.8" height="7.6" fill="#2a52d2"/><rect x="23.8" y="521.7" width="7.8" height="7.6" fill="#1c72e0"/><rect x="30.8" y="521.7" width="7.8" height="7.6" fill="#2bb6a8"/><rect x="37.9" y="521.7" width="7.8" height="7.6" fill="#6fbe82"/><rect x="44.9" y="521.7" width="7.8" height="7.6" fill="#2bb6a8"/><rect x="52" y="521.7" width="14.8" height="7.6" fill="#1c72e0"/><rect x="66.1" y="521.7" width="7.8" height="7.6" fill="#1499d2"/><rect x="73.2" y="521.7" width="7.8" height="7.6" fill="#2bb6a8"/><rect x="80.2" y="521.7" width="14.8" height="7.6" fill="#b4bd66"/><rect x="94.4" y="521.7" width="7.8" height="7.6" fill="#2bb6a8"/><rect x="101.4" y="521.7" width="24.9" height="7.6" fill="#e8ba4a"/><rect x="13.7" y="528.6" width="31.9" height="10.6" fill="#f4bf3a"/><rect x="44.9" y="528.6" width="7.8" height="10.6" fill="#2bb6a8"/><rect x="52" y="528.6" width="14.8" height="10.6" fill="#1499d2"/><rect x="66.1" y="528.6" width="7.8" height="10.6" fill="#2bb6a8"/><rect x="73.2" y="528.6" width="14.8" height="10.6" fill="#6fbe82"/><rect x="87.3" y="528.6" width="7.8" height="10.6" fill="#b4bd66"/><rect x="94.4" y="528.6" width="7.8" height="10.6" fill="#1499d2"/><rect x="101.4" y="528.6" width="7.8" height="10.6" fill="#b4bd66"/><rect x="108.5" y="528.6" width="7.8" height="10.6" fill="#e8ba4a"/><rect x="115.5" y="528.6" width="10.8" height="10.6" fill="#b4bd66"/><path d="M18.2 426.2L23.8 434.2L29.7 443L35 450.7L42 455.2L49 457L54.2 461.2L61.2 466.8L66.4 472.7L71.7 478L77 484.2L82.2 488.4L94.4 490.2L105 490L119 492L125 490" fill="none" stroke="#f3c338" stroke-width="2.6" stroke-opacity="0.9" stroke-linecap="round" stroke-linejoin="round"/><path d="M16.8 436L24.5 438.8L30.8 443.7" fill="none" stroke="#f0c23c" stroke-width="2.6" stroke-opacity="0.9" stroke-linecap="round" stroke-linejoin="round"/><path d="M29.7 429L38.5 436L49 441.2L61.2 444.7L66.4 450" fill="none" stroke="#c9be54" stroke-width="2.4" stroke-opacity="0.8" stroke-linecap="round" stroke-linejoin="round"/><path d="M89.2 490.2L90.2 502.4L88.1 513.6L91.6 527" fill="none" stroke="#f0c23c" stroke-width="2.6" stroke-opacity="0.9" stroke-linecap="round" stroke-linejoin="round"/><path d="M101.4 431L102.4 450L101 465L104 481" fill="none" stroke="#bcbe60" stroke-width="2.4" stroke-opacity="0.5" stroke-linecap="round" stroke-linejoin="round"/><path d="M112 506L124 512M101.4 524L112 529.5M108 519L122 522" fill="none" stroke="#f0c23c" stroke-width="2.2" stroke-opacity="0.8" stroke-linecap="round" stroke-linejoin="round"/><path d="M94 497L104 499M74 492L78 500L76 508" fill="none" stroke="#d8bd50" stroke-width="2.2" stroke-opacity="0.7" stroke-linecap="round" stroke-linejoin="round"/></g>
</g>
<g stroke="#333" stroke-width="0.35" stroke-opacity="0.5"><path d="M16.8 424.1V535.7"/><path d="M52 424.1V535.7"/><path d="M87.3 424.1V535.7"/><path d="M122.4 424.1V535.7"/><path d="M16.2 428.9H122.8"/><path d="M16.2 481.3H122.8"/><path d="M16.2 533.4H122.8"/></g>
<rect x="16.2" y="424.1" width="106.6" height="111.6" fill="none" stroke="#2e2e2e" stroke-width="0.7"/>
<g fill="none" stroke="#1a1a1a" stroke-width="0.5" stroke-opacity="0.9" stroke-linejoin="round" transform="translate(16.2 424.1)">
<path d="M8 110.8L11 109.5L13.5 106.5L15.3 104L17 106.3L18.3 108.5L20.2 106.2L22 108.6L24 110.8"/>
<path d="M12.5 110.8L14.5 108.5L16.5 110"/>
</g>
<circle cx="71.8" cy="478.6" r="4.2" fill="none" stroke="#c24e1c" stroke-width="0.8"/>
<text x="16.3" y="421.5" font-size="7.6" text-anchor="start" font-weight="bold" fill="#000">(g)</text>
<text x="15.8" y="430.9" font-size="6.2" text-anchor="end" >62°N</text>
<text x="15.8" y="483.3" font-size="6.2" text-anchor="end" >61°N</text>
<text x="15.8" y="535.4" font-size="6.2" text-anchor="end" >60°N</text>
<text x="17.6" y="541.7" font-size="6.2" text-anchor="middle" >140°W</text>
<text x="52.8" y="541.7" font-size="6.2" text-anchor="middle" >139°W</text>
<text x="87.9" y="541.7" font-size="6.2" text-anchor="middle" >138°W</text>
<text x="123" y="541.7" font-size="6.2" text-anchor="middle" >137°W</text>
<text x="70.3" y="422.1" font-size="6.3" text-anchor="middle" >surface elevation</text>
<rect x="129.1" y="443.7" width="4.8" height="75.3" fill="url(#gp)" stroke="#2e2e2e" stroke-width="0.5"/>
<path d="M132.7 444.6H133.9" stroke="#2e2e2e" stroke-width="0.45"/>
<text x="136.3" y="446.7" font-size="6.4" text-anchor="start" >2500</text>
<path d="M132.7 461.1H133.9" stroke="#2e2e2e" stroke-width="0.45"/>
<text x="136.3" y="463.2" font-size="6.4" text-anchor="start" >2000</text>
<path d="M132.7 477.5H133.9" stroke="#2e2e2e" stroke-width="0.45"/>
<text x="136.3" y="479.6" font-size="6.4" text-anchor="start" >1500</text>
<path d="M132.7 494H133.9" stroke="#2e2e2e" stroke-width="0.45"/>
<text x="136.3" y="496.1" font-size="6.4" text-anchor="start" >1000</text>
<path d="M132.7 510.4H133.9" stroke="#2e2e2e" stroke-width="0.45"/>
<text x="136.3" y="512.5" font-size="6.4" text-anchor="start" >500</text>
<text transform="translate(156.3 481.4) rotate(-90)" font-size="6.1" text-anchor="middle">Elevation above sea level [m]</text>
<clipPath id="c8"><rect x="179.1" y="424.1" width="106.5" height="111.6"/></clipPath>
<g clip-path="url(#c8)">
<g filter="url(#bl)"><rect x="176.8" y="422" width="113.7" height="9" fill="#dadada"/><rect x="176.8" y="430.3" width="30.4" height="6" fill="#dadada"/><rect x="206.6" y="430.3" width="6" height="6" fill="#f4bf3a"/><rect x="211.9" y="430.3" width="27.4" height="6" fill="#dadada"/><rect x="238.7" y="430.3" width="6" height="6" fill="#2bb6a8"/><rect x="244" y="430.3" width="6.1" height="6" fill="#e8ba4a"/><rect x="249.4" y="430.3" width="41.1" height="6" fill="#dadada"/><rect x="176.8" y="435.5" width="14.4" height="6" fill="#dadada"/><rect x="190.5" y="435.5" width="6.1" height="6" fill="#f4bf3a"/><rect x="195.9" y="435.5" width="43.5" height="6" fill="#dadada"/><rect x="238.7" y="435.5" width="6" height="6" fill="#2bb6a8"/><rect x="244" y="435.5" width="6.1" height="6" fill="#b4bd66"/><rect x="249.4" y="435.5" width="41.1" height="6" fill="#dadada"/><rect x="176.8" y="440.8" width="113.7" height="6" fill="#dadada"/><rect x="176.8" y="446" width="30.4" height="6" fill="#f4bf3a"/><rect x="206.6" y="446" width="16.8" height="6" fill="#dadada"/><rect x="222.6" y="446" width="6" height="6" fill="#f4bf3a"/><rect x="228" y="446" width="6" height="6" fill="#b4bd66"/><rect x="233.3" y="446" width="6" height="6" fill="#6fbe82"/><rect x="238.7" y="446" width="11.4" height="6" fill="#2bb6a8"/><rect x="249.4" y="446" width="6" height="6" fill="#b4bd66"/><rect x="254.7" y="446" width="35.8" height="6" fill="#dadada"/><rect x="176.8" y="451.3" width="9" height="6" fill="#b4bd66"/><rect x="185.2" y="451.3" width="22.1" height="6" fill="#f4bf3a"/><rect x="206.6" y="451.3" width="6" height="6" fill="#dadada"/><rect x="211.9" y="451.3" width="11.4" height="6" fill="#f4bf3a"/><rect x="222.6" y="451.3" width="6" height="6" fill="#b4bd66"/><rect x="228" y="451.3" width="11.4" height="6" fill="#2bb6a8"/><rect x="238.7" y="451.3" width="6" height="6" fill="#1499d2"/><rect x="244" y="451.3" width="6.1" height="6" fill="#1c72e0"/><rect x="249.4" y="451.3" width="6" height="6" fill="#1499d2"/><rect x="254.7" y="451.3" width="6.1" height="6" fill="#2bb6a8"/><rect x="260.1" y="451.3" width="6" height="6" fill="#e8ba4a"/><rect x="265.4" y="451.3" width="25.1" height="6" fill="#dadada"/><rect x="176.8" y="456.6" width="19.8" height="6" fill="#f4bf3a"/><rect x="195.9" y="456.6" width="6" height="6" fill="#dadada"/><rect x="201.2" y="456.6" width="11.4" height="6" fill="#f4bf3a"/><rect x="211.9" y="456.6" width="6" height="6" fill="#e8ba4a"/><rect x="217.2" y="456.6" width="6.1" height="6" fill="#6fbe82"/><rect x="222.6" y="456.6" width="11.4" height="6" fill="#2bb6a8"/><rect x="233.3" y="456.6" width="6" height="6" fill="#6fbe82"/><rect x="238.7" y="456.6" width="6" height="6" fill="#2bb6a8"/><rect x="244" y="456.6" width="11.4" height="6" fill="#1499d2"/><rect x="254.7" y="456.6" width="11.4" height="6" fill="#2bb6a8"/><rect x="265.4" y="456.6" width="6.1" height="6" fill="#e8ba4a"/><rect x="270.8" y="456.6" width="19.8" height="6" fill="#dadada"/><rect x="176.8" y="461.8" width="25.1" height="6" fill="#dadada"/><rect x="201.2" y="461.8" width="11.4" height="6" fill="#f4bf3a"/><rect x="211.9" y="461.8" width="6" height="6" fill="#6fbe82"/><rect x="217.2" y="461.8" width="6.1" height="6" fill="#2bb6a8"/><rect x="222.6" y="461.8" width="11.4" height="6" fill="#6fbe82"/><rect x="233.3" y="461.8" width="16.8" height="6" fill="#b4bd66"/><rect x="249.4" y="461.8" width="6" height="6" fill="#2bb6a8"/><rect x="254.7" y="461.8" width="6.1" height="6" fill="#1499d2"/><rect x="260.1" y="461.8" width="6" height="6" fill="#2bb6a8"/><rect x="265.4" y="461.8" width="6.1" height="6" fill="#6fbe82"/><rect x="270.8" y="461.8" width="19.8" height="6" fill="#dadada"/><rect x="176.8" y="467.1" width="19.8" height="6" fill="#dadada"/><rect x="195.9" y="467.1" width="11.4" height="6" fill="#f4bf3a"/><rect x="206.6" y="467.1" width="6" height="6" fill="#b4bd66"/><rect x="211.9" y="467.1" width="11.4" height="6" fill="#2bb6a8"/><rect x="222.6" y="467.1" width="6" height="6" fill="#1499d2"/><rect x="228" y="467.1" width="32.8" height="6" fill="#1c72e0"/><rect x="260.1" y="467.1" width="6" height="6" fill="#1499d2"/><rect x="265.4" y="467.1" width="6.1" height="6" fill="#2bb6a8"/><rect x="270.8" y="467.1" width="19.8" height="6" fill="#dadada"/><rect x="176.8" y="472.4" width="14.4" height="6" fill="#dadada"/><rect x="190.5" y="472.4" width="6.1" height="6" fill="#f4bf3a"/><rect x="195.9" y="472.4" width="6" height="6" fill="#e8ba4a"/><rect x="201.2" y="472.4" width="6" height="6" fill="#6fbe82"/><rect x="206.6" y="472.4" width="16.8" height="6" fill="#2bb6a8"/><rect x="222.6" y="472.4" width="11.4" height="6" fill="#1499d2"/><rect x="233.3" y="472.4" width="6" height="6" fill="#1c72e0"/><rect x="238.7" y="472.4" width="6" height="6" fill="#2a52d2"/><rect x="244" y="472.4" width="22.1" height="6" fill="#1c72e0"/><rect x="265.4" y="472.4" width="6.1" height="6" fill="#1499d2"/><rect x="270.8" y="472.4" width="19.8" height="6" fill="#dadada"/><rect x="176.8" y="477.6" width="14.4" height="6" fill="#dadada"/><rect x="190.5" y="477.6" width="11.4" height="6" fill="#f4bf3a"/><rect x="201.2" y="477.6" width="6" height="6" fill="#b4bd66"/><rect x="206.6" y="477.6" width="6" height="6" fill="#6fbe82"/><rect x="211.9" y="477.6" width="16.8" height="6" fill="#2bb6a8"/><rect x="228" y="477.6" width="6" height="6" fill="#1499d2"/><rect x="233.3" y="477.6" width="11.4" height="6" fill="#1c72e0"/><rect x="244" y="477.6" width="6.1" height="6" fill="#2a52d2"/><rect x="249.4" y="477.6" width="11.4" height="6" fill="#1c72e0"/><rect x="260.1" y="477.6" width="11.4" height="6" fill="#2a52d2"/><rect x="270.8" y="477.6" width="19.8" height="6" fill="#dadada"/><rect x="176.8" y="482.9" width="19.8" height="6" fill="#dadada"/><rect x="195.9" y="482.9" width="11.4" height="6" fill="#f4bf3a"/><rect x="206.6" y="482.9" width="6" height="6" fill="#e8ba4a"/><rect x="211.9" y="482.9" width="6" height="6" fill="#f4bf3a"/><rect x="217.2" y="482.9" width="6.1" height="6" fill="#e8ba4a"/><rect x="222.6" y="482.9" width="6" height="6" fill="#b4bd66"/><rect x="228" y="482.9" width="6" height="6" fill="#2bb6a8"/><rect x="233.3" y="482.9" width="6" height="6" fill="#1499d2"/><rect x="238.7" y="482.9" width="6" height="6" fill="#1c72e0"/><rect x="244" y="482.9" width="6.1" height="6" fill="#3a2e9c"/><rect x="249.4" y="482.9" width="6" height="6" fill="#2a52d2"/><rect x="254.7" y="482.9" width="16.8" height="6" fill="#3a2e9c"/><rect x="270.8" y="482.9" width="19.8" height="6" fill="#dadada"/><rect x="176.8" y="488.1" width="35.8" height="6" fill="#dadada"/><rect x="211.9" y="488.1" width="16.8" height="6" fill="#f4bf3a"/><rect x="228" y="488.1" width="6" height="6" fill="#b4bd66"/><rect x="233.3" y="488.1" width="6" height="6" fill="#1499d2"/><rect x="238.7" y="488.1" width="6" height="6" fill="#1c72e0"/><rect x="244" y="488.1" width="11.4" height="6" fill="#2a52d2"/><rect x="254.7" y="488.1" width="16.8" height="6" fill="#3a2e9c"/><rect x="270.8" y="488.1" width="19.8" height="6" fill="#dadada"/><rect x="176.8" y="493.4" width="51.9" height="6" fill="#dadada"/><rect x="228" y="493.4" width="6" height="6" fill="#b4bd66"/><rect x="233.3" y="493.4" width="6" height="6" fill="#2bb6a8"/><rect x="238.7" y="493.4" width="16.7" height="6" fill="#1c72e0"/><rect x="254.7" y="493.4" width="16.8" height="6" fill="#2a52d2"/><rect x="270.8" y="493.4" width="19.8" height="6" fill="#dadada"/><rect x="176.8" y="498.7" width="30.4" height="6" fill="#dadada"/><rect x="206.6" y="498.7" width="6" height="6" fill="#f4bf3a"/><rect x="211.9" y="498.7" width="6" height="6" fill="#b4bd66"/><rect x="217.2" y="498.7" width="6.1" height="6" fill="#2bb6a8"/><rect x="222.6" y="498.7" width="6" height="6" fill="#e8ba4a"/><rect x="228" y="498.7" width="62.5" height="6" fill="#dadada"/><rect x="176.8" y="503.9" width="113.7" height="6" fill="#dadada"/><rect x="176.8" y="509.2" width="113.7" height="6" fill="#dadada"/><rect x="176.8" y="514.5" width="113.7" height="6" fill="#dadada"/><rect x="176.8" y="519.7" width="113.7" height="6" fill="#dadada"/><rect x="176.8" y="525" width="57.2" height="6" fill="#dadada"/><rect x="233.3" y="525" width="6" height="6" fill="#f4bf3a"/><rect x="238.7" y="525" width="6" height="6" fill="#e8ba4a"/><rect x="244" y="525" width="6.1" height="6" fill="#1499d2"/><rect x="249.4" y="525" width="6" height="6" fill="#1c72e0"/><rect x="254.7" y="525" width="6.1" height="6" fill="#2a52d2"/><rect x="260.1" y="525" width="6" height="6" fill="#e8ba4a"/><rect x="265.4" y="525" width="6.1" height="6" fill="#1c72e0"/><rect x="270.8" y="525" width="11.4" height="6" fill="#2a52d2"/><rect x="281.4" y="525" width="9.1" height="6" fill="#1499d2"/><rect x="176.8" y="530.2" width="46.5" height="9" fill="#dadada"/><rect x="222.6" y="530.2" width="6" height="9" fill="#b4bd66"/><rect x="228" y="530.2" width="6" height="9" fill="#2a52d2"/><rect x="233.3" y="530.2" width="6" height="9" fill="#1499d2"/><rect x="238.7" y="530.2" width="6" height="9" fill="#2bb6a8"/><rect x="244" y="530.2" width="6.1" height="9" fill="#2a52d2"/><rect x="249.4" y="530.2" width="6" height="9" fill="#3a2e9c"/><rect x="254.7" y="530.2" width="6.1" height="9" fill="#2a52d2"/><rect x="260.1" y="530.2" width="6" height="9" fill="#6fbe82"/><rect x="265.4" y="530.2" width="6.1" height="9" fill="#1c72e0"/><rect x="270.8" y="530.2" width="11.4" height="9" fill="#3a2e9c"/><rect x="281.4" y="530.2" width="9.1" height="9" fill="#1c72e0"/><rect x="211.9" y="503.7" width="5.4" height="3.8" fill="#e8ba4a"/><rect x="217.2" y="503.7" width="5.4" height="3.8" fill="#2bb6a8"/><rect x="222.5" y="503.7" width="4.6" height="3.2" fill="#f4bf3a"/><rect x="229.7" y="424.1" width="8.4" height="2.6" fill="#f4bf3a"/><rect x="217.4" y="441.4" width="3.6" height="2.4" fill="#f4bf3a"/><rect x="236.1" y="497.7" width="33" height="1.8" fill="#e8ba4a"/><rect x="249.1" y="522.7" width="37" height="1.6" fill="#e8ba4a"/><rect x="224.1" y="527.6" width="9" height="2" fill="#f4bf3a"/></g>
</g>
<g stroke="#333" stroke-width="0.35" stroke-opacity="0.5"><path d="M180 424.1V535.7"/><path d="M206.2 424.1V535.7"/><path d="M232.6 424.1V535.7"/><path d="M259 424.1V535.7"/><path d="M284.6 424.1V535.7"/><path d="M179.1 428.4H285.6"/><path d="M179.1 481.1H285.6"/><path d="M179.1 533.5H285.6"/></g>
<rect x="179.1" y="424.1" width="106.5" height="111.6" fill="none" stroke="#2e2e2e" stroke-width="0.7"/>
<g clip-path="url(#c8)">
<g fill="none" stroke="#3a2a10" stroke-width="0.5" stroke-opacity="0.8" stroke-linejoin="round" transform="translate(179.5 424.1)">
<path d="M43 23.5L48 21.8L55 21.2L62 21.5L68 22.8L72 25L77 28.5L82 33L86.8 38L90 43L92 49L92.8 55L93.2 61L92.8 68L91.4 72.5L87 75L76 75.6L60 75.4L54.5 74L51 71.5L47.5 68.5L44.5 66L39 64.5L35 62L31.5 62.5L28 60L23 59.5L19 57.5L14 57L11 54L10.5 49L13 46L16 44L19.5 42.5L21 39L20.5 35L23.5 33L28 32.5L31 30.5L33 28L37.5 27.5L40 25.5Z"/>
<path d="M0.5 21.5L4 20.2L8 20.8L9.5 23L13 22L17 21L21 20.6L25.5 21.5L27.5 24.5L27 28.5L25 31.5L20 32L15.5 31L11.5 32L11 35.5L8 37.2L3 37L0.5 35.5"/>
<path d="M16.5 22.5L16.8 26L15.5 29L16.2 31"/>
<path d="M29 4.2L31.5 3L33.8 4.2L34 7.5L32.5 9.6L30 9L28.8 6.5Z"/>
<path d="M9 13.5L11.5 11.5L15 11L15.8 13.5L13.5 16L10 17.2L8.6 15.8Z"/>
<path d="M17 10.5L19.5 10L20 11.5L17.8 12.2Z"/>
<path d="M38.5 17.6L41.5 17.2L41.8 19.3L38.8 19.6Z"/>
<path d="M50.5 0L51 2.4L58.5 2.6L59.5 0"/>
<path d="M56.8 5.5L66 5L67.2 9L68.6 15.2L66 16.3L59.5 16.2L57.5 13.5Z"/>
<path d="M29.5 76.5L33 74L40 73.4L45 75L47.5 79L46.5 82.2L40 82.8L34 82L30.5 79.5Z"/>
<path d="M0.5 38.2L3.5 37.8L4.6 39.6L1.5 40.4Z"/>
<path d="M42 110.5L45 104.5L50 103.5L54 104L58 101L64 99.5L70 98.8L76 98.4L79.5 101.5L82 99L90 98.4L100 98.8L107 99.5"/>
</g>
</g>
<circle cx="232" cy="495.6" r="4.2" fill="none" stroke="#c24e1c" stroke-width="0.8"/>
<text x="179.3" y="421.5" font-size="7.6" text-anchor="start" font-weight="bold" fill="#000">(h)</text>
<text x="178.5" y="430.4" font-size="6.2" text-anchor="end" >76°N</text>
<text x="178.5" y="483.1" font-size="6.2" text-anchor="end" >75°N</text>
<text x="178.5" y="535.5" font-size="6.2" text-anchor="end" >74°N</text>
<text x="178.6" y="541.7" font-size="6.2" text-anchor="middle" >97°W</text>
<text x="204.9" y="541.7" font-size="6.2" text-anchor="middle" >96°W</text>
<text x="231.3" y="541.7" font-size="6.2" text-anchor="middle" >95°W</text>
<text x="257.6" y="541.7" font-size="6.2" text-anchor="middle" >94°W</text>
<text x="284" y="541.7" font-size="6.2" text-anchor="middle" >93°W</text>
<text x="232.6" y="422.1" font-size="6.3" text-anchor="middle" >surface elevation</text>
<rect x="290.5" y="443.7" width="4.8" height="75" fill="url(#gp)" stroke="#2e2e2e" stroke-width="0.5"/>
<path d="M294.1 452.9H295.3" stroke="#2e2e2e" stroke-width="0.45"/>
<text x="297.7" y="455" font-size="6.4" text-anchor="start" >200</text>
<path d="M294.1 469.4H295.3" stroke="#2e2e2e" stroke-width="0.45"/>
<text x="297.7" y="471.5" font-size="6.4" text-anchor="start" >150</text>
<path d="M294.1 485.8H295.3" stroke="#2e2e2e" stroke-width="0.45"/>
<text x="297.7" y="487.9" font-size="6.4" text-anchor="start" >100</text>
<path d="M294.1 502.2H295.3" stroke="#2e2e2e" stroke-width="0.45"/>
<text x="297.7" y="504.4" font-size="6.4" text-anchor="start" >50</text>
<path d="M294.1 518.7H295.3" stroke="#2e2e2e" stroke-width="0.45"/>
<text x="297.7" y="520.8" font-size="6.4" text-anchor="start" >0</text>
<text transform="translate(315 481.2) rotate(-90)" font-size="6.1" text-anchor="middle">Elevation above sea level [m]</text>
</svg>
</body>
</html>
